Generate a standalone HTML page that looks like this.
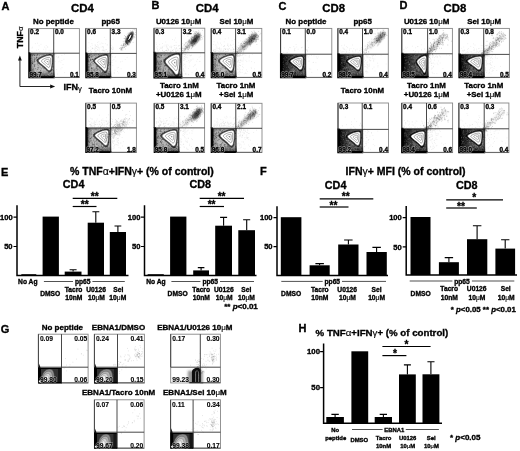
<!DOCTYPE html>
<html><head><meta charset="utf-8"><title>Figure</title>
<style>html,body{margin:0;padding:0;background:#fff}svg{display:block}text{font-family:'Liberation Sans', sans-serif;fill:#000;stroke:#000;stroke-width:.34px}.n{font-weight:normal;stroke-width:.15px}</style></head><body>
<svg width="520" height="451" viewBox="0 0 520 451">
<defs>
<linearGradient id="gq" x1="0" y1="0" x2="1" y2="0"><stop offset="0" stop-color="#000" stop-opacity="1"/><stop offset=".06" stop-color="#000" stop-opacity=".85"/><stop offset=".12" stop-color="#000" stop-opacity=".2"/><stop offset=".25" stop-color="#000" stop-opacity="0"/><stop offset="1" stop-color="#000" stop-opacity="0"/></linearGradient>
<linearGradient id="gd" x1="0" y1="0" x2="1" y2="0"><stop offset="0" stop-color="#000" stop-opacity=".9"/><stop offset=".25" stop-color="#000" stop-opacity=".6"/><stop offset=".5" stop-color="#000" stop-opacity=".15"/><stop offset="1" stop-color="#000" stop-opacity="0"/></linearGradient>
<linearGradient id="gb" x1="0" y1="0" x2="0" y2="1"><stop offset="0" stop-color="#000" stop-opacity=".35"/><stop offset=".12" stop-color="#000" stop-opacity="0"/><stop offset=".7" stop-color="#000" stop-opacity="0"/><stop offset=".93" stop-color="#000" stop-opacity=".5"/><stop offset="1" stop-color="#000" stop-opacity=".9"/></linearGradient>
<filter id="soft" x="0" y="0" width="100%" height="100%" filterUnits="userSpaceOnUse"><feGaussianBlur stdDeviation=".28"/></filter>
<filter id="b05" x="-20%" y="-20%" width="140%" height="140%"><feGaussianBlur stdDeviation=".5"/></filter>
<filter id="b15" x="-40%" y="-40%" width="180%" height="180%"><feGaussianBlur stdDeviation="1.3"/></filter>
<filter id="b07" x="-30%" y="-30%" width="160%" height="160%"><feGaussianBlur stdDeviation=".7"/></filter>
<filter id="b1" x="-30%" y="-30%" width="160%" height="160%"><feGaussianBlur stdDeviation="1"/></filter>
<filter id="b2" x="-50%" y="-50%" width="200%" height="200%"><feGaussianBlur stdDeviation="1.6"/></filter>
</defs>
<rect width="520" height="451" fill="#fff"/>
<g filter="url(#soft)">
<text x="1.4" y="9.8" font-size="11" text-anchor="start" font-weight="bold">A</text>
<text x="151.5" y="9.2" font-size="11" text-anchor="start" font-weight="bold">B</text>
<text x="278.6" y="9.5" font-size="11" text-anchor="start" font-weight="bold">C</text>
<text x="399.4" y="9.3" font-size="11" text-anchor="start" font-weight="bold">D</text>
<text x="0.9" y="175.6" font-size="11" text-anchor="start" font-weight="bold">E</text>
<text x="260" y="175.4" font-size="11" text-anchor="start" font-weight="bold">F</text>
<text x="0.8" y="332.6" font-size="11" text-anchor="start" font-weight="bold">G</text>
<text x="298.6" y="332.4" font-size="11" text-anchor="start" font-weight="bold">H</text>
<text x="82.4" y="11.5" font-size="11.4" text-anchor="middle" font-weight="bold">CD4</text>
<text x="207.2" y="11.5" font-size="11.4" text-anchor="middle" font-weight="bold">CD4</text>
<text x="333.7" y="12" font-size="11.4" text-anchor="middle" font-weight="bold">CD8</text>
<text x="454.9" y="11.5" font-size="11.4" text-anchor="middle" font-weight="bold">CD8</text>
<text x="53.4" y="23.7" font-size="7.9" text-anchor="middle" font-weight="bold">No peptide</text>
<text x="110.6" y="23.7" font-size="7.9" text-anchor="middle" font-weight="bold">pp65</text>
<text x="178.6" y="23.5" font-size="7.9" text-anchor="middle" font-weight="bold">U0126 10<tspan class="n">μ</tspan>M</text>
<text x="236.4" y="23.5" font-size="7.9" text-anchor="middle" font-weight="bold">Sel 10<tspan class="n">μ</tspan>M</text>
<text x="306" y="23.7" font-size="7.9" text-anchor="middle" font-weight="bold">No peptide</text>
<text x="362.6" y="23.7" font-size="7.9" text-anchor="middle" font-weight="bold">pp65</text>
<text x="426.6" y="23.5" font-size="7.9" text-anchor="middle" font-weight="bold">U0126 10<tspan class="n">μ</tspan>M</text>
<text x="484.2" y="23.5" font-size="7.9" text-anchor="middle" font-weight="bold">Sel 10<tspan class="n">μ</tspan>M</text>
<text x="110.4" y="92.7" font-size="7.9" text-anchor="middle" font-weight="bold">Tacro 10nM</text>
<text x="362.4" y="92.9" font-size="7.9" text-anchor="middle" font-weight="bold">Tacro 10nM</text>
<text x="179.4" y="87.7" font-size="7.9" text-anchor="middle" font-weight="bold">Tacro 1nM</text>
<text x="178.8" y="97.4" font-size="7.9" text-anchor="middle" font-weight="bold">+U0126 1<tspan class="n">μ</tspan>M</text>
<text x="236" y="87.7" font-size="7.9" text-anchor="middle" font-weight="bold">Tacro 1nM</text>
<text x="236.2" y="97.4" font-size="7.9" text-anchor="middle" font-weight="bold">+Sel 1<tspan class="n">μ</tspan>M</text>
<text x="426.4" y="87.7" font-size="7.9" text-anchor="middle" font-weight="bold">Tacro 1nM</text>
<text x="426.6" y="97.4" font-size="7.9" text-anchor="middle" font-weight="bold">+U0126 1<tspan class="n">μ</tspan>M</text>
<text x="483.8" y="87.7" font-size="7.9" text-anchor="middle" font-weight="bold">Tacro 1nM</text>
<text x="483.8" y="97.4" font-size="7.9" text-anchor="middle" font-weight="bold">+Sel 1<tspan class="n">μ</tspan>M</text>
<path d="M19.9 58V86.5H51" stroke="#111" stroke-width=".9" fill="none"/>
<path d="M19.9 55.4L18 60.4H21.8ZM55.2 86.5L50.2 84.6V88.4Z" fill="#111"/>
<text transform="translate(23.4 48.2) rotate(-90)" font-size="8.8" font-weight="bold">TNF<tspan class="n" font-size="8">α</tspan></text>
<text x="63.4" y="90" font-size="9" text-anchor="start" font-weight="bold">IFN<tspan class="n" font-size="7.6" dy="1">γ</tspan></text>
<g>
<clipPath id="ca1"><rect x="28.8" y="28.6" width="50.6" height="49"/></clipPath>
<clipPath id="qa1"><rect x="28.8" y="53.2" width="26.1" height="24.4"/></clipPath>
<g clip-path="url(#qa1)">
<rect x="28.8" y="53.2" width="26.1" height="24.4" fill="#000" opacity="0.28"/>
<rect x="28.8" y="53.2" width="26.1" height="24.4" fill="url(#gq)"/>
<rect x="28.8" y="53.2" width="26.1" height="24.4" fill="url(#gb)"/>
<path d="M32.5 60.4h0M48.7 56.9h0M40.8 74.6h0M47.4 54.9h0M53.2 69.3h0M43.1 55.8h0M42.3 62.3h0M32.4 63.6h0M36.9 58.3h0M42.2 65.9h0M46.4 66.2h0M49.2 61.3h0M39.5 70.7h0M32.3 57.8h0M37.4 58.5h0M51.6 62.1h0M35.7 62.7h0M41.2 58.8h0M52.1 74.8h0M31.4 72.7h0M44.6 56.6h0M52.6 62.5h0M36.1 59.4h0M43.4 64.3h0M51.6 60.4h0M33.8 65.4h0M42.8 74.9h0M48 62.8h0M46.1 68.8h0M41.5 67.5h0M35.5 71h0M42 55.6h0M39.3 70.9h0M41.7 75.4h0M39.2 67.7h0M50 60.6h0M48.4 69.3h0M38 70.1h0M43.9 68.9h0M37.1 57.5h0M41.2 76h0M38.9 75.6h0M45.9 63.7h0M39.3 67.5h0M41.3 55.1h0M47.3 76.3h0M40.3 72.5h0M51.6 68.5h0M34.9 71.2h0M47.8 58.4h0M40.5 61.1h0M40.6 59.7h0M45.3 67.6h0M42.8 56.3h0M40.3 74.3h0M30.8 64.6h0M32.9 64.2h0M47 56.5h0M42.8 69.5h0M46.7 72.5h0M52.7 68.3h0M46.4 59.6h0M32 71.8h0M37.9 57.5h0M44.4 72.7h0M36.2 67.2h0M52.9 60.7h0M52.4 65.7h0M50.2 68.3h0M41.6 60h0M50.1 73.2h0M33.8 63.6h0M37.9 74.2h0M41.4 72.9h0M47.8 56.4h0M41.9 68.7h0M33.9 61.2h0M38.7 71.1h0M38.2 66.4h0M37.7 64.5h0M34.6 74.3h0M40.3 55.5h0M41.1 66.7h0M48.5 61.5h0M49 55h0M42.8 71.1h0M41.3 66.8h0M48.6 74.2h0M51.1 67.6h0M46.3 61.7h0M49.1 76.3h0M52.3 56.8h0M31.7 55.4h0M50.9 70.6h0M37.1 62.5h0M41.7 62.3h0M49 73.8h0M47.2 61.5h0M34.2 74.1h0M45.9 68.6h0M32.4 61.6h0M39 55.5h0M49.4 59.7h0M40.6 75.9h0M44.5 63.3h0M47.5 57.8h0M49.6 60.9h0M48.2 74.4h0M31 57.9h0M40.4 71.6h0M41.4 57.2h0M32.1 75.7h0M43.2 66.1h0M44.7 55.2h0M49.8 75.1h0M52.4 62.2h0M33.7 70.6h0M36.1 65.9h0M45.9 56.3h0M33.8 56.6h0M35.9 57.5h0M44 57.8h0M34.7 55.4h0M48.7 55.3h0M50.4 75.4h0M31.6 56.2h0M43 65.6h0M49.1 56.9h0M53.1 59h0M37.1 71.3h0M34.7 75.2h0M50.9 64.7h0M51.6 54.3h0M35.3 76.6h0M40.9 55.3h0M47.3 62.9h0M50.2 66.3h0M34.7 74.2h0M46 72.6h0M49.3 67.9h0M43.4 63.1h0M34.6 72.9h0M31.6 73.7h0M37.2 73.7h0M49.3 70.3h0M31.8 56.4h0M31 60.9h0M39.1 65.1h0M32.3 65.5h0M34.2 72.9h0M31.3 59.5h0M42.8 69.1h0M46.8 62.6h0M40.6 71.6h0M33.9 58.6h0M38.4 64.9h0M44.3 56.5h0M52.3 58.9h0M53.5 75.1h0M36.3 61.3h0M31 74.2h0M49.8 65.9h0M52 55.1h0M41.3 72h0M48.5 55.4h0M50.6 72.7h0M44.8 54.4h0M50.8 69.3h0M31.3 57.9h0M37 61.9h0" stroke="#fff" stroke-width="0.9" stroke-linecap="round" fill="none" opacity="0.26"/>
<path d="M51.9 70.6h0M37.3 69.5h0M42 75.1h0M44.6 55.9h0M30.5 58.4h0M47.8 75.5h0M50.5 75.4h0M31 56h0M38.9 72.3h0M33 54.6h0M44.6 57.4h0M29.9 56.8h0M38 61.1h0M46.3 63.3h0M44.4 75.5h0M30.5 64.4h0M47.6 57.1h0M32.2 60.6h0M46.8 54.3h0M37.6 54.9h0M31.1 64.3h0M44.4 66.2h0M46.8 60h0M43.3 63.1h0M52.4 56.6h0M32.5 69.6h0M32.2 63.4h0M30.9 58h0M38.7 65.8h0M35.3 59.1h0M34.4 61h0M36.7 57.1h0M32.8 72.5h0M29.8 60.7h0M37 76.6h0M32.8 63.7h0M36.5 57.8h0M51 70.7h0M31.3 71.4h0M41.4 74.8h0M41.6 57.3h0M32.9 72.7h0M37 74.3h0M52.5 61.3h0M34.1 64.8h0M43.7 68.7h0M47.9 59.9h0M34.5 74.6h0M53.3 70.6h0M41.1 74.2h0M37.7 64.7h0M43.8 66.3h0M35.9 58.7h0M43.7 61.5h0M32.8 71.3h0M51 76.6h0M38.8 57.8h0M32.3 55.4h0M36.2 55.8h0M49.8 64.4h0M46.8 72.7h0M37.3 59.5h0M34.3 65.4h0M34.8 66.3h0M53 73.8h0M30.5 58h0M49.6 54.5h0M48.5 66.1h0M32 62.5h0M34.2 61h0M39.5 72.3h0M46.6 70.2h0M51.8 56.2h0M53.4 67h0M32.9 72.9h0M31.5 75.5h0M37.4 54.2h0M39.2 73.1h0M42 55.2h0M30.5 70.2h0M41.7 68.2h0M50.8 76.5h0M50.5 69h0M51.6 55.8h0M50.8 69.9h0M52.2 60.2h0M30 73.7h0M50.6 54.9h0M32.8 61.8h0M33.7 70h0M36.7 57.8h0M52 69.3h0M40.5 70.5h0M34.3 71.4h0M34.8 74.7h0M50.2 63.9h0M47.3 57.5h0M30.8 60.3h0M32.4 63.3h0M34.7 55.5h0M31.9 70.8h0M39.3 55.7h0M32 55.6h0M39.7 76h0M51.3 73.1h0M48.2 60.1h0M30.4 62.2h0M31.7 73.5h0M35.6 68.7h0M41.7 60.4h0M35 64.7h0M32.4 74.2h0M34.1 54.2h0M31.7 77.4h0M48.6 67.4h0M43.2 58.5h0M35.6 72.9h0M43.3 56h0M38.2 63.8h0M38.4 67.6h0M34.6 60h0M37.4 74.9h0M53.1 70.5h0M46 58h0M47.5 57.8h0M30.7 55.6h0M37.8 67.6h0M34.6 58.6h0M30.3 66.9h0M35.2 73.4h0M30.2 74.8h0M32.1 56.9h0M46.5 62h0M42.9 64h0M43.3 63.2h0M30.2 64h0M31.1 65h0M29.9 71.9h0M30.4 61.3h0M30.4 62.2h0M52.2 63.3h0M49.8 57.7h0M31.7 69h0M32.5 63.6h0M52.2 75.6h0M39.5 73.4h0M34.6 59.6h0M36.9 59.9h0M32.8 72.5h0M39.9 67.3h0M44.1 54.4h0M38.1 68.9h0M47.2 63.4h0M30.5 72.6h0M40.5 71.7h0M53.3 75.8h0M30.9 70.6h0M37.6 75.6h0M41.2 60.9h0M34 62.1h0M52.4 55.6h0M37.3 74.5h0M37.2 57.8h0M50.1 67.1h0M29.8 66.1h0M48.9 73.2h0M30.7 63.3h0M34.9 57.5h0M37.4 63.2h0M37.1 55.3h0M29.9 61.3h0M33.6 68.9h0M34.4 55.5h0M52 77.4h0M50.6 66.7h0M39.9 61.2h0M51.2 73.7h0M48.7 57.4h0M34.8 61.7h0M30.6 76.1h0M40.6 59.8h0M33.7 71.3h0M29.8 56.1h0M53 66.7h0M52.5 69.6h0M38.6 59.1h0M40.9 61.9h0M42.4 67.1h0M51 68h0M36.9 57.8h0M39.9 63.8h0M32 77.6h0M32.3 61.7h0M38.2 72.6h0M32.1 58.9h0M29.9 65h0M34.6 66.3h0M44.9 68.1h0M32.9 71h0M48.7 72.8h0" stroke="#000" stroke-width="0.9" stroke-linecap="round" fill="none" opacity="0.37"/>
<path d="M36.4 60.4 C36.8 58.1 45.6 54 50.1 54 C52.3 54 53.2 55 53.2 57.4 C53.2 61.5 53.2 65.6 52 70 C51.3 72.6 49.1 73.4 47.5 71.3 C44 67 36.4 63 36.4 60.4 Z" fill="#000" filter="url(#b07)" opacity="0.6"/>
<path d="M38.3 60.5 C38.5 58.7 45.9 55.3 49.7 55.3 C51.5 55.3 52.2 56 52.2 58.1 C52.2 61.5 52.2 64.9 51.2 68.6 C50.7 70.8 48.9 71.4 47.5 69.7 C44.5 66.1 38.3 62.7 38.3 60.5 Z" fill="#fff" stroke="#222" stroke-width=".5"/>
<path d="M41.4 60.9 C41.6 59.6 46.5 57.4 48.9 57.4 C50.1 57.4 50.6 57.9 50.6 59.2 C50.6 61.5 50.6 63.7 49.9 66.2 C49.6 67.6 48.4 68 47.5 66.9 C45.5 64.5 41.4 62.3 41.4 60.9 Z" fill="none" stroke="#555" stroke-width=".5"/>
<path d="M44.2 61.1 C44.3 60.5 46.9 59.2 48.3 59.2 C48.9 59.2 49.2 59.5 49.2 60.2 C49.2 61.5 49.2 62.7 48.8 64 C48.6 64.8 48 65 47.5 64.4 C46.4 63.1 44.2 61.9 44.2 61.1 Z" fill="none" stroke="#666" stroke-width=".5"/>
<path d="M46.5 61.4 C46.6 61.2 47.3 60.9 47.7 60.9 C47.9 60.9 47.9 60.9 47.9 61.1 C47.9 61.5 47.9 61.8 47.8 62.2 C47.8 62.4 47.6 62.5 47.5 62.3 C47.2 61.9 46.5 61.6 46.5 61.4 Z" fill="#888"/>
</g>
<g clip-path="url(#ca1)">
<path d="M49.1 50.2h0M51.9 51.4h0M54 43h0M39.3 51.7h0M52.4 53.1h0M44.4 47.1h0M37.6 43.2h0M35.3 43.6h0M50.8 50.7h0M47.4 46.9h0M32.6 47.2h0M46.2 45.6h0M32 51.7h0M41 44.3h0M45.7 52h0M47.8 47.2h0M34.9 52h0M32 48.1h0M45.9 48.1h0M52.2 49.9h0M51.6 50.7h0M40.2 52.5h0M45.9 49.8h0M49.6 52.3h0M53.6 52.8h0M43.7 49.3h0M53.7 48.9h0M39.1 45.8h0M36.5 50.2h0M38.5 49.6h0" stroke="#000" stroke-width="0.7" stroke-linecap="round" fill="none" opacity="0.11"/>
<path d="M59.9 61h0M57.4 74.1h0M63.9 59.2h0M64.7 72.7h0M56.4 69.5h0M55.2 61.3h0M63 64.5h0M55.7 54.5h0M58.9 61.8h0M62 67.7h0M58.7 56.5h0M64.4 54.4h0M56.2 54.3h0M61.9 55.5h0M56.3 56.6h0M60.9 68.9h0M61.9 60.5h0M60.9 62.2h0M57.9 57.8h0M58.7 57.5h0" stroke="#000" stroke-width="0.7" stroke-linecap="round" fill="none" opacity="0.11"/>
</g>
<rect x="28.8" y="28.6" width="50.6" height="49" fill="none" stroke="#888" stroke-width=".9"/>
<path d="M53.7 28.6V77.6M28.8 53.2H79.4" stroke="#1a1a1a" stroke-width=".8" fill="none"/>
<path d="M29.3 52.2V77.2H54.7" stroke="#000" stroke-width="1.9" fill="none"/>
<path d="M28.8 28.6V53.2" stroke="#333" stroke-width="1" fill="none"/>
<path d="M53.7 77.4H79.4" stroke="#666" stroke-width="1" fill="none"/>
<text x="30.1" y="34.3" font-size="6.4" text-anchor="start" font-weight="bold">0.2</text>
<text x="55" y="34.3" font-size="6.4" text-anchor="start" font-weight="bold">0.0</text>
<text x="29.4" y="76.9" font-size="6.4" text-anchor="start" font-weight="bold" style="stroke:#fff;stroke-width:1.3px;fill:#fff" opacity=".55">99.7</text>
<text x="29.4" y="76.9" font-size="6.4" text-anchor="start" font-weight="bold">99.7</text>
<text x="78.9" y="76.9" font-size="6.4" text-anchor="end" font-weight="bold">0.1</text>
</g>
<g>
<clipPath id="ca2"><rect x="85.8" y="28.4" width="50.6" height="49.2"/></clipPath>
<clipPath id="qa2"><rect x="85.8" y="53.4" width="25.7" height="24.2"/></clipPath>
<g clip-path="url(#qa2)">
<rect x="85.8" y="53.4" width="25.7" height="24.2" fill="#000" opacity="0.31"/>
<rect x="85.8" y="53.4" width="25.7" height="24.2" fill="url(#gq)"/>
<rect x="85.8" y="53.4" width="25.7" height="24.2" fill="url(#gb)"/>
<path d="M100.3 67.2h0M104.6 59.8h0M91.9 67.8h0M97.6 76.2h0M102.3 57.6h0M109.4 61.4h0M93.9 73.2h0M96.6 57.9h0M100.6 57.3h0M91 58.2h0M101.6 71.5h0M109.7 57.2h0M94 56.4h0M98.6 68.3h0M90.4 71.4h0M99.5 71.2h0M109.7 64h0M100 74.7h0M92.6 57.7h0M94.8 64.2h0M101.9 62.6h0M107.1 66.5h0M98 58.7h0M98.8 57.7h0M106 76.2h0M90.2 61.1h0M109.2 65.5h0M98.3 74.7h0M95.3 61.1h0M105.3 62.5h0M93.6 66.9h0M91.1 55.9h0M93.6 54.9h0M102.9 68.4h0M90.1 62.6h0M98 56.2h0M93.1 60.8h0M100.1 69.8h0M90.9 71.3h0M105.2 65.6h0M108.6 59.3h0M95 73h0M95.8 59h0M101.3 71.2h0M104.4 57.8h0M89.1 75.2h0M103 71.6h0M106.1 65.5h0M105.6 64h0M97.7 67.1h0M106.3 69.1h0M100.1 66.8h0M92 69.8h0M94.2 56.3h0M101.1 63.7h0M100.2 71.1h0M105.8 64.1h0M103.9 75.9h0M92.6 66.3h0M96.7 61.3h0M105.3 74.2h0M98.1 63.8h0M92.9 66.5h0M108.9 68.6h0M97.9 73.4h0M94.7 59h0M99.3 73.8h0M94.6 67.1h0M93.9 62.5h0M102.7 61.8h0M105.7 76.2h0M97 75.4h0M91.4 66.5h0M98.5 62.1h0M96.8 76h0M97.6 54.8h0M93.2 55.5h0M105.1 65.2h0M92.4 67.4h0M88.7 54.5h0M103.6 58.6h0M104.5 56.3h0M93.2 59.9h0M91.7 58.5h0M100.9 57.2h0M108.5 57.3h0M93.5 62.6h0M100 57.3h0M93.7 71.6h0M104.5 63.3h0M98.3 57h0M96.3 68.9h0M102.6 71.9h0M99.8 62.4h0M92.3 54.5h0M97.2 68.8h0M109.3 71.1h0M105.8 74.1h0M99.3 70.2h0M102.7 67.6h0M91 62h0M97.1 59.8h0M107.9 55.8h0M92 72.6h0M109.9 66.8h0M106.9 60.8h0M103.2 57.2h0M96.2 60.8h0M89.9 71.2h0M94.4 59.2h0M104.5 55.6h0M97.3 62.8h0M105.9 61.9h0M92.7 69.9h0M106.3 66.7h0M107.2 64.9h0M104 76.1h0M92.4 73.1h0M92.8 57.2h0M89.2 59.9h0M89 63.7h0M104.4 56h0M98.9 71.2h0M104.9 71.5h0M94.2 60.9h0M95.6 74.5h0M107.9 66.7h0M110.2 59.4h0M90.1 68.2h0M105.3 69.3h0M100.3 70.3h0M87.9 76h0M101.7 74.7h0M94.1 63.6h0M95.7 64h0M109.6 54.9h0M104.5 63.7h0M89 58.3h0M103.1 57.1h0M88.1 72.5h0M107.7 54.9h0M101.2 57.3h0M102 69.1h0M88.2 67h0M89.7 63.9h0M99.6 72.3h0M96.4 59.7h0M106.2 59h0M94.2 65.8h0M96.8 56.8h0M90.5 69.7h0M99.1 75.2h0M109.3 72.4h0M93.8 74h0M105.6 56h0M91.5 63.8h0M107.7 74.4h0M99.3 73.1h0M90.6 67.6h0M105.4 68.9h0M107.8 60.3h0M91.1 60.3h0M90.4 55.9h0M93.5 74.4h0M99.4 60.8h0M109.2 76.4h0M107.2 54.6h0M95.1 72.1h0M88.6 66.1h0M101.2 55.3h0" stroke="#fff" stroke-width="0.9" stroke-linecap="round" fill="none" opacity="0.25"/>
<path d="M99 68.8h0M100.2 68.2h0M100.1 58.8h0M100 57.5h0M99.4 55.7h0M102.2 56.6h0M91.8 68.7h0M108.7 68.5h0M94.1 55.3h0M89.7 73.8h0M110 64.6h0M89.9 66.9h0M93.1 56.1h0M100 74.3h0M103.2 56.3h0M90.5 59.3h0M86.9 65.2h0M96.6 65.9h0M97 66.8h0M101 76.1h0M89.5 55.2h0M103.9 70.1h0M102.4 64.4h0M105.3 73.2h0M101.8 69.9h0M99.3 73.3h0M95.9 74.4h0M105.2 72.5h0M89 57.5h0M99 66.9h0M103 72.3h0M102.4 72.4h0M87.7 75.9h0M90.5 64h0M107.8 54.6h0M102.4 71.3h0M88 60.9h0M94.1 69.6h0M103.6 55.5h0M105.2 62.6h0M95.1 69.1h0M87.4 57.3h0M88.9 61.8h0M86.9 57.8h0M88.1 75.1h0M87.1 72.4h0M100.1 69.2h0M100.1 66.5h0M93.2 77.1h0M106 60.4h0M87.9 70.8h0M88.5 56.4h0M97.5 68.8h0M95.3 58.9h0M87.6 54.6h0M106.9 75.5h0M97.8 60.9h0M97.4 77.4h0M91.7 70.2h0M97.4 70h0M87.1 70h0M90.2 77.4h0M98.1 59.6h0M97.1 77.3h0M95.2 61.9h0M87 56.6h0M90.6 75.8h0M109.7 56.7h0M108.2 65.4h0M103.9 73.7h0M87.1 60.8h0M87.2 71.1h0M88.8 69.3h0M104.2 70.4h0M88.6 57.9h0M89 70.7h0M89.5 73.9h0M101.1 57.7h0M95.2 76.7h0M105.3 76.5h0M87.2 61.8h0M87 76.6h0M104.8 76.2h0M87.5 57.1h0M100.5 71.7h0M97.3 76.7h0M88.7 73.5h0M89.5 57.5h0M101.3 63.9h0M86.9 67.5h0M108.7 63h0M87 63.4h0M88.1 56.6h0M98.3 54.6h0M87.5 61.5h0M110.2 64.2h0M93 67.8h0M87.1 76.6h0M88.1 56.5h0M95.6 62.5h0M105.6 74.6h0M89.5 73.6h0M92.2 57h0M96.3 70.1h0M98.6 56.5h0M100.8 76.3h0M90.7 60.4h0M91.6 68.5h0M105.7 65.3h0M106.9 66.3h0M92.6 59.4h0M110.2 62.7h0M88.2 61h0M104 68.7h0M107 64.2h0M96.2 68.1h0M99.8 66.9h0M87.1 69.9h0M104.7 77h0M99.6 66.8h0M96.6 67.1h0M96.7 68.6h0M88.1 67.1h0M104.8 63.9h0M95.3 60.1h0M97.4 66.8h0M88.2 60.1h0M98 69.7h0M89.2 75h0M102 73h0M86.9 72.6h0M87.6 59.3h0M88.8 55.2h0M92.2 59.1h0M105.6 67.6h0M86.8 57.3h0M96 56.7h0M86.9 77.6h0M91.8 62.6h0M90.2 55.9h0M88.1 66.3h0M94 70.6h0M91 65.1h0M89.6 57.4h0M97.5 66.3h0M89.3 56h0M109.3 71.3h0M89.3 76.2h0M109.9 55.4h0M88.1 67.6h0M108.4 73.7h0M87.1 69.3h0M86.8 57.9h0M87.4 56h0M100.3 65h0M89.1 55.5h0M89.8 73.8h0M99.3 66.4h0M86.9 61.7h0M95.6 72.3h0M92.2 59.4h0M88.1 66.3h0M107.1 66.1h0M91.4 56.8h0M90.1 73h0M99.9 70.6h0M105.1 59h0M89 64.4h0M87.7 61.6h0M108.8 76.1h0M92.8 69.9h0M95.4 76.3h0M93.5 72.2h0M104.2 72.8h0M92.9 61.6h0M101.9 74.1h0M95.1 62.2h0M87.2 73.6h0M94.8 70.9h0M105.1 66.2h0M95.3 58.4h0M92.1 68.3h0M86.9 68.9h0M100.1 70.3h0M92.1 55.9h0M90.7 60.2h0M91.6 67.4h0M92.6 74.2h0M90.9 59.8h0M90.1 75.2h0M93.6 77h0M87 56.5h0M89 71.2h0M93.1 63.6h0M106.1 57.6h0M92.8 59.6h0M96 62.8h0M106.4 54.8h0M103.4 70.5h0M100.5 64.9h0" stroke="#000" stroke-width="0.9" stroke-linecap="round" fill="none" opacity="0.38"/>
<path d="M92.9 60.6 C93.2 58.3 101.6 54.1 105.9 54.1 C108 54.1 108.7 55 108.7 57.5 C108.7 61.7 108.7 65.9 107.6 70.5 C107 73.2 104.9 74 103.4 71.9 C100 67.5 92.9 63.3 92.9 60.6 Z" fill="#000" filter="url(#b07)" opacity="0.62"/>
<path d="M94.6 60.8 C94.9 58.8 101.9 55.3 105.5 55.3 C107.2 55.3 107.8 56.1 107.8 58.2 C107.8 61.7 107.8 65.2 106.9 69.1 C106.4 71.3 104.7 71.9 103.4 70.2 C100.6 66.5 94.6 63 94.6 60.8 Z" fill="#fff" stroke="#222" stroke-width=".5"/>
<path d="M97.6 61.1 C97.8 59.8 102.4 57.5 104.7 57.5 C105.9 57.5 106.3 58 106.3 59.4 C106.3 61.7 106.3 64 105.7 66.6 C105.4 68 104.2 68.5 103.4 67.3 C101.5 64.9 97.6 62.6 97.6 61.1 Z" fill="none" stroke="#555" stroke-width=".5"/>
<path d="M100.2 61.4 C100.3 60.7 102.8 59.4 104.1 59.4 C104.7 59.4 105 59.7 105 60.5 C105 61.7 105 63 104.6 64.4 C104.4 65.2 103.8 65.4 103.4 64.8 C102.4 63.4 100.2 62.2 100.2 61.4 Z" fill="none" stroke="#666" stroke-width=".5"/>
<path d="M102.5 61.6 C102.5 61.4 103.2 61.1 103.6 61.1 C103.7 61.1 103.8 61.2 103.8 61.4 C103.8 61.7 103.8 62.1 103.7 62.5 C103.7 62.7 103.5 62.7 103.4 62.6 C103.1 62.2 102.5 61.9 102.5 61.6 Z" fill="#888"/>
</g>
<g clip-path="url(#ca2)">
<path d="M96.7 48.3h0M110.1 47.2h0M112.7 47h0M99.6 50h0M95.8 51h0M103.3 50.3h0M98.2 48h0M110.7 45.4h0M95.2 53.4h0M91.1 51.6h0M88.2 47.9h0M92.2 47.6h0M90.2 50.7h0M111.2 45.4h0M105.3 52h0M102.7 53.3h0M112.1 49h0M103.7 48.1h0M106 49.5h0M91.9 49.1h0M95.2 51.7h0M103.7 47h0M109.3 52.8h0M95.1 50.9h0M99.5 53.2h0M95.1 44.8h0M95.2 47.1h0M102.6 46.6h0M111.4 48h0M112.9 49.5h0M102.4 50h0M88.4 51.7h0M94.9 48.1h0M104.7 52.3h0M111.6 48.7h0M91.6 52.5h0M109.1 52.8h0M110.4 49.6h0M90.1 52.2h0M111.1 51.8h0M103.1 46.8h0M109.6 52.4h0M105.1 50h0M105.3 43.7h0M110.3 51.6h0M107.4 51.9h0M98.3 50.2h0M97.6 42.4h0M112.7 49.3h0M94.6 49.8h0M97.5 49.9h0M91.5 51.7h0M96.5 46.7h0M102.8 52.7h0M92.8 48.5h0M98.8 41.8h0M103.5 50.6h0M97.7 49.8h0M107.2 45.1h0M101.1 47.1h0M96.2 50.5h0M106.4 49.7h0M102.1 50.5h0M99.4 51.9h0M91.9 43.5h0M113.2 47.4h0M92.3 48.5h0M97.7 44.8h0M102.9 43.5h0M111.8 49h0M95.6 48.1h0M90.7 46.7h0M106 39.7h0M112.3 52.2h0M99.4 48.1h0M113.5 48.8h0M96.1 53.1h0M110.5 47.1h0M87.8 52.1h0M105.3 53.3h0M110.6 52h0M95 46h0M109.6 50.8h0M103.2 52.1h0M96 53.2h0M88.9 42.7h0M104.8 50.3h0M97.5 47.1h0M101.8 43h0M92.9 48.7h0M88.3 51.2h0M90.3 52.5h0M104.3 37.4h0M91.1 39.7h0M95.5 45.3h0M103 47.7h0M94.8 52.6h0M100 44.1h0M98.4 47.3h0M107.8 51.7h0M98.2 45.9h0M95.1 48.9h0M113.2 39.1h0M92.2 45.2h0M104.3 51.1h0M103.8 49.2h0M96.8 46.5h0M106.9 52.8h0M107.2 44.7h0M100.1 52.5h0M96.1 51.8h0M90.7 50.1h0M110.2 50.6h0M113.1 52.9h0" stroke="#000" stroke-width="0.7" stroke-linecap="round" fill="none" opacity="0.11"/>
<path d="M114.9 70.1h0M114.2 73.6h0M112 62.5h0M115 57.3h0M120.5 61.9h0M117.5 71.5h0M118.8 73h0M125.2 59.5h0M122.2 61.3h0M121.1 68.8h0M113.9 59.5h0M112.6 56.8h0M127.1 57.4h0M115.9 61.1h0M115.5 56.8h0M117.2 67.9h0M112.8 65.4h0M114.2 72.6h0M118.4 67.4h0M112.8 60.6h0" stroke="#000" stroke-width="0.7" stroke-linecap="round" fill="none" opacity="0.11"/>
<path d="M123.8 45.8h0M125 46.6h0M127 38.1h0M126 41.3h0M121.6 48.1h0M127 38.9h0M132.8 37.5h0M128.8 39.5h0M128.5 38.9h0M129 39.7h0M127.6 42.7h0M128.5 39.1h0M121.1 48.5h0M128.8 39.8h0M126.6 41.8h0M125.1 45h0M122.1 45.5h0M126 38.5h0M125 44.1h0M123.2 41.3h0M126.1 46.1h0M128.6 38.6h0M124.1 44.9h0M123 46.6h0M124.2 45.3h0M128.5 39.7h0M121.6 49.4h0M126.9 41.9h0M130.1 42.6h0M127 42.9h0M126.1 43.8h0M127.3 43.3h0M121.4 48.3h0M125.4 44.6h0M125.6 40.7h0M124.5 47.4h0M125.6 42.3h0M122.2 45.9h0M121.7 45h0M124.1 47h0M128.2 44h0M128.9 40.7h0M127.3 38.7h0M126.2 42.6h0M120.9 49.6h0M127 41.2h0M128 38.2h0M120.1 48.3h0M125.9 43.4h0M121.6 49.7h0M126.9 40.6h0M123.3 45h0M131.7 39.9h0M126 41.1h0M126.9 40.9h0M126.3 42.5h0M123.3 43.7h0M122.1 48.7h0M127.9 38.8h0M123.7 43.8h0M124.6 43.6h0M127.5 44.1h0M123 47.7h0M126.2 44.7h0M125.3 44.8h0M127.8 36.7h0M130 38.6h0M123.8 45.2h0M126.9 38.3h0M120.9 50h0M126.1 41.4h0M129.6 39.3h0M123.3 45h0M125.4 45.8h0M128.7 39.7h0M126.7 41.1h0M128.5 38.4h0M123.9 45.2h0M121 45.7h0M119.6 48.4h0M124.1 41.9h0M122.8 49.9h0M127.5 41.4h0M122.7 47.8h0M125.9 41.8h0M124 43h0M122.3 47.4h0M125.7 42.6h0M130.6 38.3h0M125.7 41.6h0M126.5 42.9h0M126.1 42.9h0M129.9 37.3h0M129 38.7h0M129.8 37.8h0M125 43.7h0M123.5 45.1h0M121.8 50.2h0M124.3 47.1h0M130.6 36.5h0M126.9 40.3h0M126.9 43.2h0M123 47.5h0M129.7 40.4h0M121.2 47.3h0M127.7 40.8h0M129.6 40.9h0M129 39.5h0M129.9 40h0M126.8 40.2h0M126.1 41.3h0M126 42.1h0M129.2 39.8h0M123 48.1h0M126 46.6h0M127.7 38.9h0M130.6 37.3h0M128.8 40.3h0M120.8 47.6h0M129.4 40.3h0" stroke="#000" stroke-width="0.7" stroke-linecap="round" fill="none" opacity="0.25"/>
<path d="M129.4 41.7h0M127.3 36.5h0M125 41.7h0M127.9 38.7h0M128.7 36.7h0M133.9 33.4h0M125.5 39.1h0M130.4 36.8h0M123.9 44.5h0M128 42.7h0M128.2 41h0M127.6 39.3h0M133.8 38.3h0M130.5 35.7h0M128.2 44.6h0M128.3 35h0M127.1 41.8h0M133 31.6h0M130.2 37h0M129.2 37.2h0M127.8 37.9h0M124.5 35.5h0M128.5 37.5h0M126.7 39.7h0M130.4 35.1h0M131.3 37.8h0M134.4 37.2h0M130.2 38.7h0M132.3 36.5h0M129 41.2h0M137.3 26h0M129 41h0M128.2 39.4h0M130.7 34.3h0M132.3 33.9h0M130.8 42.3h0M127.6 44.5h0M129.4 44.3h0M125.5 40.4h0M128.4 41h0M129.8 38.9h0M132.2 34.8h0M129.3 33h0M125.4 38.6h0M127.1 34.3h0M130.5 34.6h0M135.8 35h0M129.5 38.8h0M126.1 39.6h0M131.4 35.7h0M131.8 32.4h0M128.7 40h0M132.4 30.8h0M130.6 30.9h0M128.1 38.5h0M127.7 44.2h0M128.8 40.4h0M130.8 40.3h0M128.8 35.3h0M128 44.8h0M134.1 29.5h0M134.2 29.9h0M130.1 41.7h0M125.8 44.5h0M129.6 38.9h0M131.3 37.1h0M133.1 33.8h0M132.1 36.2h0M131.2 39.9h0M126.6 45.5h0M129.8 35.9h0M135 37.2h0M128.9 39.1h0M130.6 37.4h0M128.7 36.7h0M125.6 37.1h0M126.1 41.5h0M130.3 36.9h0M127.7 43.5h0M132.2 33.2h0M129.1 41.9h0M132 37.2h0M129.7 41.5h0M130.2 36.8h0M129.3 38.9h0M130.2 36h0M126.6 40.1h0M128.7 45.1h0M127 38h0M128.7 39.3h0M127.1 43.6h0M124.8 38.7h0M127.6 44.6h0M129.2 37.4h0M129.2 39.6h0M129 37.8h0M132 27.6h0M130.1 37.7h0M130.4 36.9h0M132.3 36.7h0M130 39h0M125.7 38.8h0M132.9 35.9h0M132.7 35.1h0M125.3 49h0M130 39.1h0M127.8 38.7h0M129.3 40.5h0M131.3 33.4h0M133.1 42.4h0M130.8 34.9h0M126.7 39.1h0M128.2 39.3h0M133.2 36.8h0M127.2 40.2h0M125.3 36.6h0M129.8 43.2h0M128.4 41.5h0M130.1 35.1h0M131.8 36.7h0M125.9 41.4h0M125.4 41.3h0M135.8 29.9h0M127.5 39.9h0M128.7 41.6h0M130.5 36.3h0M129.4 41.6h0M129 39.5h0M127.9 33.2h0M132.5 35.2h0M128.4 38.4h0M133.4 34.1h0M129.4 38.7h0M131.3 40.2h0M129 37.9h0M125.7 37.5h0M130 36h0M130.9 37.6h0M127.5 40.6h0M129.1 37.1h0M130.8 41.3h0M128.2 40h0M130.9 39.5h0M131.7 34.6h0M127.7 35.9h0M130.4 32.8h0M131.9 32.3h0M129.9 38.5h0M127.1 39.6h0M125.8 39.7h0M128.4 36.3h0M130.3 34.6h0M131.1 31.8h0M126.1 42.2h0M134.2 36.4h0M132 34.6h0M132.8 28.8h0M129.9 37.4h0M132 39.6h0M127.7 44h0M127.9 40.8h0M125.3 40.9h0M124.9 40.2h0M127.3 41h0M126.5 43.4h0M126.8 37h0M128.1 35.6h0M130.9 35.4h0M125.8 36.5h0M128.8 32.9h0M131.4 34.3h0M127.6 43.9h0M129.5 39.3h0M128.8 43.3h0M130.2 42.9h0M131.3 38.2h0M128.9 38.3h0M135.7 34.7h0M136.1 32.3h0M131.8 37.4h0M127.9 38.1h0M129.9 38.9h0M126.2 36.3h0M130.1 35.8h0M124.2 38.5h0M130 35.6h0M130.7 39.8h0M131.6 34.3h0M134.7 34.6h0M132.8 31.9h0M129.4 38.7h0M126.5 42.6h0M127.2 44.4h0M129 39h0M128.8 44.1h0M129 45.2h0M129.5 39.6h0M125.9 40.6h0M131.8 36.1h0M135.4 32.3h0M130.2 39.4h0M130.6 37.2h0M128.1 44.4h0M132 38.5h0M124.1 38.3h0M129.9 43.2h0M127.3 45.3h0M133.4 32.8h0M125.7 43.3h0M127.7 42.5h0M130.6 38.5h0M127.8 35.7h0M131.3 37.6h0M129.9 37.7h0M130.3 42.4h0M132.1 35.9h0M129.7 37.2h0M127 43.2h0M133.6 32.9h0M129.2 39.3h0" stroke="#000" stroke-width="0.75" stroke-linecap="round" fill="none" opacity="0.22"/>
<ellipse cx="129.6" cy="37.8" rx="7" ry="2.9" transform="rotate(-62 129.6 37.8)" fill="#000" opacity=".6" filter="url(#b07)"/>
<ellipse cx="129.9" cy="37.2" rx="3.8" ry="1.15" transform="rotate(-62 129.9 37.2)" fill="#fff" stroke="#000" stroke-width=".8"/>
</g>
<rect x="85.8" y="28.4" width="50.6" height="49.2" fill="none" stroke="#888" stroke-width=".9"/>
<path d="M110.3 28.4V77.6M85.8 53.4H136.4" stroke="#1a1a1a" stroke-width=".8" fill="none"/>
<path d="M86.3 52.4V77.2H111.3" stroke="#000" stroke-width="1.9" fill="none"/>
<path d="M85.8 28.4V53.4" stroke="#333" stroke-width="1" fill="none"/>
<path d="M110.3 77.4H136.4" stroke="#666" stroke-width="1" fill="none"/>
<text x="87.1" y="34.1" font-size="6.4" text-anchor="start" font-weight="bold">0.6</text>
<text x="111.6" y="34.1" font-size="6.4" text-anchor="start" font-weight="bold">3.3</text>
<text x="86.4" y="76.9" font-size="6.4" text-anchor="start" font-weight="bold" style="stroke:#fff;stroke-width:1.3px;fill:#fff" opacity=".55">95.8</text>
<text x="86.4" y="76.9" font-size="6.4" text-anchor="start" font-weight="bold">95.8</text>
<text x="135.9" y="76.9" font-size="6.4" text-anchor="end" font-weight="bold">0.3</text>
</g>
<g>
<clipPath id="ca3"><rect x="85.8" y="103.1" width="50.6" height="49.4"/></clipPath>
<clipPath id="qa3"><rect x="85.8" y="127.9" width="25.8" height="24.6"/></clipPath>
<g clip-path="url(#qa3)">
<rect x="85.8" y="127.9" width="25.8" height="24.6" fill="#000" opacity="0.31"/>
<rect x="85.8" y="127.9" width="25.8" height="24.6" fill="url(#gq)"/>
<rect x="85.8" y="127.9" width="25.8" height="24.6" fill="url(#gb)"/>
<path d="M87.9 136.7h0M90.7 140.8h0M92.3 130.7h0M105.4 148.4h0M96.2 143.6h0M92.3 136h0M96.2 142.6h0M93.6 151.1h0M93.5 142.5h0M100.6 138.1h0M103 144.3h0M93.4 146h0M100.2 144.4h0M88.5 133.7h0M109.8 129.4h0M90.1 136.1h0M100.4 138.7h0M110.3 147.7h0M95.1 130.9h0M94.3 148h0M104.5 130.2h0M98.3 136h0M93.8 138h0M100.7 150h0M106.5 150.3h0M102.9 129.8h0M93.2 133.3h0M102.9 139h0M108.8 135.1h0M92.3 150.4h0M102.5 142.7h0M99.1 136.3h0M102.8 142.5h0M90.9 144.1h0M93.1 148.3h0M95.7 149h0M106.8 138.4h0M96.5 146h0M95.4 150.9h0M104.6 141h0M90.9 145.4h0M95 139.9h0M100.2 137.5h0M95.6 133.5h0M101.3 131h0M101.4 136.2h0M91 136.9h0M90.8 141.8h0M105.5 144.1h0M97.2 145h0M91.2 146.3h0M89.5 141.8h0M97.3 140.5h0M106.8 142.7h0M92.4 144.8h0M110.3 148h0M88.3 134.6h0M101.2 148.3h0M103.6 133.4h0M99.8 129.3h0M93.7 146.9h0M95 134.1h0M100.3 147.9h0M108 137h0M97.3 136.9h0M95.6 148.6h0M96.8 146.1h0M110.4 130.2h0M93.8 150.2h0M91.7 133.6h0M108 144h0M90.6 150.2h0M106.8 147.9h0M101.9 139.9h0M109.4 150.3h0M95 144.4h0M107.1 134.5h0M89.8 150.7h0M105.5 141.7h0M95.2 136.2h0M98.2 138.7h0M105.8 133.3h0M102.1 141.9h0M98.2 141.7h0M94.4 132.5h0M104.9 138.3h0M98.3 134.9h0M93.3 149.1h0M96.7 133.3h0M105.8 142.6h0M89.1 143.4h0M95.1 142.5h0M104.2 137.3h0M101.6 134.4h0M97.7 129.1h0M91.3 133.5h0M88.9 147.3h0M96.9 135.2h0M103.4 141h0M93.9 135.6h0M108.2 130.4h0M101.8 138.4h0M98.1 151.3h0M104.9 138h0M94.6 136.4h0M108 141.8h0M96.1 137h0M87.9 134.2h0M109.9 137.5h0M99 149.2h0M108.2 132.1h0M90.3 131.9h0M92.3 145.9h0M98.7 133.1h0M108 131.9h0M89.9 134.4h0M100 148.8h0M104.9 150.2h0M96.6 150h0M97.9 136h0M108.9 149.4h0M99.9 130.3h0M103.4 139.8h0M103 141.4h0M108.1 139.1h0M95.5 151h0M100.2 145.9h0M92.6 139.7h0M95.3 145.5h0M106.4 146.1h0M109.6 131.4h0M95.2 136.2h0M105 136.3h0M100 150.2h0M103.5 148.2h0M96.1 135.7h0M95.8 151.2h0M92.5 130.5h0M99.1 136.4h0M89.1 133.4h0M107.2 140.7h0M93.3 149.3h0M102.1 146.7h0M99.2 129.7h0M95.7 134.5h0M109.1 146.5h0M107 135.2h0M104.4 147.4h0M90.5 143h0M98.2 144.7h0M102.5 145h0M90 141.9h0M103.5 133.1h0M106.3 147.2h0M109.3 141.6h0M99.1 145.2h0M88.4 129.5h0M92.5 133h0M106 141.7h0M91.2 147h0M101.9 137.1h0M102.6 145.9h0M97.8 128.9h0M105.5 129.9h0M90.6 144.5h0M101.8 151.2h0M96.4 136h0M107.2 136.5h0M96.8 136.6h0M92.1 142h0" stroke="#fff" stroke-width="0.9" stroke-linecap="round" fill="none" opacity="0.25"/>
<path d="M92.1 142.4h0M91.5 137.7h0M102.2 144.4h0M86.8 139h0M105.7 139.4h0M101.4 138.2h0M108.8 142.4h0M104.7 128.9h0M103.1 143.1h0M90.1 131.7h0M102.7 134.3h0M97.1 148.1h0M91.2 134.3h0M103.6 143.5h0M94.3 134.9h0M109.8 152.4h0M100.8 152.1h0M106 136.7h0M106.8 150.4h0M96.8 150.4h0M106.5 133.7h0M97.2 137.8h0M94.9 133.3h0M110.2 134.3h0M100 141.3h0M99.9 140.8h0M110 139.6h0M98 133.6h0M86.8 141.5h0M99.4 151.2h0M98 137.4h0M101 145.1h0M109.5 134.3h0M101.3 146.7h0M110.2 142.5h0M102.9 150.6h0M109.6 130.7h0M93 144.4h0M89.3 138.8h0M95.9 137.6h0M106.3 136.8h0M105.3 150.2h0M99.2 134.9h0M92.3 143.8h0M89.8 129.5h0M86.9 151.6h0M92.6 147.8h0M94.7 145.2h0M109.7 141.1h0M96.3 137.4h0M96.6 139.2h0M93.7 144.5h0M86.8 140.9h0M90 150h0M98.9 136.6h0M100.4 149.3h0M108.6 136h0M94.1 132.3h0M99.8 131.9h0M103.2 135.2h0M102 150.5h0M87.7 147.8h0M106.4 146.3h0M101.8 136.1h0M99.2 134h0M87.9 137.4h0M108.3 144.7h0M99.5 132.7h0M88.5 141.4h0M96.8 137.6h0M87.9 146.8h0M87 144.1h0M100.5 132.4h0M101.3 136.2h0M95 148h0M87.9 149.8h0M90.7 141h0M87.4 148.4h0M89 133.9h0M87.1 138.5h0M99 144.1h0M102.6 129.6h0M95 141.4h0M99 149h0M87.9 133.9h0M107 129.2h0M97.1 144.2h0M87.6 144.5h0M95.5 134.6h0M93.6 136.6h0M105.6 137h0M101.7 130.9h0M87.4 146.5h0M98.6 134h0M87 147.1h0M94.5 144.3h0M104.5 131.3h0M88.4 146.6h0M98.6 132.3h0M92.4 144.4h0M87.5 130.7h0M106.3 142.6h0M100.7 139.4h0M89.7 141.3h0M88.6 146.6h0M91.4 146.3h0M100.6 130h0M107.3 132.8h0M95 152.1h0M86.8 139.3h0M86.8 148.3h0M89.3 141.9h0M102.8 147.1h0M88.2 130.6h0M96.6 140.7h0M86.9 146.7h0M90.7 138.7h0M98.9 145.8h0M99.6 148.5h0M86.8 148.1h0M88.3 133.7h0M89.1 150.3h0M89.5 142.6h0M91.4 133.2h0M102.9 147.6h0M87.4 134.9h0M89.1 136.8h0M94.2 138.7h0M102.7 140.8h0M102.4 133h0M87.5 149h0M95.5 148.2h0M98.6 136.1h0M93 151.8h0M105.1 130.3h0M87.5 131.8h0M96.1 147h0M100.6 134.6h0M109.7 133.8h0M86.8 129.4h0M100.9 136.7h0M91 130.7h0M101.5 144h0M95.3 129h0M102.7 139.2h0M88.1 149.8h0M107.3 142.2h0M92 136.7h0M103.4 131.5h0M90.1 151.4h0M87.8 129.3h0M91.1 140.7h0M99.4 137.6h0M107.4 147h0M94.5 142.8h0M90.9 151h0M107.9 151.4h0M101.4 146.1h0M93.4 140.1h0M98.7 141.5h0M89.4 150.6h0M94.5 146.3h0M92.3 146.6h0M89.3 151.1h0M87.3 137.7h0M89 148.5h0M103.3 146.7h0M102 138h0M93.1 146.7h0M106.1 131.4h0M88 129.3h0M101.2 149.5h0M102.1 152h0M87.1 139.1h0M105.5 138.1h0M102.5 134.3h0M93.7 151h0M94.4 135h0M96.8 144.1h0M94.1 148.1h0M87 139.6h0M92.9 151.5h0M105.5 137.5h0M95.5 147.2h0M89.3 134h0M107 140.3h0M92.8 145.4h0M88.4 134.9h0M97.1 148.6h0M88.2 151.1h0M97.9 135.7h0M99.5 140.6h0M88.5 129.3h0M90.5 138.4h0M96.9 143h0M88.9 132.7h0M104 152h0M101.1 133h0M88.3 140.8h0M96.9 129.1h0" stroke="#000" stroke-width="0.9" stroke-linecap="round" fill="none" opacity="0.38"/>
<path d="M92.8 135.1 C93.1 132.9 102.1 128.7 106.6 128.7 C108.8 128.7 109.6 129.7 109.6 132.1 C109.6 136.2 109.6 140.4 108.5 144.9 C107.8 147.5 105.6 148.2 103.9 146.2 C100.4 141.9 92.8 137.7 92.8 135.1 Z" fill="#000" filter="url(#b07)" opacity="0.62"/>
<path d="M94.7 135.3 C94.9 133.4 102.4 130 106.2 130 C108 130 108.7 130.8 108.7 132.8 C108.7 136.2 108.7 139.7 107.7 143.4 C107.1 145.6 105.3 146.2 103.9 144.5 C101 140.9 94.7 137.5 94.7 135.3 Z" fill="#fff" stroke="#222" stroke-width=".5"/>
<path d="M97.8 135.6 C98 134.4 102.9 132.1 105.4 132.1 C106.6 132.1 107.1 132.6 107.1 134 C107.1 136.2 107.1 138.5 106.4 141 C106 142.4 104.8 142.8 103.9 141.7 C102 139.3 97.8 137.1 97.8 135.6 Z" fill="none" stroke="#555" stroke-width=".5"/>
<path d="M100.6 135.9 C100.7 135.2 103.4 134 104.7 134 C105.4 134 105.6 134.3 105.6 135 C105.6 136.2 105.6 137.5 105.3 138.8 C105.1 139.6 104.4 139.8 103.9 139.2 C102.9 137.9 100.6 136.7 100.6 135.9 Z" fill="none" stroke="#666" stroke-width=".5"/>
<path d="M103 136.1 C103 136 103.8 135.6 104.1 135.6 C104.3 135.6 104.4 135.7 104.4 135.9 C104.4 136.2 104.4 136.6 104.3 137 C104.2 137.2 104.1 137.2 103.9 137.1 C103.6 136.7 103 136.4 103 136.1 Z" fill="#888"/>
</g>
<g clip-path="url(#ca3)">
<path d="M95.5 124.7h0M108.6 114.8h0M98.3 126.7h0M109.9 119.9h0M109 126h0M99 121.9h0M91.8 126.2h0M108.7 122.2h0M111.6 127.8h0M94.1 125.8h0M89.7 121.5h0M109.6 122.6h0M103.5 127.2h0M94.5 124.1h0M92.3 127.1h0M100.6 126.9h0M111.7 124.8h0M92.1 119.5h0M106.5 124.3h0M94.3 121.2h0M103.1 120.7h0M99.3 115.2h0M102.4 124.4h0M91.3 122.8h0M110.1 121.2h0M113.2 127.7h0M100.6 127.5h0M98.2 126.3h0M108.2 123.6h0M92.1 123.3h0M89.6 124.5h0M106.3 120.9h0M101.9 120.6h0M104.1 122.3h0M88.5 121h0M110.1 123.2h0M105 120.8h0M90.7 126.5h0M104.9 124.2h0M113.1 124.9h0M94.4 126h0M112.2 126.8h0M112.6 119.4h0M109.5 124.8h0M100.4 126.5h0M99.3 121.5h0M97.1 127.5h0M108.1 121.1h0M91.7 125.1h0M101.6 122.6h0M101.9 123.2h0M111.9 127h0M111.3 118.6h0M100.3 127.1h0M103.2 127.7h0M106.1 121.1h0M101.8 126.2h0M95.1 124.6h0M91.9 125.6h0M102.3 127.6h0M99.1 124.2h0M94.8 124h0M96.7 120.8h0M88.9 126h0M102.1 125.3h0M89.8 127.7h0M90.5 124.3h0M107.7 123.6h0M90.6 125.6h0M105.8 127.4h0M100.4 127.8h0M94.1 122.5h0M102.5 124h0M101.3 120h0M111.3 123.8h0M112.7 126.5h0M99.8 127.5h0M97.2 119h0M102.9 119h0M90.7 124.7h0M101.4 125.6h0M90.4 118.2h0M94.9 122h0M107.4 124.5h0M107.7 127.5h0M100.1 124.7h0M112.7 127.5h0M91.7 126.7h0M95.9 124.6h0M103.1 127.3h0M99.3 124.2h0M104.5 126h0M90.1 124.7h0M106.4 121.6h0M92 118.5h0M94.8 126.6h0M92.4 127h0M106.4 117.7h0M88.8 111.4h0M113 126.3h0M97.4 124.4h0M93.8 123.7h0M96.2 127.8h0M100.6 127.8h0M93.7 126h0M107.5 127.4h0M107.3 123h0M104 125.1h0M111.2 123.7h0M106.5 126.5h0M91.9 125.2h0M94.6 127.8h0M100.1 126h0M95.8 122.6h0" stroke="#000" stroke-width="0.7" stroke-linecap="round" fill="none" opacity="0.11"/>
<path d="M117.1 138.3h0M117.2 130h0M113.9 148.6h0M122.1 137.5h0M113.2 129.3h0M114 133.5h0M115.8 130h0M122.6 146h0M112.5 133.9h0M112 136.2h0M115.1 144.8h0M116.1 137.7h0M117.6 129.1h0M112.2 129.3h0M114.3 130.4h0M117.1 140.3h0M111.6 138.9h0M116.3 133.3h0M117.3 132.5h0M113.9 129.4h0M117.6 129.3h0M116.1 139.3h0M113.5 143.5h0M119.8 136.2h0M114.4 140.7h0M114.8 135.1h0M114.4 129.2h0M117.2 128.9h0M111.9 143.7h0M114.4 145.5h0M113 149h0M124.5 132.4h0M117.4 141.8h0M117 142h0M118.2 140.1h0M115 144.2h0M120.3 148.1h0M118.9 130.8h0M123.3 141.7h0M118 134.4h0M117.1 144.4h0M113.5 146.9h0M118.9 147.7h0M118 142.5h0M114.7 147.1h0M130 129.7h0M121.2 129.5h0M116.4 134.4h0M114.2 141.5h0M118.8 143.8h0M116.4 144.7h0M115.5 129.9h0M118.3 140.6h0M113.3 137.4h0M120.8 130.3h0M118.1 135.6h0M121 143h0M119.3 130.3h0M127.6 146.3h0M123 130.3h0M117.8 129.4h0M115.4 133.4h0M118.4 143h0M120.7 143h0M118 145.5h0M112.4 130.5h0M118.5 131h0M113.1 130.8h0" stroke="#000" stroke-width="0.7" stroke-linecap="round" fill="none" opacity="0.11"/>
<ellipse cx="118.4" cy="127.4" rx="8" ry="4.2" transform="rotate(-38 118.4 127.4)" fill="none" stroke="#777" stroke-width=".5" opacity="0.4"/>
<ellipse cx="118.4" cy="127.4" rx="5.5" ry="2.6" transform="rotate(-38 118.4 127.4)" fill="none" stroke="#777" stroke-width=".5" opacity="0.4"/>
<ellipse cx="118.4" cy="127.4" rx="3" ry="1.4" transform="rotate(-38 118.4 127.4)" fill="none" stroke="#777" stroke-width=".5" opacity="0.35"/>
<path d="M115.2 126.6h0M109.2 125.8h0M119.2 128.6h0M116.8 133.7h0M114.2 136.2h0M117.8 126.7h0M118 131.2h0M112.8 130.1h0M113.7 135.1h0M112.5 130h0M125.1 119.1h0M107.2 141h0M116.6 124.7h0M122 119.7h0M110.7 137.8h0M111.4 134.4h0M111.2 124.3h0M106.3 142.7h0M123.9 119.3h0M115.4 129h0M110.2 134.3h0M113 141.2h0M117.7 129.1h0M114.7 135.2h0M111.3 133.4h0M119.6 129.9h0M111.3 128.1h0M114.2 131.8h0M117.6 126.7h0M112.2 129h0M117 131h0M112.7 137.3h0M132.3 120.3h0M114 130.6h0M120.5 130.1h0M111.4 129.3h0M109.8 136.5h0M115.7 132.9h0M114.4 131.3h0M114.4 130.6h0M116.2 130.8h0M121.6 123.9h0M127.7 120.8h0M128.3 124.3h0M116.7 121.9h0M127.2 127.3h0M126.4 124.6h0M112.6 133.9h0M113.4 128.2h0M115.7 129h0M127.9 119.1h0M115.4 133.8h0M114.8 134h0M124.4 129h0M115.1 131.4h0M115.2 122.5h0M119.7 123.6h0M117.2 128h0M101.8 142.5h0M108.7 129.6h0M120.3 126.3h0M107.6 137h0M123.3 122.4h0M115.6 129.8h0M117.5 138.7h0M117.7 129h0M105.4 146.6h0M111.8 134.5h0M109.8 132h0M117.5 131.6h0M125.1 121.8h0M114.7 131h0M116.5 120.6h0M104.5 140.4h0M113.8 129.5h0M114.6 136.1h0M114.9 131.5h0M119.6 126h0M124.4 119.6h0M116 130.4h0M118.4 126.9h0M106.8 133.9h0M119.7 135.3h0M116.3 129.4h0M105.7 141.7h0M118.1 134.8h0M112.2 134.8h0M122.1 128.3h0M118.8 130.2h0M116.6 133.8h0M126.3 124.9h0M115.2 132.9h0M114.3 132.1h0M116.3 128h0M116.8 127.8h0M111.1 131.2h0M119.5 128.4h0M118.7 133.7h0M113.1 128.5h0M106.9 134.5h0M123.4 120.6h0M124.1 123.9h0M121.7 130.2h0M122.2 124.1h0M127.1 123.2h0M118.5 118.7h0M126.2 121.9h0M115.7 132.4h0M111.5 131h0M116.8 122.8h0M114.9 133h0M119.7 127h0M127.6 129h0M119.3 125.3h0M123.1 124.2h0M129.5 118.5h0M127.6 121.9h0M117.4 121.5h0M112.9 138.1h0M129.6 122.6h0M110.5 133.3h0M106.1 136.1h0M105.1 140.6h0M124 125.7h0M108.2 134.3h0M115.5 129.9h0M116.2 131.5h0M124.8 121.9h0M108.8 134.2h0M117.3 127.5h0M118.8 126.6h0M125.4 117.8h0M115.6 126.6h0M118.6 129.8h0M115.3 134h0M123.5 124.3h0M122.7 110.4h0M114.7 125h0M120.3 128.7h0M108.2 143.1h0M117.5 134.1h0M111.8 132.5h0M114.6 129.8h0M123.1 123.1h0M129.9 127h0M118.3 129.4h0M116.3 126.2h0M115.1 134.8h0M121.6 129.5h0M116.1 121.8h0M123 122.4h0M126.3 126.6h0M120.9 130.3h0M114.8 126h0M121.7 125.9h0M113 136.1h0M106.6 138.7h0M124 119.9h0M128.6 120h0M125.1 126.2h0M115 133h0M96.9 140.6h0M112.8 142.4h0M120.9 127.5h0M114.8 125h0M125.5 121.8h0M112.3 121.7h0M120.1 124.4h0M118.5 128.3h0M118.6 138.3h0M108.7 136.6h0M116.5 131.5h0M118.7 131.4h0M114.7 132.2h0M109.2 132.9h0M114.1 137.3h0M111.3 136h0M119.1 134.4h0M122.9 129.4h0M119 124.2h0M119.2 126h0M115.9 128.7h0M118.2 127.1h0M105.3 140.2h0M117.5 128.5h0M122.3 122.3h0M113.8 138h0M121.2 132.1h0M107.9 136.6h0M117.3 125.1h0M115.9 127.9h0M119.8 124.4h0M117.8 125.3h0M130.3 115.6h0M97.8 145h0M108.2 137.4h0M112.9 134.5h0M117.5 125.4h0M113.1 133.8h0M112.9 140.9h0M107.5 137.8h0M108.8 134.2h0M111.7 144.9h0M126.1 124.1h0M112.1 130.8h0M133.5 120.9h0M123.4 121.9h0M115.2 129.5h0M121.9 130.1h0M123.1 122.6h0M109.7 129h0M107.2 139.9h0M125.8 126.5h0M111.2 128.4h0M122.2 124.3h0M121.1 131.1h0M106.9 138.3h0M120.9 130.2h0M120.4 126.7h0M124.7 121.3h0M116.8 127.6h0M119.7 126.4h0M119.3 128.7h0M115.6 119.7h0M126.8 114.5h0M122.8 125.4h0M126.2 125.5h0M119.1 125.4h0M124 124.5h0M111.2 129.6h0M113.2 126.9h0M123 125.9h0M115.6 130.5h0M114.6 129.5h0M117.9 123.7h0M107.4 137.2h0M118 128.8h0M119.9 126.5h0M115 130.7h0M110.2 133.3h0M127.5 124h0M119.5 129.4h0M110.8 141.7h0M113.4 138.2h0M107.2 136.8h0M106.5 132.6h0M105.4 140.9h0M111.9 131h0M119.5 134h0M121.4 120.3h0M116.3 128.4h0M123.1 131.3h0M120.4 127.1h0M110 137.8h0M111.9 136.2h0M118.7 126.4h0M121.1 130h0M123.5 121.2h0M108.7 134.5h0M105.2 147.1h0M129.1 119.8h0M115.3 132.4h0M123 120.7h0M117.2 134.9h0M108.7 132.1h0M125.5 120.2h0M119.9 125h0M126 119h0M120.7 121h0M111.1 132.8h0M116.8 127.7h0M123.1 124.6h0M112.9 128.6h0M118.2 124.9h0M124.1 122.9h0M109.7 135h0M114.9 127.3h0M118.2 128.5h0M122.9 124.1h0M116.6 134.2h0M112.8 135.2h0M120.5 128.9h0M113.5 136.3h0M119.7 124.9h0M119.3 133.3h0M116 131h0M122.3 123.5h0M124.3 125.7h0M109.3 130.9h0M120.3 134.3h0M116.2 131.1h0M115.4 124.6h0M117.7 124.4h0M124.3 122h0M116.3 127.7h0M115.3 132.6h0M109.7 138.6h0M116.2 134.2h0M117.2 131.5h0M111.5 129.8h0M115.4 135.2h0M120.2 132.1h0M125.6 115.1h0M115.6 128.2h0M129.3 118.8h0M123.3 121.6h0M122.6 129.5h0M120.9 128.4h0M118 129h0M113.6 127h0M117 121.1h0M117.8 125.1h0M118.4 125h0M126.7 118.5h0M129.5 111.4h0M120.8 120.4h0M123.6 122.8h0M113.4 133.5h0M105.7 135.8h0M117 128.5h0M119.1 127.6h0M126 122.4h0M132.1 123h0M119.2 124.5h0M125.5 123.9h0M124.3 118.5h0M119 132.7h0M122.6 128.2h0M120 131.2h0M127 122.4h0" stroke="#000" stroke-width="0.75" stroke-linecap="round" fill="none" opacity="0.17"/>
</g>
<rect x="85.8" y="103.1" width="50.6" height="49.4" fill="none" stroke="#888" stroke-width=".9"/>
<path d="M110.4 103.1V152.5M85.8 127.9H136.4" stroke="#1a1a1a" stroke-width=".8" fill="none"/>
<path d="M86.3 126.9V152.1H111.4" stroke="#000" stroke-width="1.9" fill="none"/>
<path d="M85.8 103.1V127.9" stroke="#333" stroke-width="1" fill="none"/>
<path d="M110.4 152.3H136.4" stroke="#666" stroke-width="1" fill="none"/>
<text x="87.1" y="108.8" font-size="6.4" text-anchor="start" font-weight="bold">0.5</text>
<text x="111.7" y="108.8" font-size="6.4" text-anchor="start" font-weight="bold">0.5</text>
<text x="86.4" y="151.8" font-size="6.4" text-anchor="start" font-weight="bold" style="stroke:#fff;stroke-width:1.3px;fill:#fff" opacity=".55">97.2</text>
<text x="86.4" y="151.8" font-size="6.4" text-anchor="start" font-weight="bold">97.2</text>
<text x="135.9" y="151.8" font-size="6.4" text-anchor="end" font-weight="bold">1.8</text>
</g>
<g>
<clipPath id="cb1"><rect x="154" y="28.2" width="50.8" height="49.6"/></clipPath>
<clipPath id="qb1"><rect x="154" y="52.8" width="28.6" height="25"/></clipPath>
<g clip-path="url(#qb1)">
<rect x="154" y="52.8" width="28.6" height="25" fill="#000" opacity="0.34"/>
<rect x="154" y="52.8" width="28.6" height="25" fill="url(#gq)"/>
<rect x="154" y="52.8" width="28.6" height="25" fill="url(#gb)"/>
<path d="M160.2 72h0M167.8 67.7h0M159.4 71h0M180.9 63.8h0M181.1 57.5h0M171.9 56.3h0M176.6 75.3h0M170.5 70.8h0M180.3 57.1h0M175.6 60.4h0M169.2 57.8h0M167.9 61.2h0M173.8 68h0M159.8 63.4h0M166.7 73h0M158.1 55.2h0M166.3 54.6h0M179.2 71.9h0M168.8 73.1h0M174.6 68.9h0M158.3 59.1h0M157.1 67.6h0M161.4 55.8h0M176.3 65.8h0M161.5 64.1h0M159.7 55.5h0M174.7 71.1h0M170.5 75.1h0M160.1 56.8h0M168.9 73.8h0M161.9 55.3h0M165.7 70.4h0M169.3 73.1h0M180.7 65.6h0M165.7 72.4h0M159.8 75.3h0M173 66.5h0M177.5 67.6h0M176.9 75h0M162.5 60.3h0M178.9 70.4h0M159.4 70.2h0M159.4 69.1h0M175.3 69.1h0M174.1 59.5h0M169.2 74.4h0M173.8 68.1h0M163.2 61.4h0M179.9 58.3h0M166.2 70.5h0M175.6 54.2h0M178.5 66h0M169 58.5h0M156.1 74.8h0M175.6 70.3h0M180.2 64.1h0M161.7 67.8h0M181 64.9h0M157.4 55.4h0M174.5 63.5h0M179.2 68h0M180.3 65.5h0M156.9 75.6h0M179.6 62.3h0M174.8 66.1h0M177.7 62.4h0M170.9 74.1h0M161.7 74.8h0M172.6 64.7h0M174.5 58.1h0M163 64h0M169.4 72.3h0M176.5 62.3h0M175.7 74.8h0M165.3 72.3h0M173.8 56.8h0M178.4 66.1h0M177.7 73.8h0M158 75.3h0M164 56.4h0M162.6 56.2h0M167.8 65.1h0M160.9 65.7h0M160.2 59.7h0M175.2 74.5h0M167.1 58.9h0M162.3 69.9h0M159.8 71.2h0M164.7 54.5h0M176.5 54.9h0M171.7 67.9h0M176.8 56.3h0M176.2 57.8h0M181.2 73.5h0M156.9 64.4h0M173.9 62.7h0M161.1 75.2h0M161.9 64h0M158 58.6h0M175.2 63.8h0M157.1 65h0M170.3 72.6h0M160.7 72.8h0M175.4 58.5h0M164.2 63.9h0M157.7 75.4h0M179.8 58.6h0M162 58.4h0M166.6 63.3h0M160.6 74.9h0M161.3 61.1h0M167.6 66.3h0M157.2 58.9h0M156.2 57.2h0M171 61.3h0M165.3 64.3h0M180.2 71h0M180.4 63.5h0M156.2 72h0M171.5 75h0M162.7 56h0M157.9 70h0M174.6 59.8h0M166.2 62.4h0M163 55.9h0M168 67.6h0M160.1 73.5h0M172.8 61.2h0M164.5 69.9h0M180.1 72.5h0M171.5 63.6h0M176.5 60.4h0M180.2 56.8h0M158.3 75.1h0M176 61.1h0M166.6 69.2h0M168.3 64.9h0M170.7 73.2h0M171.7 61.3h0M177.5 73.3h0M160.8 74.8h0M171.5 73.2h0M173.8 61.3h0M165.1 60.7h0M159.2 63.6h0M179 71.8h0M157.3 68.8h0M171.8 59.6h0M171 64.5h0M172.1 59.3h0M179.8 72.5h0M180.6 73.7h0M161.6 61.7h0M174 75.7h0M176.2 65.5h0M168.6 62.9h0M173.8 54.7h0M156.6 61.5h0M167.1 73.5h0M166.7 70.3h0M175.4 75.2h0M163.2 54.5h0M179.4 72h0M173.9 66.1h0M174.7 75.5h0M179.7 71.2h0M169.1 65.7h0M168.8 68.8h0M156.3 75.9h0M158.2 55.8h0" stroke="#fff" stroke-width="0.9" stroke-linecap="round" fill="none" opacity="0.25"/>
<path d="M157.1 74.4h0M161.4 61.6h0M158.9 57.2h0M165.4 60.3h0M166.7 71.1h0M169.2 69.7h0M155 58.4h0M176 57.5h0M156.9 64.2h0M155.5 64h0M173.9 54.8h0M157.4 56h0M158.3 73.7h0M159.2 64.9h0M157.4 53.8h0M169.4 72.4h0M156.7 67.7h0M176.2 70.4h0M165.1 71.8h0M172.4 57.1h0M177.7 65.1h0M177.8 59.4h0M167 65.2h0M170.2 57.9h0M158 75.2h0M159.6 73.8h0M163.7 68h0M159.8 67.2h0M163.3 76.7h0M162.3 70h0M163 63.9h0M161.2 61.4h0M157.1 69.1h0M170.2 70.2h0M157.4 73.5h0M156.6 76.9h0M157.5 70.2h0M164.8 75h0M155.1 64.4h0M168.6 72h0M158.9 56h0M158.7 73.4h0M168.6 56.5h0M172.7 57.4h0M156.1 67.7h0M168.3 65.6h0M155 69h0M181.1 57.1h0M157.2 72.4h0M161.4 63.6h0M162.2 72.4h0M159 76.7h0M175.2 57.2h0M181.1 58.8h0M156.6 74.6h0M155.9 60.8h0M157.7 61.9h0M160.3 63.1h0M155 55.6h0M160.3 60.9h0M165.9 58.1h0M156.8 73.5h0M158.3 68.6h0M161.8 55.7h0M162.2 74.7h0M165.5 69h0M156 61h0M165.1 65.7h0M169.7 76h0M181.4 54.7h0M163.7 59.6h0M179.6 55.6h0M162.1 76.2h0M177.1 61.2h0M170.8 74.2h0M160.2 62.7h0M155.3 73h0M158.8 63.7h0M155.6 64.1h0M160.8 65h0M171.8 67.1h0M165 65.3h0M165 60h0M173.3 55.8h0M174 55.3h0M172.2 69.5h0M171.3 75.2h0M160.6 75h0M158.8 68.1h0M164.2 77.5h0M156.7 67.4h0M155.4 68.7h0M156.7 76.1h0M169.1 69h0M178.2 58.5h0M168.5 69.1h0M170.6 61.3h0M155.4 72.5h0M160 66.8h0M167.6 76.3h0M163.2 71.2h0M159.1 69.1h0M178.6 57.3h0M157.6 77.5h0M169.2 58.2h0M162.9 72.9h0M180 74.4h0M155 59.2h0M168.9 55.7h0M175.2 55.6h0M172.6 58.5h0M155.1 57.9h0M159.3 57.4h0M163.3 76.1h0M161.5 55.4h0M157.3 61.2h0M155.2 57.8h0M166.4 72.9h0M179.5 55.6h0M164.2 66.2h0M158.5 67.6h0M156.5 61.5h0M179.1 61.1h0M176.9 73.4h0M155.5 69.1h0M174.4 75.6h0M169.9 53.8h0M159 54.9h0M164.7 55.1h0M159.9 74.7h0M160.2 69.9h0M165 61.4h0M173.9 65.6h0M159.2 61.7h0M155.9 59.1h0M177.3 69.6h0M159 63.5h0M157.2 71.3h0M175 64.1h0M162.6 73.9h0M174.9 76.8h0M180.9 74.5h0M156.5 64h0M170.6 76.5h0M160.8 66.3h0M161 68.8h0M160.3 55.2h0M164.1 75.5h0M171.3 70.6h0M156.4 72.7h0M161.2 55.8h0M157.1 57.1h0M156.2 55.5h0M155.4 71.3h0M178.1 74.4h0M160 69.1h0M163.5 70.5h0M157.1 73.8h0M162.8 76.1h0M155 63.5h0M165.2 65.5h0M158.3 56.5h0M161.3 64.6h0M155.9 62.3h0M170.7 56.8h0M155.2 57h0M155.2 58.7h0M176.2 65h0M168.3 70.1h0M161.6 60.4h0M169.2 73.4h0M163.6 69.3h0M158.9 69.5h0M156 72.5h0M161.1 61.7h0M172.7 77.2h0M155.9 55.4h0M155.3 53.9h0M175.5 69.3h0M167 75.1h0M156.3 62.4h0M158.6 68.7h0M176 74.7h0M160 64.5h0M174.6 66.8h0M166.4 75.7h0M156 75h0M158.1 62.5h0M161 57.1h0M156.8 64.6h0M177.4 63.4h0M175.2 73.6h0M173.3 59.6h0M179 66.6h0M160.3 72.2h0M155.5 77.7h0M176.6 66.2h0M174.4 63.6h0M158.9 64.5h0M157.8 66.8h0" stroke="#000" stroke-width="0.9" stroke-linecap="round" fill="none" opacity="0.39"/>
<path d="M163.3 61 C163.7 58.1 172.9 52.7 177.6 52.7 C179.9 52.7 180.7 53.9 180.7 57.1 C180.7 62.5 180.7 67.9 179.5 73.8 C178.8 77.3 176.6 78.2 174.8 75.5 C171.2 69.9 163.3 64.5 163.3 61 Z" fill="#000" filter="url(#b07)" opacity="0.64"/>
<path d="M165.2 61.3 C165.5 58.8 173.2 54.3 177.1 54.3 C179 54.3 179.8 55.3 179.8 58 C179.8 62.5 179.8 67 178.7 71.9 C178.2 74.8 176.3 75.6 174.8 73.4 C171.8 68.6 165.2 64.1 165.2 61.3 Z" fill="#fff" stroke="#222" stroke-width=".5"/>
<path d="M168.5 61.7 C168.7 60.1 173.8 57.1 176.4 57.1 C177.6 57.1 178.1 57.8 178.1 59.5 C178.1 62.5 178.1 65.5 177.4 68.7 C177 70.6 175.8 71.2 174.8 69.7 C172.8 66.6 168.5 63.6 168.5 61.7 Z" fill="none" stroke="#555" stroke-width=".5"/>
<path d="M171.4 62.1 C171.5 61.2 174.2 59.5 175.7 59.5 C176.3 59.5 176.6 59.9 176.6 60.9 C176.6 62.5 176.6 64.1 176.2 65.9 C176 66.9 175.3 67.2 174.8 66.4 C173.7 64.7 171.4 63.1 171.4 62.1 Z" fill="none" stroke="#666" stroke-width=".5"/>
<path d="M173.9 62.4 C173.9 62.1 174.7 61.7 175.1 61.7 C175.2 61.7 175.3 61.8 175.3 62 C175.3 62.5 175.3 63 175.2 63.4 C175.2 63.7 175 63.8 174.8 63.6 C174.5 63.1 173.9 62.7 173.9 62.4 Z" fill="#888"/>
</g>
<g clip-path="url(#cb1)">
<path d="M179.8 48.5h0M162.3 46.4h0M184.1 51.7h0M180.6 48.3h0M161.4 52.8h0M157.4 50.2h0M156.8 47.1h0M181.9 51.2h0M156.1 52.7h0M162.6 43.5h0M175.5 49.8h0M183.6 50h0M158.9 51.7h0M170.2 52.7h0M175.8 52.1h0M176.6 47.5h0M166.7 50.7h0M171 46.1h0M181.1 47.8h0M184.8 50.7h0M170.2 51.2h0M177.4 50.4h0M175.4 51.4h0M171.8 52.4h0M169.9 46.6h0M179.6 45.6h0M175.2 45.4h0M178.8 45.6h0M173.9 45.8h0M157.6 48.8h0M167.9 50.4h0M167.6 48h0M157 51.7h0M175.9 50.2h0M178.8 45.9h0M171.6 47.3h0M176.6 52.7h0M165.6 50.5h0M176.6 51.7h0M171 50h0M157.3 49.2h0M176.6 51.2h0M171.9 46.6h0M170.2 51.8h0M165 45h0M182.7 48.6h0M164.2 52.6h0M171.3 51.5h0M158.7 35.7h0M160.1 48h0M162.1 51.9h0M181.2 49.3h0M164 51.4h0M181.8 49.5h0M170.1 52.7h0M170.1 47.6h0M162.5 50.5h0M166.4 50.8h0M163.6 51.4h0M176.1 42.3h0M166.1 45.9h0M183.3 48.4h0M157.2 51.3h0M156.2 42.9h0M170.9 51.7h0M178.1 52.6h0M159.6 49.3h0M172.7 50.5h0M181.1 50.8h0M176.5 48.5h0M182.8 43.5h0M168.5 49.3h0M168.2 45.3h0M159.7 44.4h0M162.4 48h0M181.2 44.4h0M174.5 45.5h0M178.2 52.4h0M161.6 48.2h0M164.6 51.3h0M157.8 46.3h0M170.3 52.2h0M160.8 48.3h0M167 44.6h0M173.1 50h0M182.3 50.9h0M181.5 48.6h0M174.5 40.1h0M156.8 48h0M178.2 46.2h0M170.5 51.2h0M166.5 50.2h0M182.3 47h0M166.3 47.8h0M179.4 48.6h0M179.1 52.1h0M167.2 49h0M172.6 50.9h0M176 48.7h0M165.5 52.2h0M166.9 46.7h0M176.7 45.3h0M175.7 52.2h0M177.2 52.3h0M167.1 52.3h0M162.8 51.1h0M167.9 48.6h0M184.1 52.3h0M172.2 50.2h0M175.8 51h0M164.3 51.7h0M178.9 49.1h0M182.2 47.2h0M181.1 48.7h0M166.4 46h0M162.3 50h0M173.3 51.6h0M172.6 39.5h0M161 47.2h0M156.4 44.6h0M182 49h0M179.6 51.2h0M168.4 50.7h0M158.4 51h0M171.3 47.9h0M168.6 49.7h0M175 48.3h0M164 46.1h0M166 50.4h0M174.6 47.7h0M177.1 49.1h0M162.4 47.4h0M167.4 51.7h0M178.2 50.7h0M173.8 49.6h0M160.3 51.9h0M165.8 42h0M175.7 38h0" stroke="#000" stroke-width="0.7" stroke-linecap="round" fill="none" opacity="0.11"/>
<path d="M200.7 53.8h0M191.2 55.4h0M185.7 54.9h0M188 54.2h0M186.4 53.9h0M182.6 53.8h0M185 54.3h0M185.8 53.9h0M197.6 59.4h0M200.1 61.3h0M199.1 57.2h0M190.2 61.2h0M185.1 54.4h0M185.9 74.1h0M182.9 56.7h0M185.8 67.9h0M185.8 57.2h0M188.1 74.2h0M190.3 55.9h0M186.8 53.9h0M187.7 57.8h0M184.9 54.1h0M188.3 74.8h0M186 74.4h0M184.5 56.5h0M184.7 54.1h0M183 69.2h0M192 72.7h0M185.9 73.2h0M183.6 70.8h0M199.3 61.4h0M190.6 55.4h0M190.3 60h0M185.8 55.2h0M184.9 66.8h0M195.4 64.8h0M183.5 60.3h0M188.4 68.5h0M183.3 65.4h0M189.4 55.2h0M184.2 59h0M185.8 66h0M184.2 60.6h0M196.6 69.1h0M185.9 73.8h0M195.8 74.1h0M196.8 61.3h0M185.2 59.3h0M189.2 62.7h0M194.4 65.2h0M188.8 74.3h0M184.9 64.6h0M183.5 68.6h0M185.1 73.9h0M184.8 64.2h0M183.2 69.8h0M191.4 60.1h0M188.4 60.4h0M184.6 58.7h0M191.6 55.1h0M200.2 56.3h0M182.7 73.7h0M185.2 57.1h0M184.8 56.3h0M193.3 66.6h0M183.8 64h0M193 59.1h0M183.7 58h0M187.8 55.3h0M183.3 54.3h0M184.2 54.1h0M186.5 57.1h0M186.9 61.5h0M189.2 61h0M189.8 66h0M184.3 71.1h0" stroke="#000" stroke-width="0.7" stroke-linecap="round" fill="none" opacity="0.11"/>
<path d="M193.4 41.9h0M187.3 44h0M199.5 34.7h0M187.4 49.3h0M195.4 40.5h0M187.9 48.9h0M192.8 39.8h0M199.1 33.6h0M187.3 51.3h0M198.7 36.2h0M185.8 49h0M197.9 38.8h0M188.8 42.6h0M191.9 41.3h0M190.9 44.1h0M198.3 34.6h0M194.4 43.7h0M194.3 40.6h0M194 42.2h0M189.8 41.5h0M187.2 46.8h0M189 44.8h0M198 37h0M192.6 42.5h0M191.4 42.3h0M195.9 39.4h0M202.5 38.1h0M187.3 46.8h0M196.2 34.7h0M199.4 38h0M189.4 48.4h0M186.1 48.5h0M200.7 35.8h0M185.3 43.3h0M183.9 51.5h0M185.1 48.7h0M191.8 48h0M182.9 52h0M192.5 46.4h0M192.9 40.1h0M195.9 36.5h0M196.6 34.8h0M195.5 33.6h0M197.5 33.6h0M192.3 44.6h0M193.8 34.3h0M194.3 39.5h0M183.8 53h0M186.8 48h0M187.4 47.9h0M187.4 47.5h0M187.6 47.8h0M186.3 42.5h0M188.5 49.3h0M187.9 47h0M186.4 46.2h0M193.9 38.7h0M188.2 45.4h0M185.7 50.1h0M196.1 32.9h0M188.5 41.8h0M196.8 31.6h0M196.2 40.2h0M185.6 46.2h0M185.2 49.4h0M195.5 33.8h0M188.3 45.5h0M182.6 50.7h0M193.5 37.7h0M183.2 53.6h0M183.8 50.8h0M194.4 35.8h0M191.5 48.7h0M194.5 35.8h0M191.6 38.4h0M181.5 49.2h0M201.5 37.4h0M189.4 45.1h0M196 38.6h0M196.1 40.9h0M190.3 43.9h0M199.1 36.7h0M185.3 52.7h0M188.9 45.7h0M200 36.1h0M186.8 47.8h0M191.1 43.2h0M200 38.3h0M188.5 47.1h0M188.9 45.8h0M184.6 44.7h0M194.2 36.3h0M191.3 40.3h0M190.8 43h0M198.7 36h0M195 39.1h0M184.8 49.1h0M199.8 34.7h0M195.4 39.3h0M198.7 37.7h0M190.3 37.9h0M201.2 35.7h0M192.6 46.7h0M193 44.1h0M192 40.4h0M187.7 43.9h0M192.3 41.3h0M201 37h0M196.5 37.9h0M184 45.1h0M190.6 31.7h0M184.2 50.6h0M188.9 51h0M188 41.4h0M193.2 38.3h0M185.5 48.7h0M193.9 40.6h0M194.7 41.5h0M195.7 31.7h0M189.3 44.9h0M197.6 33.2h0M189.4 46.8h0M198.1 36.4h0M196.5 40.5h0M192.2 37.3h0M188.9 41.7h0M183.6 48.9h0M190.5 41.8h0M190.3 41.3h0M191.6 38h0M182.6 50.4h0M189.3 39.5h0M199.7 36.9h0M196.6 34.8h0M189.2 40.8h0M192.6 41.4h0M194.9 32.5h0M200.1 34.2h0M187 46.1h0M195.6 43.1h0M194 41.1h0M191.6 39.5h0M189 47.2h0M196.4 37.3h0M194.5 41h0M187.9 36.2h0M184.2 48.9h0M195.6 36h0M191.7 45.6h0M192.4 37.5h0M191.3 43.3h0M181.6 52.5h0M195 33.3h0M191.8 40h0M185.7 49.7h0M190.9 42.1h0M186.2 47.3h0M198 34.8h0M191.6 42.2h0M186.8 48h0M196.9 35.9h0M192.1 36.5h0M187.1 46.3h0M194 39.6h0M188.4 49.6h0M194.5 35.3h0M193.1 45h0M195.8 35.5h0M185.9 51.9h0M185.6 42.8h0M190.9 41.8h0M193.5 31.2h0M182.5 48.3h0M198.5 32.7h0M182.7 52.6h0M185.4 46.7h0M192.6 41.5h0M191.4 39.5h0M194.3 43.9h0M184.5 48.2h0M198.3 41.3h0M199 40.1h0M193.1 37.1h0M199.1 35.7h0M189.3 43h0M192.1 45.6h0M188.3 46.3h0M199.9 39.4h0M184.4 49.3h0M197.8 34h0M197.2 32.9h0M192.6 41.2h0M191.5 43.2h0M191 42.7h0M197.4 36.7h0M200.3 35.3h0M186.3 47.5h0M195.4 35.5h0M195.3 34.3h0M189.5 42.5h0M190 42.6h0M182.8 53.6h0M189.1 47.1h0M191.5 39.8h0M193.7 41.5h0M193.8 36.4h0M198.1 37.8h0M187.2 42h0M189.5 46.9h0M186.4 47h0M191.3 43h0M185.6 48.1h0M192.5 37.4h0M184.3 50.1h0M194.6 38.7h0M184.9 50.9h0M197.8 37.5h0M199.4 37.9h0M194.6 40.5h0M196.9 31.9h0M190.6 45.3h0M189.1 41h0M185.8 46.3h0M193.2 40.4h0M189.6 41.6h0M198.4 33.1h0M195 41.6h0M180.8 52.4h0" stroke="#000" stroke-width="0.75" stroke-linecap="round" fill="none" opacity="0.2"/>
<path d="M186.6 47.5L197.5 35.7" stroke="#000" stroke-width="4" stroke-linecap="round" opacity="0.18" filter="url(#b2)"/>
<ellipse cx="195.3" cy="39.6" rx="6.5" ry="2.7" transform="rotate(-52 195.3 39.6)" fill="#000" opacity="0.59" filter="url(#b15)"/>
<path d="M192.5 42.3h0M188.3 41.1h0M202.5 30.3h0M194.4 41.4h0M197.1 40.9h0M196.5 40.4h0M197.2 35.3h0M193.3 41.2h0M191.5 41.5h0M193.7 40.5h0M192.3 41.5h0M193.1 45.6h0M190.9 46.3h0M196.2 40.2h0M193.6 40.6h0M198.6 34.8h0M194.6 41.9h0M193.1 39.9h0M199.1 36.2h0M192.1 46.2h0M196.4 36.4h0M193.1 42.4h0M191 42.4h0M198.6 40.3h0M196.2 39.7h0M193.9 44.6h0M195.5 38.6h0M197.9 33.5h0M197.2 36.8h0M197.5 40.8h0M196.2 43.3h0M196.1 40.8h0M196.4 38.1h0M195.3 40.8h0M198 39.4h0M196.3 35.3h0M192.7 45.6h0M194.5 38.2h0M196.9 38.3h0M195.6 41.4h0M194 42.1h0M199.3 34.8h0M196.9 41.4h0M194.5 39.5h0M193.4 41.1h0M193.2 39.6h0M194.8 40.9h0M196.1 40.9h0M191.3 44.5h0M188.4 42.8h0M194.3 42.2h0M195.3 41.5h0M192.5 40.6h0M196.8 37.1h0M195.2 39.8h0M196 36.4h0M196.2 39.2h0M189.6 47.2h0M194.8 36.8h0M195 31.8h0M194.3 38.1h0M197.1 41.5h0M194 44.8h0M195.4 38.5h0M191 41.9h0M192.8 47.1h0M196.8 39.7h0M199.2 38.4h0M197.2 42.7h0M195.4 40.8h0M193.6 42h0M198.2 33.6h0M196.4 38.6h0M192.9 39.7h0M196 41.9h0M195.3 39h0M200.4 37.9h0M193.3 41.1h0M193.6 43.1h0M194.9 37.8h0M196.2 41.1h0M190.3 43.6h0M196.8 41.6h0M195.2 41.4h0M191.5 39h0M193.6 37.7h0M196.2 39.2h0M199.4 34.1h0M199.7 39.9h0M196.1 35.9h0M193.8 41h0M195.2 39.7h0M193.8 42.2h0M196 44h0M197.2 36.9h0M198.5 30.8h0M199.3 39.2h0M196.9 38.9h0M194.4 36.3h0M196.3 36.3h0M194.6 39.6h0M195.3 40.1h0M198 38.6h0M199 34.2h0M194.7 38.9h0M189.6 44h0M197 37h0M195.9 39.1h0M193.9 42.8h0M189.9 40h0M185.8 49.1h0M193.9 42.8h0M197.1 42.4h0M197.9 39.1h0M191.8 37.3h0M189.9 40.7h0M195 41.7h0M195.4 39.6h0M196.8 37.9h0M198.9 41h0M195.9 35.7h0M192.1 47.4h0M195.9 39.2h0M195.1 38.1h0M189.8 40.4h0M194 37.7h0M196.1 43.1h0M192.3 43.8h0M193.1 44.9h0M197.5 38.6h0M196.5 37.6h0M199.3 37.1h0M197.6 37.6h0M196.2 37.9h0M192.1 42.8h0M193.7 39.5h0M195 40.9h0M200.1 32.8h0M194.7 43.8h0M191.5 43.5h0M191.4 41.9h0M195.1 34.2h0M194.8 42.6h0M200.8 40.1h0M193.9 41.3h0M194.7 33.7h0M192.7 45.8h0M193.2 40.3h0M197.8 38.5h0M195.2 40.8h0M194 43.4h0M199.1 35.1h0M191.3 43.9h0M194.7 43.7h0M197.8 35.6h0M201.4 35.4h0M194.4 39h0M192.3 43.9h0M190.9 43h0M194.4 43.5h0M194.1 39.2h0M197.5 34.3h0M199 37.7h0M198.2 36.9h0M193.9 41.2h0M195.7 36.1h0M197.3 37h0M198 37.3h0M196.2 40.4h0M193.2 40.1h0M198.9 36.5h0M196.5 32.3h0M194.8 40.4h0M194.9 37.4h0M199.1 36.8h0M198.6 34.1h0M203.2 36.4h0M195.6 39.6h0M199 35.8h0M188.9 40.9h0M187.7 45.2h0M195.7 42.1h0M195.2 37.6h0M193.1 45.8h0M193.9 39.2h0M196.6 39.7h0M194.1 38.7h0M196.6 39.2h0M199.1 36.7h0M195.9 41.5h0M193 40.2h0M194.8 36.3h0M198.8 36.7h0M194.5 41.3h0M199.8 35.9h0M195.4 35.8h0M195.4 41.7h0M195 39.5h0M191.7 40.9h0M196.4 36.8h0M196.9 40.3h0M200.6 33.3h0M188.9 48.2h0M192.3 43.7h0M193.4 40.8h0M198.4 39.3h0M194.4 40.8h0M191.3 40.3h0M194.3 36.6h0M193.4 40.3h0M195.3 38.4h0M198.7 37.5h0M194 33.4h0M192.4 45.5h0M195.1 43.3h0M195.7 37.6h0M196.7 41.6h0M192.3 41.3h0M196.6 37.4h0M194.8 38.7h0M198.8 39.9h0M199.3 38h0M196 42.1h0M196.2 34.9h0M195.9 39.1h0M194.3 37.4h0M198.2 36.4h0M192.1 45.5h0M193.2 46.5h0M192.2 43.1h0M197.9 37h0M195.4 39h0M192.3 40.1h0M195.1 44.9h0M191.6 45.5h0M198.2 40.3h0M196.5 40.6h0M194.4 36.9h0M196.7 35.9h0M197.1 39.5h0M200 36.2h0M195.3 41.7h0M199.1 34.7h0M197.7 39.2h0M192.5 40.2h0M195.4 38.7h0M199.1 31.2h0M193.6 44.8h0M194.4 42h0M195.3 41.8h0M195.4 38.7h0M191.7 36.4h0M198.9 32.6h0M195 40.4h0M197.1 37.5h0M195.4 42.3h0M194.2 44.5h0M194.1 39.4h0M195.8 41.3h0M194.4 35.4h0M199.6 36.1h0M191 38.6h0M198.8 36.7h0M189.3 40.2h0M200.4 34.5h0M194 46.2h0M193.7 41.1h0M197 39.6h0M196 42.1h0M188.4 40.1h0M194.2 35.1h0M192.8 42.9h0M196.1 35.3h0M191 43.9h0M202 39.5h0M200.2 39.2h0M197.6 38.7h0M196.9 35.5h0M195.6 41h0M195.7 40.3h0M197.9 35.8h0M195.2 45h0M191.7 38.3h0M197.1 42.3h0M194.1 39.9h0" stroke="#000" stroke-width="0.75" stroke-linecap="round" fill="none" opacity="0.2"/>
</g>
<rect x="154" y="28.2" width="50.8" height="49.6" fill="none" stroke="#888" stroke-width=".9"/>
<path d="M181.4 28.2V77.8M154 52.8H204.8" stroke="#1a1a1a" stroke-width=".8" fill="none"/>
<path d="M154.5 51.8V77.4H182.4" stroke="#000" stroke-width="2" fill="none"/>
<path d="M154 28.2V52.8" stroke="#333" stroke-width="1" fill="none"/>
<path d="M181.4 77.6H204.8" stroke="#666" stroke-width="1" fill="none"/>
<text x="155.3" y="33.9" font-size="6.4" text-anchor="start" font-weight="bold">0.3</text>
<text x="182.7" y="33.9" font-size="6.4" text-anchor="start" font-weight="bold">3.2</text>
<text x="154.6" y="77.1" font-size="6.4" text-anchor="start" font-weight="bold" style="stroke:#fff;stroke-width:1.3px;fill:#fff" opacity=".55">95.1</text>
<text x="154.6" y="77.1" font-size="6.4" text-anchor="start" font-weight="bold">95.1</text>
<text x="204.3" y="77.1" font-size="6.4" text-anchor="end" font-weight="bold">0.4</text>
</g>
<g>
<clipPath id="cb2"><rect x="211.2" y="28.4" width="50.6" height="49.2"/></clipPath>
<clipPath id="qb2"><rect x="211.2" y="53.1" width="25.6" height="24.5"/></clipPath>
<g clip-path="url(#qb2)">
<rect x="211.2" y="53.1" width="25.6" height="24.5" fill="#000" opacity="0.31"/>
<rect x="211.2" y="53.1" width="25.6" height="24.5" fill="url(#gq)"/>
<rect x="211.2" y="53.1" width="25.6" height="24.5" fill="url(#gb)"/>
<path d="M223.8 69.8h0M231.5 66.6h0M217.3 69.1h0M218.4 64.3h0M232.9 66.6h0M230.7 75.4h0M224.6 67.4h0M224.9 63.2h0M216.6 66.6h0M224.3 69.5h0M234.3 55.2h0M226.5 58.4h0M224.5 59.8h0M218.9 73.6h0M222.3 64h0M230.9 61.9h0M226.7 62.5h0M219.9 62.4h0M223.8 60.4h0M229.9 58.1h0M214.6 76.2h0M214.4 56h0M231.9 71.4h0M225.7 67.8h0M217.5 56.8h0M230.5 56.5h0M223 74.4h0M213.5 63.2h0M232 58.3h0M224.7 57.3h0M227.8 56.9h0M216.8 70.3h0M220.6 56.2h0M224.2 70.4h0M226.6 60.3h0M233.6 58.8h0M221.6 66.3h0M222.4 71.2h0M227.9 69.2h0M226.4 55.5h0M215.7 60.6h0M231.2 57.6h0M232.5 60.3h0M216.5 64.3h0M219 56.4h0M231.2 73.4h0M231.8 75.2h0M220.9 61.3h0M228.5 76.2h0M220.6 61.4h0M230.9 59.7h0M226.1 74.8h0M226.2 61h0M222 70.9h0M234.3 69.6h0M223.7 70.2h0M215.4 71.5h0M214.9 66.1h0M218.5 68h0M219.8 56.4h0M227.3 56h0M231 63.5h0M231.3 75.4h0M230 60.4h0M213.9 58.8h0M213.6 75h0M219.4 54.1h0M226.5 67.3h0M216.3 54.5h0M217.3 59.8h0M225.6 73.4h0M226.2 58.6h0M219.7 73.6h0M221.7 70.6h0M229.9 63.7h0M231.1 55.5h0M221.5 55.5h0M228.2 63.5h0M225.1 61.9h0M229.4 65.3h0M226.1 62.4h0M230.9 58.6h0M215.9 54.4h0M220.3 62.5h0M233 73.7h0M214 60.2h0M224 74.8h0M224.6 73.9h0M228.1 70.2h0M230.1 63.7h0M235.4 67.5h0M220.6 63.6h0M231.1 60.5h0M219.3 61.3h0M217 59.7h0M224 58.7h0M213.6 56.7h0M228.9 59.7h0M233.7 73.4h0M221 70h0M214.7 75.4h0M225.7 55.3h0M230.4 69.6h0M230 61.5h0M225.9 64.3h0M231.5 76.4h0M222.3 64h0M229.2 74.7h0M218.2 54.5h0M222.6 71.3h0M234.6 62.3h0M219.9 68.8h0M217 62.5h0M224.4 72.2h0M221 60.2h0M226.5 73.2h0M223.5 66.5h0M224.1 70.7h0M228.7 59.3h0M230 69.5h0M233.8 66.3h0M219.2 59.1h0M220.8 66h0M220.3 71.7h0M227.1 67.7h0M216.3 63.3h0M228.8 72.8h0M214.7 60.1h0M220.4 59.9h0M221.2 59.1h0M230.3 73.6h0M233 55.8h0M216.6 63.5h0M229.9 65.5h0M233.6 62h0M232.5 57.8h0M218.7 60.1h0M225.4 64h0M226.7 63.4h0M216.8 73.4h0M219.7 61.1h0M220.8 64.9h0M228.1 75.3h0M222.3 62.9h0M230.6 70.4h0M216 72.8h0M226.7 55.5h0M224.3 60.6h0M232.6 75.5h0M223.7 67.1h0M227.9 57.9h0M231.9 57.6h0M229.8 57.8h0M214.1 75h0M218.2 57.4h0M224.6 72.5h0M227 68.4h0M225.1 76.1h0M227.5 69.7h0M225.3 62.3h0M230.2 57.9h0M229 75.8h0M222.4 58.4h0M213.9 69.5h0M230.9 72.7h0M227.3 76.4h0M220.1 61.5h0M221.4 58.4h0M216.6 59h0M216.4 61.3h0" stroke="#fff" stroke-width="0.9" stroke-linecap="round" fill="none" opacity="0.25"/>
<path d="M212.3 77.5h0M223.5 56.8h0M225 62.4h0M216.8 69.2h0M225.5 60.7h0M212.6 73.7h0M216.9 73.3h0M216.4 70.8h0M212.5 54.8h0M229.5 75.5h0M224.9 64.4h0M214.7 70.6h0M215.2 63.9h0M231.4 66.6h0M225.9 62.4h0M212.6 65.9h0M216.9 59.7h0M213.2 61.9h0M214.7 65.6h0M225.7 59.1h0M216 75.2h0M232.9 57h0M212.5 61.5h0M232.6 61.7h0M212.3 58.3h0M222.8 76.4h0M227.7 60.7h0M227.5 58.3h0M212.9 58.2h0M232.7 73h0M215.3 62h0M221.3 63.7h0M231.3 70.2h0M219.9 75.8h0M216.5 55.9h0M217.5 58.7h0M231.5 58.3h0M215.7 71.7h0M221.1 69h0M213.9 73.2h0M216 54.1h0M212.4 57.9h0M233.6 65.2h0M213.7 69.2h0M213.4 70.8h0M212.3 68.3h0M213.3 62.9h0M229.4 54.7h0M220.6 60.5h0M212.4 56.7h0M222.3 75.9h0M227.8 76.6h0M213.8 67.9h0M224.5 75.8h0M214.8 67.8h0M217.4 65h0M233 72.1h0M233 61.6h0M234.7 76.5h0M215.4 66.1h0M227.3 73.6h0M226.6 71.3h0M231.8 70.4h0M225.1 67.9h0M231.6 59.9h0M233.1 62.7h0M214 64.3h0M213.6 64.5h0M216.6 60.9h0M229.2 67.2h0M225.3 66.6h0M222.9 59.9h0M216.2 58.6h0M215.4 76h0M222.7 67.7h0M225.2 54.6h0M233.5 65.3h0M212.5 64.7h0M223 65.5h0M222.8 59.5h0M225.1 76.3h0M219 57.9h0M224.1 75h0M225.9 58.1h0M212.7 54.9h0M226.6 56.5h0M212.3 76.8h0M230.5 62.8h0M215.4 66.3h0M217.2 66h0M215 73.1h0M214.7 59.3h0M212.6 64h0M221.6 75.4h0M220.2 70.5h0M215.3 59.8h0M235.3 70.6h0M212.4 73.8h0M219.2 63.2h0M216.4 64.9h0M215.1 70.5h0M222.1 61.5h0M219.1 61.5h0M213.6 70.6h0M218.6 73.6h0M229.6 67.1h0M224 62.1h0M212.5 70.8h0M235.1 60.9h0M213.3 55.4h0M218.1 68.6h0M217.8 54.2h0M228.8 69.3h0M227.3 63.5h0M221.2 66.9h0M234.3 60.9h0M215.5 69.3h0M221 74h0M217 63.1h0M213.8 66.7h0M225.1 77.3h0M235.4 66.8h0M212.3 58.6h0M230.3 67.2h0M221.3 60.6h0M232.2 55h0M213.3 59.9h0M219.6 54.5h0M234.9 56.6h0M221.9 63h0M212.2 62.9h0M231.9 71.7h0M216.2 54.8h0M233.1 59.5h0M218.3 56.7h0M222.9 58.8h0M215.1 71.6h0M223.7 65.1h0M223.3 67.5h0M214.6 72.5h0M213.3 57.3h0M215.6 59.3h0M222.7 66h0M219.9 60.9h0M233.2 60h0M231 76.3h0M215.3 59.8h0M213 75.5h0M216.7 71.1h0M228.2 61.7h0M219 54.5h0M221.7 58.5h0M231.3 67.8h0M217.7 75.8h0M212.7 66.8h0M215.6 72.1h0M219.1 65.3h0M214.1 71h0M216.8 55.5h0M231.6 68.5h0M235 61.6h0M226.7 73.8h0M225.4 54.4h0M216.4 57.4h0M226 74.8h0M229.4 58.3h0M212.9 69.3h0M217.4 76.5h0M220.2 68.7h0M230.8 64.9h0M215.2 64.1h0M212.6 74.3h0M231.2 54.6h0M224.4 75.7h0M212.3 69.5h0M218.3 74.6h0M217.8 70.6h0M213.5 64.8h0M230.4 71.2h0M213.6 73h0M212.4 54.2h0M218.7 62.3h0M215.8 73.5h0M234.9 71.8h0M233.4 69.1h0M217.1 75.2h0M212.7 56.8h0M214.4 77.5h0M226 72.3h0M234.8 75.4h0M213.1 76.7h0M214.1 56.1h0M234.2 65.2h0M215.8 59.1h0M232 69.2h0M225.7 68.6h0M214.3 58.8h0M212.9 77.6h0M231.5 56.3h0M225 68.8h0" stroke="#000" stroke-width="0.9" stroke-linecap="round" fill="none" opacity="0.38"/>
<path d="M217.9 60.5 C218.2 58.2 227.2 54 231.8 54 C234 54 234.9 55 234.9 57.5 C234.9 61.7 234.9 65.9 233.7 70.5 C233 73.1 230.8 73.9 229.1 71.8 C225.5 67.4 217.9 63.2 217.9 60.5 Z" fill="#000" filter="url(#b07)" opacity="0.62"/>
<path d="M219.7 60.7 C220 58.8 227.5 55.3 231.3 55.3 C233.2 55.3 233.9 56.1 233.9 58.2 C233.9 61.7 233.9 65.2 232.9 69 C232.3 71.2 230.5 71.9 229.1 70.1 C226.1 66.5 219.7 62.9 219.7 60.7 Z" fill="#fff" stroke="#222" stroke-width=".5"/>
<path d="M222.9 61 C223.1 59.8 228.1 57.5 230.6 57.5 C231.8 57.5 232.3 58 232.3 59.4 C232.3 61.7 232.3 64 231.6 66.5 C231.2 68 230 68.4 229.1 67.2 C227.1 64.8 222.9 62.5 222.9 61 Z" fill="none" stroke="#555" stroke-width=".5"/>
<path d="M225.7 61.3 C225.8 60.6 228.5 59.4 229.9 59.4 C230.6 59.4 230.8 59.7 230.8 60.4 C230.8 61.7 230.8 62.9 230.5 64.3 C230.3 65.1 229.6 65.3 229.1 64.7 C228 63.4 225.7 62.1 225.7 61.3 Z" fill="none" stroke="#666" stroke-width=".5"/>
<path d="M228.1 61.6 C228.2 61.4 228.9 61 229.3 61 C229.5 61 229.6 61.1 229.6 61.3 C229.6 61.7 229.6 62 229.5 62.4 C229.4 62.6 229.2 62.7 229.1 62.5 C228.8 62.2 228.1 61.8 228.1 61.6 Z" fill="#888"/>
</g>
<g clip-path="url(#cb2)">
<path d="M221 51.3h0M232.8 52.7h0M220.9 50.4h0M222.3 52.3h0M227.3 49.2h0M224.6 45.8h0M224.2 41.8h0M226.1 51.4h0M218.4 48.5h0M236.9 51.5h0M221.1 50.7h0M223.7 50.9h0M220.3 52.3h0M233.7 49.9h0M232.5 52.8h0M218.3 51.1h0M223.5 46.4h0M231.3 52.2h0M214.3 52.1h0M218.3 52.8h0M216 52.1h0M225.4 49.3h0M228.5 50.2h0M236 52h0M236.9 46.6h0M237.6 47.6h0M215.3 51.4h0M227.4 45.5h0M224.5 52.8h0M233.2 49.4h0M238.3 52h0M235 46.8h0M230.7 50.9h0M230.5 44.4h0M224.4 45.8h0M217.1 52.6h0M238.2 50h0M216 45.1h0M223.7 49.1h0M238.8 52.3h0M216.8 46.3h0M228 45.2h0M237.6 52.9h0M221.4 44.9h0M219.6 51.9h0M213.5 50.4h0M214 41.7h0M237 47.3h0M224.8 48.9h0M219.8 49.3h0M216 50.6h0M232.2 51.2h0M233.4 51.3h0M237.8 51.7h0M219.5 47.9h0M223.2 51.6h0M213.5 50.4h0M215.4 52.6h0M219 51.2h0M213.3 49.3h0M238.7 42.8h0M225.5 51.5h0M234.2 49.5h0M225.2 38.8h0M213.8 52.9h0M225.6 49.4h0M228 44h0M231.1 45.5h0M230.9 49.7h0M230.2 45.7h0M217.7 42.2h0M221.5 52.9h0M224 52.7h0M227.7 44.1h0M238.3 45.4h0M217 47.6h0M232.1 40.7h0M224 46.3h0M233.4 51.6h0M219.3 48.1h0M228.6 46.5h0M225.1 52.2h0M237.6 49.9h0M217.6 52.9h0M236.1 47h0M215.7 49.6h0M236.8 48.1h0M224.9 48.5h0M229.5 48.6h0M219.7 48.9h0M237.8 49.8h0M237.9 51.6h0M220.1 51.9h0M235 50.1h0M222.7 51.2h0M236.8 48.6h0M217 48.9h0M233.2 44.4h0M218.1 43.9h0M223.1 51.2h0M234.4 39.5h0M215.2 45h0M221 51.4h0M237 51h0M231.3 50.1h0M223.8 50.4h0M214.7 49.6h0M219.3 52.8h0M213.5 51.2h0M228.5 38h0M233.2 49.7h0M220.5 43.1h0M215.4 51.2h0M228.1 51.3h0M236.7 49.8h0M221.6 49h0M236.1 48.8h0M216 48h0M235 51.5h0M226.9 51.9h0M228.7 49.4h0M227.3 49.1h0M225.4 49.2h0M214.5 51.3h0M217.2 50.7h0M217.1 48.7h0M213.9 52.6h0M228.9 48.3h0M237.6 49.2h0M220.2 39h0M213.3 44.5h0M232.4 47.7h0M220.2 49h0M230.3 52.5h0M237.5 52.6h0M227.2 51.7h0M226 48.8h0M235.9 45.1h0" stroke="#000" stroke-width="0.7" stroke-linecap="round" fill="none" opacity="0.11"/>
<path d="M239.7 65.1h0M243.4 58h0M240.2 62.4h0M239.1 69.8h0M237.3 56.1h0M239.5 62.7h0M237.5 61.2h0M239.4 68h0M238.4 60.4h0M239.1 65h0M246.6 69.9h0M240.5 65.7h0M240.4 60.2h0M240.5 72.2h0M242.9 64.2h0M240.3 69.8h0M240.2 54.9h0M251.7 61.6h0M246.8 61.6h0M237.7 69.6h0M245.9 60.3h0M246.8 73.6h0M252.3 54.4h0M238.8 72.3h0M242.1 72.4h0M237.9 68.5h0M241.7 55.5h0M242.3 69.7h0M238.6 61.9h0M237.5 62.1h0M240.1 65.4h0M239.4 71.6h0M239 56.1h0M245.2 73h0M237 56.1h0M238.3 67.1h0M240.2 60.1h0M237.6 73.1h0M240.3 55.1h0M249.7 57.1h0M244.2 54.8h0M245.8 55.2h0M251.2 67.4h0M242.2 55.4h0M252.3 73.9h0M254.6 68.9h0M243.4 54.5h0M242.9 61.7h0M238 65.1h0M239.9 73h0M251.5 68.6h0M241.2 61h0M240.5 55.7h0M238.3 60.1h0M244.2 73.8h0M238.2 55.7h0M242.5 54.9h0M254.6 62.7h0M242.5 66.6h0M238 69.3h0M247.3 71.4h0M249.1 56.9h0M249.6 55.3h0M239.9 55.9h0M242.7 54.5h0M245.5 73.2h0M239.6 54.7h0M238.9 74.3h0M243.8 60h0M240.1 60.2h0M238 66.7h0M242.1 60.3h0M249.1 60.9h0M237.5 55.2h0M243.2 67.7h0M239.1 55.5h0" stroke="#000" stroke-width="0.7" stroke-linecap="round" fill="none" opacity="0.11"/>
<path d="M244.2 40.2h0M239 51.6h0M250.5 42.7h0M254 30.8h0M238.7 47.7h0M252.3 36.3h0M258.7 36.4h0M236.3 53.4h0M240.2 51.9h0M241.2 46.9h0M253.9 36.5h0M255 39.5h0M251.7 38.2h0M252.6 33.9h0M247 46.8h0M240.3 49.1h0M247.6 40h0M258.2 36.3h0M240.7 44.1h0M250.6 38.7h0M243 46.7h0M241.7 46h0M237 51.5h0M257.9 37.8h0M240.3 52.1h0M250.8 38.2h0M250.7 39.6h0M239.6 49.9h0M241.6 49.9h0M244.5 43.5h0M251.7 31.6h0M253.2 36.3h0M243.2 42.3h0M255.7 33.9h0M251.9 34.1h0M254.7 38.6h0M241.7 49.8h0M238.8 49h0M241.5 43.4h0M239.4 51.1h0M254.9 33.7h0M245.3 42.8h0M258.4 39.1h0M246.9 41.6h0M249.7 44.3h0M236 51.5h0M247.1 47.5h0M252.4 41.3h0M251.7 40.6h0M244.5 49.7h0M236.1 52.2h0M245.5 46.5h0M252.7 36.7h0M251.9 38.2h0M256.6 41.6h0M248.7 35h0M249.7 43.5h0M239 55.2h0M240.4 46.9h0M248.3 37.3h0M246.1 45.3h0M242.3 48h0M255.3 41.8h0M251.8 35.8h0M244.6 43.5h0M242.3 48h0M250.2 42.6h0M233.7 48.9h0M248.2 43.8h0M255.3 32.4h0M251 36.5h0M244.5 46.8h0M241.9 44.7h0M252.5 39h0M254.2 35h0M246.6 43.3h0M241.5 45.3h0M254.8 32.6h0M255.5 36.5h0M252 36.2h0M251.4 35.1h0M245.2 42.8h0M249.9 36.7h0M243.9 47.8h0M247.6 45h0M252 38.9h0M251.9 40.5h0M252.2 37.5h0M251.1 41.5h0M236.2 50h0M247.2 44.9h0M254.6 38.5h0M247.8 44.6h0M248.1 42.5h0M248.3 44.6h0M242.1 46.1h0M256.8 34.9h0M255.7 39.8h0M256.5 35.1h0M245.5 43.7h0M252.9 41.2h0M249.5 40.8h0M251.1 42.9h0M249.8 43.3h0M251.9 37h0M251.5 40.4h0M254.2 37.6h0M238.7 53.3h0M252 38.7h0M239.7 48.9h0M254 39.9h0M256 41.9h0M246 41.3h0M236.8 53.3h0M260.4 40.9h0M237.5 52.4h0M249.7 40.3h0M240.9 48.7h0M252.7 39.1h0M245.7 49h0M256 33h0M239.8 49.9h0M257.5 37.4h0M249.7 38.3h0M239.9 51.1h0M238.9 50.9h0M236.6 52h0M253.7 35.4h0M254.2 38.8h0M254.4 36.3h0M248.9 41.3h0M256.4 35.8h0M250 39.7h0M243.8 43.6h0M238.8 53.1h0M238.4 53.7h0M254.8 38.8h0M245.9 49h0M237.2 54.9h0M243.6 43.3h0M254.9 39.8h0M255.3 36.5h0M252.8 32.2h0M251.9 37h0M251.5 42.9h0M254.4 31.7h0M257 35.4h0M245.7 46.3h0M243.5 47.5h0M255.3 36.7h0M237.3 54.1h0M254.3 36.1h0M239.5 47h0M248.3 40h0M239.7 52.2h0M238.6 48.5h0M241.5 43.3h0M246.6 44.3h0M238.1 49.4h0M252.4 35h0M256.5 36.9h0M242.7 47.7h0M254 35.6h0M256.7 33.9h0M244.5 49.3h0M251 40h0M243.4 48.2h0M251.4 37.9h0M235 51.6h0M254.3 37.7h0M240.4 49.4h0M242.8 48.6h0M258 35.4h0M254.4 34.4h0M255.1 34.9h0M236.8 55.4h0M248.5 41.3h0M256.3 40.5h0M249.3 41h0M251.7 40.9h0M253.8 33.7h0M242.8 46.8h0M253.1 39.5h0M237.2 54.1h0M254.2 38.8h0M255.4 34.6h0M244.2 44h0M250.9 36.4h0M247.3 42.3h0M237.3 53.6h0M243.1 49.7h0M241.4 51.7h0M247.7 40.8h0M252.4 37.3h0M240.4 50.3h0M242.7 49.1h0M254.1 34h0M258.7 36.5h0M250.6 39.2h0M242.6 46.5h0M246.9 39.8h0M250 44.3h0M239.6 47.9h0M254.2 38.3h0M245.1 43.9h0M241.2 48.7h0M240.5 50.1h0M254 38.9h0M256.4 39.9h0M250.2 34.3h0M254.8 38.4h0M255 37.8h0M237.3 52.2h0M250.7 44.3h0M256.9 44.5h0M236.4 53.8h0M245.8 46.1h0M242.9 41.5h0M258.1 39.7h0M242.4 45.9h0M240.7 51.9h0M249.8 44h0M256.4 39.4h0M238.2 51.1h0M243.8 47.7h0M252.3 38.1h0M244.4 46h0M243.2 46.3h0M258.3 35.5h0M244 47.7h0M245.7 41.8h0M238.1 52.6h0M245.1 45.3h0M244.7 43.3h0M251.7 37.1h0M255.9 35.9h0M236.6 52.2h0M256 33h0M241 52.9h0M255.2 36.2h0M251.9 33.3h0M252.4 38.5h0M253.4 38.6h0M248.1 41.9h0M245.2 44.9h0M237.5 53.7h0M247.9 38.3h0M251.9 34.7h0M247.2 43.4h0M235 53.1h0M249.1 37.2h0M243.5 49.5h0M258.1 37.8h0M244 46.7h0M248.8 37.3h0M253.9 38.9h0M254 34.3h0M254.7 39.3h0M254.2 35h0M238.6 53.5h0M251.6 36.2h0M245.8 38.9h0M246.8 42.7h0M245 47.3h0M240.2 54h0M237.3 56.3h0M254.1 41.5h0M238.4 48.2h0M250.1 35.8h0M237.9 51.7h0M251.2 44.2h0M253 39.4h0M244.4 45.2h0M258 39.2h0M256.3 34h0M243.2 46.8h0M237.3 52h0M241.3 51.1h0M240.8 47.1h0M244.6 46.6h0M256.8 34.9h0M258 36.8h0M245.5 45.3h0M251.9 39h0M253.1 40.2h0M236.2 53.5h0M251.3 40.2h0M246.4 41.5h0M243.5 51.1h0M239.3 50.1h0M248.2 39.9h0M256 33.6h0M241.5 51.2h0M245.8 42.5h0M239 56.4h0M243.8 45.9h0M254 35.6h0M249.4 38.5h0M244.8 46.3h0M243.6 52.8h0M254.9 35.8h0M255.9 35.5h0M245.8 41.9h0M253 37.9h0M251.5 40.9h0M246.7 39h0M249.1 44.5h0M237.3 50.2h0M237.9 53h0M240.3 43.9h0M244.4 43.3h0M247.5 43.5h0M235.4 53.2h0M251.9 42.7h0M237.4 51.8h0M242.2 46.4h0M250.7 40h0M252.9 36.9h0M255.8 35.9h0M244.5 48.2h0M256.3 37.5h0M238.4 50.7h0M242.1 47.3h0M245.9 44.1h0M243.1 50.1h0M242.9 47.5h0M239.7 52.5h0M235.3 53.2h0M250.8 36.7h0M243.6 46h0M241.1 45.5h0M242.7 44.6h0M257.9 36.9h0M250.2 37.9h0M250.4 42.9h0M253.4 38.2h0M243.5 43.3h0M242.5 45.7h0M245.2 47.7h0M251.7 34.9h0M252.4 32.8h0M256.8 34.3h0M250.1 36.5h0M249 41.1h0M245.7 44.8h0M246.7 45.7h0M244.6 41.7h0M235.6 53h0M246.5 48.8h0M252.3 42.3h0M244.1 45.1h0M257.8 37.5h0M247.4 42.8h0M241 45.2h0M252.3 38.3h0M251.2 43.1h0M251.7 35.1h0M240.1 45.3h0M253.5 41.8h0M244 46.2h0M251.4 35.2h0" stroke="#000" stroke-width="0.75" stroke-linecap="round" fill="none" opacity="0.2"/>
<path d="M241.9 48.4L254.8 36.1" stroke="#000" stroke-width="4" stroke-linecap="round" opacity="0.28" filter="url(#b2)"/>
<ellipse cx="251.6" cy="39.4" rx="6.5" ry="2.7" transform="rotate(-45 251.6 39.4)" fill="#000" opacity="0.34" filter="url(#b15)"/>
<path d="M252.8 38.4h0M250.5 41.9h0M251.3 40.8h0M254 41.1h0M250 38.1h0M249.5 42h0M247.1 46.6h0M251.3 40.3h0M247.9 45.8h0M253.7 36.6h0M255.1 42.4h0M252.5 37.1h0M251.1 41.6h0M252.2 40.5h0M244.4 46.2h0M254.9 38.8h0M252.2 38.5h0M253.6 38.1h0M255 37.1h0M251.3 43h0M250 41h0M248.3 43.3h0M246.8 39.2h0M257 35.3h0M249.2 42.4h0M249.8 41.1h0M251.4 41.7h0M259.9 34.6h0M252.6 38.6h0M249.4 41.3h0M252.7 35.6h0M255.3 34.7h0M249.3 39.4h0M254.8 35.5h0M246.1 42.9h0M246.7 43.1h0M248.3 37.9h0M255.3 34.3h0M249.2 38.9h0M256.2 34.7h0M249.3 42.7h0M251.4 40.6h0M251.3 40.9h0M252.9 37.9h0M254 39.6h0M250.2 36.1h0M250.4 41.8h0M247.4 43.1h0M253.3 34.4h0M248.9 38h0M249.9 37.5h0M254.5 39h0M250.1 39.3h0M255.3 34.8h0M257.5 39h0M246.9 44.5h0M258 35.3h0M251.3 39.2h0M253.5 39.7h0M245.3 42.7h0M250.8 43.2h0M250.5 45.5h0M255.3 37.6h0M246.5 42.5h0M249.7 38.6h0M251.9 41.5h0M251.9 40.1h0M249.9 38.6h0M251.3 37h0M253.6 35.8h0M250.3 37.6h0M253.1 41.5h0M245.3 46h0M253.9 36.8h0M252 40.2h0M255 35.8h0M249.2 39.5h0M250 44.4h0M256.6 41.2h0M249.2 37.7h0M255.5 39h0M253.7 38.3h0M249.6 41h0M247 44.4h0M250.6 41h0M252.3 39.9h0M255.5 41.2h0M251.4 39.8h0M254.9 37.6h0M249.5 37.6h0M252.6 42.5h0M251.9 39.6h0M253 34.7h0M252.3 38.6h0M250.7 43.7h0M251.9 42h0M248.8 40h0M244.6 41.5h0M254 36.8h0M251.7 38.4h0M256.3 37.9h0M253.8 40.6h0M250.7 46.2h0M251.6 42.1h0M249 44.9h0M255.9 38.4h0M257 39.2h0M252.2 34.5h0M249.6 40.9h0M249.1 39.7h0M254.8 32.8h0M248.3 42.2h0M246.5 45.2h0M250.8 37.4h0M253.8 35.4h0M251.5 38.8h0M257.1 35.9h0M257.4 34.6h0M249.2 42h0M248.8 42h0M247.2 42h0M253.8 35.7h0M252.6 36.9h0M255.2 40.5h0M252.2 38.6h0M260.4 33.3h0M249.6 35.2h0M255.5 36.6h0M256.7 39.7h0M253.4 38.9h0M249.7 42h0M255 35.6h0M249.8 40.7h0M249.1 41.5h0M261.4 33.4h0M251.3 41.8h0M253.3 41.6h0M249.4 35.3h0M245.8 40.1h0M251.4 37.2h0M252 34.9h0M250 44.5h0M251.4 40.8h0M250.7 40.4h0M250.9 40.1h0M253.9 39.3h0M249.7 41.2h0M250.5 39.6h0M250.1 39.1h0M251.3 39.9h0M258.4 31.5h0M250.7 44.6h0M244.6 49.4h0M253.2 39.8h0M249.6 42h0M250.1 36.9h0M249.6 43.3h0M256.3 37.1h0M251 41.3h0M251.7 41.7h0M254.1 39h0M252.7 42.3h0M250.6 41.3h0M249.2 45.5h0M249.3 43.3h0" stroke="#000" stroke-width="0.75" stroke-linecap="round" fill="none" opacity="0.2"/>
</g>
<rect x="211.2" y="28.4" width="50.6" height="49.2" fill="none" stroke="#888" stroke-width=".9"/>
<path d="M235.6 28.4V77.6M211.2 53.1H261.8" stroke="#1a1a1a" stroke-width=".8" fill="none"/>
<path d="M211.7 52.1V77.2H236.6" stroke="#000" stroke-width="1.9" fill="none"/>
<path d="M211.2 28.4V53.1" stroke="#333" stroke-width="1" fill="none"/>
<path d="M235.6 77.4H261.8" stroke="#666" stroke-width="1" fill="none"/>
<text x="212.5" y="34.1" font-size="6.4" text-anchor="start" font-weight="bold">0.4</text>
<text x="236.9" y="34.1" font-size="6.4" text-anchor="start" font-weight="bold">3.1</text>
<text x="211.8" y="76.9" font-size="6.4" text-anchor="start" font-weight="bold" style="stroke:#fff;stroke-width:1.3px;fill:#fff" opacity=".55">96.0</text>
<text x="211.8" y="76.9" font-size="6.4" text-anchor="start" font-weight="bold">96.0</text>
<text x="261.3" y="76.9" font-size="6.4" text-anchor="end" font-weight="bold">0.5</text>
</g>
<g>
<clipPath id="cb3"><rect x="154.2" y="103.3" width="50.4" height="49.2"/></clipPath>
<clipPath id="qb3"><rect x="154.2" y="127.9" width="25.6" height="24.6"/></clipPath>
<g clip-path="url(#qb3)">
<rect x="154.2" y="127.9" width="25.6" height="24.6" fill="#000" opacity="0.31"/>
<rect x="154.2" y="127.9" width="25.6" height="24.6" fill="url(#gq)"/>
<rect x="154.2" y="127.9" width="25.6" height="24.6" fill="url(#gb)"/>
<path d="M158.4 137.7h0M157.8 139.6h0M177.8 142.5h0M172.8 136.8h0M163.8 135.5h0M170.4 139.8h0M171.3 129.2h0M157 139.4h0M175.8 139.3h0M157.9 130h0M176.5 131.3h0M158.5 129.8h0M161.4 131.1h0M164.7 135h0M172.7 143h0M169.2 146.4h0M176.1 143.6h0M162.8 140.4h0M158.6 139.2h0M173.8 148.1h0M177.8 149.2h0M174.9 129.3h0M161.1 141h0M167 138.2h0M157.2 150.9h0M177.2 144.7h0M163.5 141.5h0M163.4 132.6h0M170.4 150.9h0M159.7 132.8h0M173.1 142h0M158.3 131h0M158.4 132.2h0M162.1 133.9h0M157.6 150.4h0M169.6 143.5h0M169.6 144.3h0M159.6 129.6h0M159.6 146.4h0M169.5 141.9h0M172.9 146.5h0M166.2 143.5h0M171.2 141.7h0M164.9 130h0M174.4 139h0M167.7 138.7h0M166.2 146.6h0M172.6 137h0M161.4 147.1h0M174.5 145.9h0M166.1 131.4h0M164.3 131.4h0M164.7 144h0M170 138.8h0M170.9 145.6h0M161.4 133.8h0M168 145.3h0M169.2 133.6h0M168 133.2h0M159.5 148.1h0M160.3 148.1h0M172.2 141.9h0M159.8 151.2h0M161 150.9h0M167.3 144.8h0M173.8 145.4h0M162.9 145.4h0M169.4 144.1h0M159.5 130.2h0M157.8 148.1h0M176.7 145.3h0M171.7 135h0M173.3 149.1h0M168.9 143.6h0M162.9 129.7h0M164.7 132.9h0M165.9 143.9h0M156.3 137h0M169.3 132.1h0M161.8 130.1h0M168.5 142h0M177.9 147.6h0M173 150.8h0M174.8 131.9h0M166 135.9h0M165 136.2h0M177.4 141.3h0M178.5 131.2h0M160.9 150.7h0M168 130h0M176.4 140.3h0M173.1 151.1h0M171.4 142.5h0M171.2 140.5h0M165.1 139.3h0M171.5 145.1h0M157 142.5h0M157.7 146.2h0M156.5 145.3h0M158.1 145.5h0M173.1 142.1h0M174.9 150.7h0M160.9 134.2h0M173.2 139.7h0M159.7 132.8h0M161.7 144.6h0M174.4 151.5h0M175.9 145.6h0M161.8 134.8h0M157 149.3h0M176.1 129.8h0M177.6 145.9h0M166.7 141.2h0M156.8 130.6h0M165.1 130.5h0M157.8 132.5h0M160.2 148.3h0M175.8 130.5h0M160.7 138.2h0M175.7 140.2h0M156.2 136h0M178.1 129.1h0M162.5 130.5h0M158.3 146.2h0M158.2 129.5h0M164.2 150.2h0M169.6 147h0M161 132.7h0M159.6 133h0M162.8 141h0M159.8 132h0M172.7 142.5h0M156.6 131.9h0M177.1 150.8h0M175.4 147h0M170.7 131.3h0M178.4 133.8h0M171.5 141.5h0M172.1 134.3h0M160 138.9h0M176.7 149.4h0M161.9 147.2h0M165.1 133.8h0M175.1 135.9h0M174.1 148.4h0M168.6 140.7h0M159.7 141.3h0M175.8 141.9h0M157.7 146.1h0M175.6 130h0M172.6 134.1h0M174.2 132.3h0M160.2 143.6h0M176.5 143.2h0M165.5 129.5h0M176.8 133.4h0M171 130.6h0M178 150.9h0M177 131.8h0M156.4 134.8h0M167.4 148h0M169.8 150.5h0M178.4 133.7h0M176.4 145.8h0M169.7 136.3h0M176.9 130.9h0M177.5 132.1h0M174.4 136.6h0M159.6 129.4h0M156.4 149h0" stroke="#fff" stroke-width="0.9" stroke-linecap="round" fill="none" opacity="0.25"/>
<path d="M172.7 131.1h0M172.2 137.4h0M155.9 145.1h0M174.8 133.8h0M164.2 133.8h0M155.4 149.6h0M165.3 134h0M160.2 142.2h0M162.9 148.6h0M155.4 139.3h0M173 146.7h0M174.8 147.4h0M172.1 146.5h0M156.2 150.9h0M155.5 143h0M167.9 145.4h0M172.1 137.2h0M161.5 142.8h0M173.1 150.4h0M164.7 149.6h0M165.9 137.2h0M161.1 145.1h0M161.1 134.4h0M177.5 142.5h0M155.5 141.4h0M156.9 151.9h0M164.4 131.3h0M156 148.1h0M156.8 140.3h0M170.8 135.4h0M161.6 142.8h0M171.9 150.3h0M170.8 148.2h0M164.3 131.9h0M163 150.8h0M159.9 137.9h0M170.2 133.9h0M156.7 144.5h0M169.9 143.8h0M158.4 150.6h0M155.4 135.7h0M160.4 131.3h0M161 129.8h0M166.5 138.2h0M157.1 140.9h0M163.3 144.8h0M161.3 143.9h0M161.7 131.5h0M159.9 131.8h0M172.6 139.6h0M158 138.1h0M156.1 132.4h0M162.9 132.4h0M155.7 145.3h0M176.4 144.9h0M158.6 148.4h0M155.2 134.7h0M167.7 136.3h0M155.6 131.2h0M165.3 150.5h0M173.5 145.1h0M171.9 144.8h0M155.8 139.4h0M155.4 129h0M158.8 150.6h0M160.5 141.9h0M168.6 152.3h0M170.9 135h0M156.1 148h0M160 138.1h0M165.4 141.1h0M169 139.6h0M167.9 135.2h0M158.6 136.2h0M163.6 151.6h0M160.9 149.3h0M155.5 151.6h0M156.6 134.1h0M164.8 132h0M175.3 147.4h0M159.7 133.6h0M158.2 137.9h0M155.8 147.8h0M175 143.7h0M156 148.7h0M157 136.7h0M176.3 137.2h0M157.4 149.4h0M160.8 141.2h0M157.8 137.7h0M155.7 139.4h0M157.4 145.7h0M170 144.9h0M160.4 133.4h0M157.2 151.8h0M168.4 149.1h0M156.7 139.1h0M158 131h0M160.9 149.8h0M161.4 139.4h0M176.8 143.9h0M176.3 133h0M168.2 132.8h0M158.6 136.3h0M169.4 146.6h0M164.1 148.1h0M176.8 139h0M155.4 145.6h0M168.7 145.4h0M168 144.9h0M155.5 132.6h0M155.3 148.3h0M155.5 136.3h0M176.6 148.5h0M163.3 146.3h0M160 150h0M168.1 133.7h0M172 136.3h0M155.7 151h0M164.8 132.1h0M166.4 144h0M161.9 133.1h0M156.3 129.6h0M173.9 137.2h0M155.2 138.3h0M173.5 150.3h0M162.8 139.5h0M167.4 136.4h0M160.7 141.7h0M160.3 130.8h0M156.4 132.2h0M157.3 150.7h0M159.8 147.2h0M159.5 151.5h0M157.1 129h0M176.3 150.6h0M156.4 148.5h0M155.7 142.7h0M159 151.7h0M161.2 151.5h0M162.3 150.1h0M168.5 128.9h0M162.2 141.7h0M165.7 151.3h0M167 136h0M173.4 146.7h0M157.3 143.4h0M157.1 143.3h0M156.6 142.4h0M174.3 132.5h0M164.4 129.3h0M155.4 134.2h0M171.4 148.3h0M156.5 130.6h0M157.7 129.8h0M157.1 137.3h0M162.7 144.8h0M169.9 135h0M168.7 145.9h0M167.4 147.6h0M170.2 137.9h0M159.2 147.9h0M155.6 137.1h0M166.1 139.4h0M156.1 151.1h0M177.2 146.5h0M174.1 147.7h0M161.7 152.3h0M165.8 138.4h0M170.1 130.5h0M166.1 144.2h0M173.9 138h0M177.4 149.9h0M165.9 151.8h0M161.6 140.7h0M161.3 152.1h0M155.4 139.3h0M173.3 148.3h0M167.2 148.8h0M155.3 147.7h0M155.5 141.6h0M160.1 152.3h0M175 144.1h0M177.3 133.5h0M178.1 132.5h0M160.3 138.6h0M162.2 139.6h0M171.4 146.5h0M160.2 148.5h0M169.7 137.8h0M156.9 143.9h0M165.6 135h0M175.9 132.7h0M178.2 142.3h0M173.1 143.9h0M156.9 143.5h0M156.9 129.3h0M158 151.1h0M162.8 146.7h0M174.2 150.6h0" stroke="#000" stroke-width="0.9" stroke-linecap="round" fill="none" opacity="0.38"/>
<path d="M160 135.5 C160.4 133.2 169.9 128.9 174.7 128.9 C177 128.9 177.9 129.9 177.9 132.4 C177.9 136.7 177.9 140.9 176.7 145.6 C175.9 148.3 173.6 149.1 171.8 146.9 C168.1 142.5 160 138.2 160 135.5 Z" fill="#000" filter="url(#b07)" opacity="0.62"/>
<path d="M162 135.7 C162.3 133.8 170.2 130.2 174.2 130.2 C176.1 130.2 176.9 131 176.9 133.1 C176.9 136.7 176.9 140.2 175.9 144.1 C175.3 146.3 173.3 147 171.8 145.2 C168.7 141.5 162 138 162 135.7 Z" fill="#fff" stroke="#222" stroke-width=".5"/>
<path d="M165.3 136 C165.5 134.8 170.8 132.4 173.4 132.4 C174.7 132.4 175.2 133 175.2 134.3 C175.2 136.7 175.2 139 174.5 141.6 C174.1 143.1 172.8 143.5 171.8 142.3 C169.8 139.9 165.3 137.5 165.3 136 Z" fill="none" stroke="#555" stroke-width=".5"/>
<path d="M168.3 136.3 C168.4 135.6 171.2 134.4 172.7 134.4 C173.4 134.4 173.7 134.7 173.7 135.4 C173.7 136.7 173.7 138 173.3 139.4 C173.1 140.2 172.4 140.4 171.8 139.8 C170.7 138.4 168.3 137.1 168.3 136.3 Z" fill="none" stroke="#666" stroke-width=".5"/>
<path d="M170.8 136.6 C170.9 136.4 171.7 136 172.1 136 C172.3 136 172.3 136.1 172.3 136.3 C172.3 136.7 172.3 137 172.2 137.4 C172.2 137.6 172 137.7 171.8 137.5 C171.5 137.2 170.8 136.8 170.8 136.6 Z" fill="#888"/>
</g>
<g clip-path="url(#cb3)">
<path d="M181.8 126.7h0M160.1 118.5h0M172 123.2h0M160.1 125.6h0M172.4 121.8h0M180 122.1h0M171.2 124.8h0M158.9 125.6h0M174 127.1h0M180.2 120h0M178.2 119.2h0M180.4 124.2h0M158.7 126.4h0M179.3 123.9h0M166 118.5h0M161.5 122.4h0M166.3 120.9h0M158.3 121.8h0M163.7 123.8h0M170.8 127.6h0M156.4 122.2h0M160.3 121.6h0M160.5 125.5h0M174.2 124.1h0M177 127.6h0M170 121h0M179.1 127.4h0M159.2 127.3h0M179.6 124.1h0M177 125.1h0M159.9 125.2h0M165.5 125.7h0M164.4 126.7h0M164 126h0M177.9 124.2h0M161.6 121.5h0M164.5 126.2h0M160.9 122h0M172.1 125.4h0M170.5 125.3h0M177.8 126.7h0M176.7 117h0M179.8 123.9h0M167.4 124.4h0M163.5 127.6h0M173.4 122.1h0M160.8 120.3h0M161.2 122.8h0M177.2 126.8h0M175.1 125.7h0M159.8 120.3h0M159.5 127.6h0M180.2 116.7h0M180.2 122.1h0M179.5 126.7h0M175.9 118.6h0M165.7 123.1h0M174 119.2h0M159 113.3h0M169.9 123.7h0M164.3 123.6h0M173.2 122h0M158.4 126.2h0M159.4 126.6h0M159.7 125h0M157 122h0M173.5 123.6h0M181.8 122.7h0M178.6 124.7h0M167.3 120.4h0M178.4 118.9h0M168.4 124.6h0M168.2 123.6h0M158.6 122.3h0M169.7 117.6h0M173.7 125.8h0M163.5 124.2h0M156.5 123.6h0M156.2 118.3h0M180.9 127.5h0M162.9 121.6h0M179 120.4h0M166.1 126.9h0M164.5 126.7h0M178.1 123.9h0M160.1 124.2h0M169.6 126.5h0M166.1 122h0M181.1 125.2h0M171.9 125.1h0M174.7 127.1h0M158.4 127.4h0M165.8 123.6h0M166.3 120.7h0M156.7 121.8h0M176.3 123.7h0M180.3 123.1h0M176.5 127.6h0M174.4 122.8h0M164.7 127.2h0M164.1 121.2h0M158 127.7h0M159.7 125h0M160.7 124.5h0M170.8 125.5h0M163.4 123.4h0M168.5 124.2h0M156.5 127.1h0M176.8 127.2h0M156.3 127.2h0M174.3 118h0M159.8 123.8h0M162 127.6h0M159.4 127.4h0M163.8 127.8h0M178.4 121h0M173.8 124.8h0M163.7 120.1h0M178.9 126.8h0M159.4 117.7h0M164 122.9h0M165.8 127.6h0M158.6 125.5h0M159.6 126.6h0M160.9 124.7h0M177.4 118.8h0" stroke="#000" stroke-width="0.7" stroke-linecap="round" fill="none" opacity="0.11"/>
<path d="M183.9 146.9h0M185.2 133h0M184.8 131.2h0M184.3 134.4h0M185 137.7h0M185 130.3h0M187.9 149.2h0M183.7 144.3h0M180.8 140.1h0M183.8 133.6h0M184.8 132.6h0M185.3 129h0M192.5 148.7h0M184 130.3h0M186 132h0M183.5 135.6h0M184.4 147.2h0M192.5 139.6h0M184.2 129.4h0M192 133.2h0M183.6 144.2h0M181.7 141.5h0M182.6 131.3h0M180.1 138.6h0M186.1 138.9h0M189.3 133h0M191.3 146.7h0M180.2 141.8h0M181.9 145h0M180 147.6h0M187.3 142.1h0M187.1 134.3h0M186.6 148.1h0M186.4 141.4h0M181.2 142.5h0M181.6 139.2h0M180.2 131.3h0M184.4 136.7h0M180.9 129.8h0M179.9 147.5h0M179.7 132.5h0M183.6 129h0M180.6 130.6h0M186 131.2h0M188.2 130h0M187.7 130.8h0M191.8 130.6h0M188.4 138.2h0M183.5 131.2h0M187.3 141h0M179.7 129.6h0M187 148.9h0M182.7 135.1h0M192.8 131h0M191.5 138.8h0M189.5 145.6h0M180.5 130.4h0M183.6 131.2h0M180.5 130.9h0M189.5 144.2h0M188.1 138.2h0M180.7 144.5h0M187.1 142.4h0M193.2 129h0M201.9 144h0M188 149.4h0M181.6 130.4h0M185.5 141h0" stroke="#000" stroke-width="0.7" stroke-linecap="round" fill="none" opacity="0.11"/>
<path d="M193.8 116.8h0M185.7 124.2h0M183.3 122.7h0M200.1 110.4h0M191.5 115.1h0M193.6 117.6h0M194.2 117.3h0M183.8 121.1h0M185.7 128.7h0M185.8 120.8h0M191.4 115.7h0M192.2 113.7h0M189.1 115h0M183.6 125.2h0M192.8 116.2h0M185.4 122.2h0M191.6 121.1h0M180.5 124.5h0M192.5 117.3h0M197.3 112.7h0M194.1 114.8h0M194.4 117.2h0M201.4 109.8h0M197.4 110.7h0M192.4 116.3h0M189.8 119.7h0M187.5 119.7h0M187 123h0M190.5 119.9h0M188.6 123.9h0M198.1 110h0M197.2 115h0M186.4 123.8h0M198.9 109.2h0M186.3 124.5h0M197.1 105.4h0M189.4 117.5h0M181.8 127.1h0M192.2 116.7h0M193 112.1h0M185.5 123.2h0M200.3 116.5h0M188.5 120.8h0M190.4 117.3h0M201.2 109.2h0M195 112.1h0M190 117.7h0M199.6 109.9h0M189.4 121.3h0M198.3 112.6h0M191.3 121.5h0M197.6 110.1h0M191.8 110.8h0M190.9 117.2h0M203.1 113.4h0M192.3 115.1h0M183.9 125.9h0M187.8 120.3h0M184.7 125h0M194.3 115.1h0M193.6 111.7h0M199.6 110.8h0M195.7 113h0M195.1 115.3h0M199.2 110.5h0M202.1 114.5h0M182.4 121.6h0M202 109.7h0M192.7 116.8h0M196.5 115.4h0M192.4 115.1h0M195.3 117.9h0M184.5 124.3h0M192.4 112.6h0M190.3 115h0M198.7 112.2h0M182.5 126.1h0M196.3 110.2h0M191.4 119.1h0M197.1 112.2h0M200.5 114h0M195.3 114.6h0M196.6 110h0M194.5 111.9h0M192.2 117h0M190.2 120.3h0M190.8 118.4h0M197 106.5h0M185.2 120.4h0M196.8 110.7h0M185.7 119.4h0M194.9 113.5h0M181.9 124.8h0M197.6 114.7h0M196.5 111.6h0M196 109.8h0M193.4 112.9h0M197.7 110h0M192.9 115.3h0M186.1 125.6h0M182.1 126.2h0M196.6 112.2h0M194.9 117.3h0M187.4 122.1h0M203.2 112.7h0M193.1 115h0M200.6 113.3h0M194.6 113.1h0M196.2 113.6h0M195.2 113.3h0M196.9 109.8h0M193.3 122.2h0M184.8 124.3h0M197.1 115h0M196.8 116.2h0M203.2 112h0M184.7 116.7h0M191.3 120.6h0M191.4 125.5h0M191.3 118.5h0M191.7 120.9h0M186.4 118.4h0M196.5 108.4h0M197.2 113.6h0M194.3 115.1h0M180.1 125.7h0M188.1 120.5h0M195.7 118.2h0M187.9 122.6h0M196.2 108.7h0M195 109.8h0M195.4 113.7h0M193.2 111.9h0M187.8 122.4h0M196.4 111.1h0M194.7 116.3h0M192.9 115.5h0M193.3 115.7h0M183.3 125h0M190.4 118.9h0M198 107.1h0M196.3 106.6h0M182.6 122.1h0M196.1 108.7h0M199.8 113.8h0M194.2 119.5h0M200.7 114h0M198.7 117.3h0M191.7 115.6h0M193.8 120.2h0M198.3 111.5h0M193.8 115.6h0M186.1 126.6h0M192.6 117.3h0M199.4 108.8h0M188.6 119.7h0M187.1 119h0M197.1 111.7h0M199.4 108.4h0M202.8 110.5h0M182.7 127.2h0M183.6 122.9h0M200.1 111.1h0M194.6 113.1h0M182.6 126.1h0M196.3 110h0M194.7 115.1h0M185.7 122.8h0M186.5 120.8h0M191.6 119.7h0M188.1 119.5h0M182.3 123.7h0M187.3 122.8h0M202.9 111.7h0M189.3 119.4h0M182.8 120.9h0M199.4 109h0M180.2 126.2h0M203.6 112h0M186.5 123h0M192.2 118.8h0M199.4 110.2h0M200 115.5h0M190.2 113.2h0M191.5 115.8h0M189.3 114.6h0M190.7 117h0M199.2 109.4h0M184.8 125.7h0M187.4 124.3h0" stroke="#000" stroke-width="0.75" stroke-linecap="round" fill="none" opacity="0.2"/>
<path d="M186.3 122.5L198.8 110.6" stroke="#000" stroke-width="4" stroke-linecap="round" opacity="0.15" filter="url(#b2)"/>
<ellipse cx="196.9" cy="114.2" rx="6.5" ry="2.7" transform="rotate(-52 196.9 114.2)" fill="#000" opacity="0.59" filter="url(#b15)"/>
<path d="M204.1 109.4h0M199.3 112.2h0M197.2 111.7h0M193.4 114.6h0M193.7 117.7h0M192.6 117.3h0M191.6 118.7h0M202 111.2h0M198.7 114.1h0M199.8 109.2h0M197.7 114.7h0M198.2 111.7h0M194.8 112.3h0M194.1 113.7h0M195.4 114h0M201.3 109.9h0M194.9 118.5h0M200.3 112.3h0M197.6 111.4h0M202.7 108.3h0M194.5 113.1h0M202 112.7h0M196.3 117.8h0M198.7 111.5h0M198.2 110.9h0M198.7 112.9h0M198.9 115.1h0M198.2 114.7h0M202.2 111.7h0M195.5 114.2h0M196.4 113h0M201.6 105.6h0M199.1 110.4h0M198.9 109.2h0M199.4 109.5h0M197.2 115.3h0M196.1 117.5h0M198 112.8h0M201.1 108.5h0M196.2 113.1h0M195.4 116.7h0M201.2 109.7h0M190.6 114.9h0M196.2 113.1h0M195.8 116.9h0M189.6 119.1h0M197.6 117.1h0M191.2 119.2h0M199.5 113.7h0M198.6 116.3h0M195.8 111.8h0M194.2 119.1h0M196.5 120.9h0M197.6 112.1h0M198.3 116.8h0M196.2 114.7h0M201.6 110h0M198 115.2h0M199.8 109.5h0M193.7 119.1h0M192 115.9h0M197.4 111.6h0M198.3 114h0M197.2 118.6h0M198.8 112.5h0M199.1 116.8h0M194.4 117h0M197.5 115.2h0M194.2 114.4h0M197.3 110.8h0M193.1 122.7h0M196.9 118h0M199.1 111.1h0M190.1 115.7h0M194.9 120.3h0M198.5 108.7h0M198.1 119.2h0M195.2 118h0M200.7 108.9h0M201.5 112.3h0M198.4 113.2h0M193.4 113.6h0M198.1 115.1h0M194 114.1h0M190.3 119.5h0M193.6 116h0M199 113.1h0M198.8 114.2h0M196.6 115.3h0M195.3 118.5h0M200.4 109.8h0M196.4 115.9h0M200.5 111.4h0M198.7 109.8h0M197 110h0M198.8 107.7h0M197.7 107.4h0M197.2 115.9h0M197.7 108h0M198.2 111.6h0M194.8 117.4h0M200 111.8h0M197.2 117.2h0M198.9 117.5h0M200.4 112.7h0M192.4 114.5h0M196.4 117.8h0M196.4 113.6h0M196 112.7h0M198.8 113.6h0M201.2 110.1h0M197.1 115.2h0M196.5 113.7h0M195.9 111.5h0M195.2 114.9h0M200.6 110.3h0M199.5 107.1h0M198.8 114.7h0M195.3 119h0M198 114.4h0M195.4 117.4h0M192.7 120.7h0M197.2 114.1h0M194.3 109.7h0M198.7 114.9h0M199 114.2h0M197.9 113.8h0M197.3 115.6h0M192.9 116.8h0M202.5 110.4h0M197.2 113.4h0M195.1 117.7h0M195.4 116.3h0M196.8 114h0M192.9 112.3h0M192 120.7h0M197.6 115.2h0M198.6 112.3h0M192.4 121.5h0M198.9 113.2h0M195.3 111.7h0M189 120.5h0M197 118.3h0M196.5 116.2h0M197.1 108.2h0M200 109.8h0M199.5 118h0M198.2 116.9h0M197.6 114.7h0M197.3 114.1h0M195.7 114.8h0M195.5 113.1h0M192.9 118.5h0M194.4 120.8h0M196.9 113.6h0M198.8 109.6h0M192.4 116.8h0M196.8 121.6h0M201.2 109.3h0M197.6 120.7h0M201.3 110.5h0M198.7 112.7h0M198.9 109.5h0M197.3 116h0M192.6 113.2h0M192.2 121.9h0M202.6 108.4h0M199.3 111h0M200.7 111.9h0M196.3 111.9h0M199.1 110.1h0M198.5 114.3h0M199.4 113.5h0M199.7 113h0M196.7 114.5h0M196.6 113h0M195.5 112.5h0M194.9 113.7h0M195.4 112.5h0M193.9 115h0M196.7 116.9h0M189.1 117.2h0M201.5 106.6h0M198.4 111.4h0M201.4 112.2h0M200 114.8h0M197.8 115.9h0M195.1 119.6h0M199.1 111.4h0M195.8 113.8h0M202.2 111.2h0M188.9 119.2h0M197.2 116.5h0M199.8 111.2h0M200.1 112.4h0M193 116.6h0M190.1 115.4h0M196.2 117.4h0M194.5 114h0M197.8 116.2h0M196.3 116.3h0M200.4 107.7h0M192.4 115.4h0M194.1 112.1h0M197.6 109.1h0M197 109.5h0M197.1 111.5h0M198.6 110h0M197.5 117.2h0M199.7 113.7h0M195.5 114h0M195.1 117h0M200.7 112.1h0M193.7 118.6h0M197.2 115.6h0M195.2 115.1h0M197.6 117.9h0M196.5 113.1h0M198.9 114.9h0M196.8 117h0M199.9 112.8h0M196.4 119.6h0M193.9 117h0M197.5 111.3h0M196.1 114.4h0M194.7 117h0M200.7 116.3h0M198.4 109.5h0M193.9 118.5h0M196.9 118.6h0M202.2 110.2h0M201.3 107.3h0M203.1 109h0M197.2 110.6h0M205.1 106.7h0M199.2 112h0M197.1 112.2h0M197.8 112.4h0M195.3 120.1h0M194.7 115.7h0M197 114.1h0M197.6 113.8h0M187.8 125.1h0M197.5 108.8h0M199 112h0M197.9 117.3h0M195.7 115.1h0M200.9 112.1h0M195.9 119h0M196.8 118h0M196.3 114.1h0M201.6 108.3h0M195.1 113.7h0M197.9 108.9h0M193.5 118.9h0M198.6 116.1h0M193.9 115.6h0M192.1 118.8h0M195.8 115.3h0M198.1 110h0M196.7 113.5h0M194.2 114.6h0M194.8 112h0M196.5 115.7h0M195.6 116.6h0M194.3 116.2h0M195.9 116h0M199.8 113.9h0M192.6 117h0M201.9 111.7h0M196.8 113.5h0M195.9 115.6h0M203.4 109h0M202.3 107.4h0M194 109.3h0M196.7 113.1h0M196.5 109.9h0M188.6 116.1h0M199.7 113.5h0M197.2 116h0M200.7 115.3h0M193.6 114.4h0M198.5 114.4h0M193.1 120.1h0M198.5 113h0" stroke="#000" stroke-width="0.75" stroke-linecap="round" fill="none" opacity="0.2"/>
</g>
<rect x="154.2" y="103.3" width="50.4" height="49.2" fill="none" stroke="#888" stroke-width=".9"/>
<path d="M178.6 103.3V152.5M154.2 127.9H204.6" stroke="#1a1a1a" stroke-width=".8" fill="none"/>
<path d="M154.7 126.9V152.1H179.6" stroke="#000" stroke-width="1.9" fill="none"/>
<path d="M154.2 103.3V127.9" stroke="#333" stroke-width="1" fill="none"/>
<path d="M178.6 152.3H204.6" stroke="#666" stroke-width="1" fill="none"/>
<text x="155.5" y="109" font-size="6.4" text-anchor="start" font-weight="bold">0.5</text>
<text x="179.9" y="109" font-size="6.4" text-anchor="start" font-weight="bold">3.1</text>
<text x="154.8" y="151.8" font-size="6.4" text-anchor="start" font-weight="bold" style="stroke:#fff;stroke-width:1.3px;fill:#fff" opacity=".55">95.8</text>
<text x="154.8" y="151.8" font-size="6.4" text-anchor="start" font-weight="bold">95.8</text>
<text x="204.1" y="151.8" font-size="6.4" text-anchor="end" font-weight="bold">0.5</text>
</g>
<g>
<clipPath id="cb4"><rect x="211.2" y="103.3" width="50.8" height="49.2"/></clipPath>
<clipPath id="qb4"><rect x="211.2" y="128.3" width="25.8" height="24.2"/></clipPath>
<g clip-path="url(#qb4)">
<rect x="211.2" y="128.3" width="25.8" height="24.2" fill="#000" opacity="0.31"/>
<rect x="211.2" y="128.3" width="25.8" height="24.2" fill="url(#gq)"/>
<rect x="211.2" y="128.3" width="25.8" height="24.2" fill="url(#gb)"/>
<path d="M215.3 139.6h0M225.5 141.7h0M227.9 136.5h0M228.4 131.4h0M225.2 133.9h0M229.9 141.8h0M225.4 132h0M220.7 129.4h0M234.7 138.9h0M230.9 146.8h0M232.7 141.6h0M226.6 137.7h0M223.2 146.3h0M227.4 142h0M225.3 143.5h0M220.4 139.9h0M215.5 146.2h0M223.8 149h0M216.5 151.3h0M227.6 136.8h0M225.5 142.9h0M218.5 137.1h0M215.6 146.1h0M228.4 150.2h0M231.5 134.6h0M219 132.7h0M216.2 145.9h0M230.8 148.3h0M221.5 151h0M219.6 131h0M215.3 132.7h0M221.7 150.6h0M231.2 144.7h0M214.4 141.4h0M230.3 133.2h0M220.3 149.9h0M227.9 148.1h0M230.3 141.5h0M222.1 148.8h0M217.8 142h0M229.7 141.2h0M219.7 146.8h0M235.3 141.2h0M220.8 142.9h0M221.9 129.4h0M219.5 132.6h0M234.1 142.1h0M223.5 135.2h0M235.4 144.2h0M224.9 143h0M225.5 140.5h0M225.8 130.3h0M218.2 135.3h0M226.2 134.1h0M216.8 136.6h0M232.7 148.8h0M217.3 134.8h0M220.6 136.1h0M223.9 147.5h0M220.1 148.5h0M226.1 129.5h0M219.4 147.1h0M218.1 134.3h0M216.7 148.6h0M225.8 140.2h0M233.5 136.3h0M232.8 129.7h0M231.6 130.1h0M215.8 133.6h0M214.6 145.2h0M230.5 137.9h0M223.3 140.2h0M228.3 151.2h0M233.5 139.4h0M228.3 134.8h0M217.5 148.1h0M213.3 140h0M234 132h0M218.8 142.3h0M220.3 143.5h0M231.3 135.9h0M224.4 131.9h0M223 150.1h0M233.2 143.3h0M229.8 138.6h0M215 131.8h0M213.3 145.8h0M231.2 145.2h0M227.5 137.8h0M214.3 150h0M226.7 135.3h0M214.7 140.8h0M216.6 136.5h0M220.2 130.7h0M220.8 149.8h0M220.4 138.3h0M231.6 139.5h0M229.4 135.6h0M222 130.6h0M228 141.2h0M219.4 140.1h0M232.9 136.5h0M216.5 135.3h0M220.7 146.9h0M217 150.8h0M230.9 148.3h0M216.5 147.3h0M232.8 133.6h0M221.5 148.6h0M230.6 138.2h0M234.2 144.8h0M221 138.7h0M213.3 137.4h0M232.6 150.3h0M233.3 134.1h0M228.6 133.8h0M223.2 131.4h0M219.7 146.8h0M223.5 131.5h0M219.4 140.3h0M219.4 144.2h0M229.9 132.9h0M234.9 134.1h0M217.7 145.8h0M226 134.5h0M220.5 129.6h0M229.7 133.1h0M217.6 143.9h0M234 137.5h0M231.7 135.9h0M221.1 134h0M234.8 134.9h0M231.5 140.6h0M225.3 140.1h0M223.7 151.4h0M221.2 143.2h0M223 145.5h0M223.6 140.8h0M230.7 138.2h0M226 135.8h0M220.2 135.6h0M214.3 145.8h0M216.8 130h0M226.6 143.3h0M226.6 139.2h0M217.7 140.9h0M228.7 129.8h0M231.9 143.6h0M219.8 142h0M218.9 150.7h0M233.4 149.3h0M221.7 147.4h0M227.8 131h0M222.2 144.4h0M228 130.6h0M222.8 144h0M214.1 150.6h0M229.9 132.7h0M228.1 139h0M222 145.8h0M220.3 151.2h0M222.6 129.9h0M214.7 146.6h0M218.8 133.7h0M220.3 151.4h0M226.8 133h0M229.4 135.7h0M233.5 136.6h0M224.9 133.5h0M218.5 130.6h0" stroke="#fff" stroke-width="0.9" stroke-linecap="round" fill="none" opacity="0.25"/>
<path d="M219 135.8h0M230.5 148.5h0M216.5 151.8h0M214.5 147.1h0M225.7 144.3h0M220.8 138h0M219.4 152.1h0M226 150h0M219.4 135.8h0M231.3 141h0M234.8 139.6h0M229 131.3h0M212.5 146.5h0M226 148.9h0M219.8 133.7h0M218.2 133.9h0M234.6 152.1h0M233.2 149.3h0M213.3 130.8h0M217.1 148.7h0M212.5 134.8h0M223.3 151.8h0M213.1 136.4h0M234.4 145.1h0M219.1 132.4h0M214 135.4h0M224.1 145.6h0M221.6 144.1h0M235.2 149h0M224.1 148.2h0M222.6 142.4h0M216.7 132.8h0M219.3 144.9h0M212.8 147.5h0M213.9 144.6h0M223.7 134.4h0M213.4 131.9h0M232.6 132.4h0M216.6 129.8h0M234.3 132.3h0M213.3 151h0M221.7 131.5h0M213.8 135.7h0M213.3 146.7h0M213.6 134.7h0M215.8 136.6h0M228.7 144.5h0M230.8 130.7h0M215.7 136.2h0M212.4 147.2h0M227.9 145.2h0M222.5 148.3h0M215.3 143.5h0M217.6 145.8h0M219.2 147.7h0M223 148.2h0M222.6 130.5h0M213.1 148.1h0M220.6 144.4h0M235.4 133.6h0M213.7 137.5h0M220.8 146.5h0M215.5 146h0M217.5 140.7h0M222.7 146.7h0M227.7 148.1h0M219.6 129.8h0M217.2 143.7h0M232.4 133.3h0M235.8 138.7h0M227.7 146.7h0M218.6 151.3h0M222.3 151.8h0M220.3 130.4h0M235.8 138.6h0M229.6 143.8h0M224.2 137.4h0M235.3 146.5h0M212.4 139.5h0M217.7 135.7h0M214.7 139.7h0M221.7 135.5h0M219.7 135.7h0M212.8 137.8h0M214.2 131.2h0M222.1 146.5h0M219.5 139.7h0M218.5 139.8h0M223.5 138.5h0M226.3 151.7h0M213.8 148.7h0M212.9 129.7h0M230 148.9h0M233.2 150.9h0M226 142.3h0M216.4 137.6h0M218.4 152h0M213 137.3h0M221.3 151h0M220.1 149.6h0M222.2 134.1h0M232 141h0M227.1 134h0M214.8 143.9h0M212.4 131.6h0M223.7 148.6h0M212.6 139.6h0M220 130.7h0M213.2 129.9h0M220.8 129.7h0M234.6 131.4h0M220.3 149.6h0M218.6 131.9h0M227.4 145.9h0M215.5 150.2h0M217.8 146.1h0M235.4 133.3h0M213.5 142.1h0M227.1 138.1h0M212.2 143h0M233.1 150.3h0M212.3 135.1h0M221.9 143.6h0M212.3 129.4h0M225.8 146.3h0M234.4 133.1h0M232.7 136.6h0M229.2 147.8h0M225.3 147.9h0M215.9 138.2h0M213.3 144.9h0M224.4 144.8h0M218.3 132.6h0M219.1 134h0M212.6 134.5h0M212.9 140.9h0M217.8 151.5h0M215.7 148h0M232.4 137.2h0M215.7 133.8h0M226.4 140.3h0M223.4 140.4h0M220.5 129.4h0M220 147.5h0M232.2 136.4h0M215.3 150.3h0M224.6 144.7h0M227.8 138.3h0M230.6 150h0M235.1 133h0M224 129.6h0M228.9 146.5h0M228.6 131h0M214.9 147.4h0M229.1 139.3h0M213.7 135.5h0M216.4 137.4h0M212.3 152.1h0M227.5 131.6h0M231.6 138.3h0M213.1 151.2h0M215.7 134.1h0M221.4 151.1h0M212.6 146.6h0M218.8 130h0M216.1 144h0M212.2 135.4h0M223.5 135h0M220.3 146.9h0M228.9 145.2h0M216.6 135.2h0M216.9 147.2h0M224.6 146.6h0M232.7 149.9h0M214.7 138.5h0M216 142.9h0M213.3 145.2h0M228.8 146.8h0M212.9 144.6h0M228.8 129.5h0M216.8 133.3h0M212.3 142.9h0M212.9 151.3h0M218.7 148.6h0M234.2 144.2h0M215.1 149.3h0M221 145.4h0M213.9 141.5h0M233.5 129.5h0M217.2 144.3h0M217 136.2h0M227.9 132.9h0M220.9 144.9h0M213.8 133.4h0M217 146.9h0M229.3 144.7h0M212.4 142h0M222.2 131.2h0M212.9 144.5h0M216.6 148.4h0" stroke="#000" stroke-width="0.9" stroke-linecap="round" fill="none" opacity="0.38"/>
<path d="M218.2 135.4 C218.5 133.1 227.6 129 232.2 129 C234.4 129 235.3 129.9 235.3 132.4 C235.3 136.5 235.3 140.7 234.1 145.2 C233.4 147.9 231.2 148.6 229.5 146.5 C225.9 142.2 218.2 138 218.2 135.4 Z" fill="#000" filter="url(#b07)" opacity="0.62"/>
<path d="M220.1 135.6 C220.3 133.7 227.9 130.2 231.8 130.2 C233.6 130.2 234.3 131 234.3 133.1 C234.3 136.5 234.3 140 233.3 143.8 C232.8 146 230.9 146.6 229.5 144.9 C226.5 141.2 220.1 137.8 220.1 135.6 Z" fill="#fff" stroke="#222" stroke-width=".5"/>
<path d="M223.3 135.9 C223.4 134.7 228.4 132.4 231 132.4 C232.2 132.4 232.7 132.9 232.7 134.2 C232.7 136.5 232.7 138.8 232 141.3 C231.6 142.8 230.4 143.2 229.5 142 C227.5 139.6 223.3 137.4 223.3 135.9 Z" fill="none" stroke="#555" stroke-width=".5"/>
<path d="M226.1 136.2 C226.2 135.5 228.9 134.3 230.3 134.3 C231 134.3 231.2 134.5 231.2 135.3 C231.2 136.5 231.2 137.8 230.9 139.1 C230.7 139.9 230 140.2 229.5 139.5 C228.4 138.2 226.1 137 226.1 136.2 Z" fill="none" stroke="#666" stroke-width=".5"/>
<path d="M228.5 136.4 C228.6 136.2 229.3 135.9 229.7 135.9 C229.9 135.9 230 136 230 136.2 C230 136.5 230 136.9 229.9 137.3 C229.8 137.5 229.6 137.5 229.5 137.4 C229.2 137 228.5 136.7 228.5 136.4 Z" fill="#888"/>
</g>
<g clip-path="url(#cb4)">
<path d="M217.2 121.4h0M233.8 118.7h0M213.8 128h0M236.1 125.8h0M221.5 125.6h0M228.3 123h0M223.4 127.6h0M230.3 123h0M213.9 124.9h0M230 126.6h0M231.2 122.4h0M223.6 122h0M222.9 119.9h0M222.5 127.8h0M235.6 120.7h0M232.4 126.3h0M219.5 125.3h0M238.1 126.3h0M223.3 121.6h0M216.7 122.2h0M216.7 126.9h0M221.1 127h0M216.8 124.9h0M236.9 119.6h0M219.7 126.4h0M221.6 124.9h0M229 126.9h0M219.5 125.4h0M219 127h0M214.9 124h0M227.8 126.9h0M217.2 127.4h0M238.9 127.9h0M235.7 126.3h0M226.7 116.3h0M235.1 127h0M227.1 125.3h0M220.2 123.9h0M226 118.2h0M238.6 126.9h0M224.2 125.4h0M223.5 123.4h0M214.8 128.3h0M230.6 125.5h0M238.4 124.1h0M229 124.2h0M234 118h0M237.3 118.9h0M217.2 123.2h0M238.9 121h0M233.2 124.6h0M221.1 126.8h0M221.8 123.2h0M237.4 127.6h0M236.6 122.2h0M233.3 127.2h0M234.1 126.3h0M235 122.5h0M214.9 121h0M224.6 124.3h0M217.2 125.1h0M237.3 127.2h0M217.4 125.1h0M236.3 124.8h0M226.8 127h0M215.8 125h0M235.9 124.1h0M228.9 124.6h0M227.1 117.1h0M221.1 128.2h0M224.2 123.4h0M236.1 127.8h0M225.1 127.9h0M221.1 123.4h0M220.8 119.4h0M239 121.4h0M229.1 123.7h0M227.7 122.8h0M238.8 124.1h0M238.8 125.4h0M215 125.4h0M223.3 125.6h0M233.8 126.3h0M226.8 127.1h0M228 123.3h0M220.3 127.3h0M230.1 117h0M231.3 126.7h0M227.5 122.1h0M231.8 123.7h0M225.3 122.3h0M232.5 126.5h0M230.3 123.3h0M234.8 117.3h0M229.8 127h0M225.7 122.5h0M220 127.5h0M228.8 126h0M214.1 127h0M218 122.8h0M223.4 126.1h0M233.5 125h0M235.7 126.1h0M236.5 126.1h0M226 127.4h0M235.5 125.4h0M222.4 122.4h0M219.2 124.5h0M232.2 124.4h0M214.6 126.2h0M238.9 116.7h0M222.7 125.9h0M236.3 125.5h0M217.1 118.6h0M234.1 124.2h0M228.8 126.3h0M233.6 124.9h0M225.5 125.6h0M224.4 127.2h0M224.3 125.6h0M217.8 119.9h0M227.3 127.8h0M237.6 123.1h0M224.6 123.3h0M224.8 117.2h0M213.7 126.2h0" stroke="#000" stroke-width="0.7" stroke-linecap="round" fill="none" opacity="0.11"/>
<path d="M246.9 137.9h0M236.8 129.9h0M241.5 147.1h0M256.5 130.3h0M243.6 129.6h0M245.3 131.3h0M244.9 149.2h0M248.4 137.7h0M246.1 137.5h0M247.3 137.8h0M247.6 132.6h0M243.2 132.4h0M238.1 129.6h0M245.2 139.5h0M240.7 147.9h0M245.1 148.4h0M243.8 133.8h0M237.9 145h0M243.3 130.7h0M241.1 129.3h0M237.3 132h0M236.9 144.1h0M244.2 132.9h0M237 136.6h0M250.5 140.3h0M236.9 143.5h0M240.2 135.5h0M240.2 136.2h0M253.7 132.5h0M249.2 133.5h0M247.3 130.8h0M240.6 134.8h0M247.9 130.1h0M248.5 133.5h0M243.2 142.2h0M241.1 145h0M242.4 135.6h0M240.2 144.2h0M243.6 141.9h0M245 129.4h0M242.3 135.2h0M239.4 131.1h0M243.9 130.4h0M246.9 134.8h0M239.6 135.5h0M252 143.9h0M238.6 129.5h0M242 141.8h0M241.6 129.9h0M239.5 144h0M238.9 133.6h0M241.7 137.2h0M248.5 145h0M249.5 146.4h0M240.4 131.9h0M244.6 133.2h0M243.9 129.6h0M240.1 132h0M245.5 131h0M242.1 132.1h0M239.5 145.8h0M242.5 137.1h0M243.8 148.4h0M239 148.3h0M248.8 139.6h0M246.3 135.9h0M238.1 133.5h0M238.5 143.1h0M244.5 137.8h0M247.3 138.4h0M239 136.8h0M247.3 137.4h0M257.3 144.1h0M239.5 129.4h0M239.8 130h0M246.7 132.4h0M247.7 129.3h0M242.2 135.1h0M244.8 130.7h0M244.2 144.1h0M238.2 130.1h0M240.3 131.1h0M246.9 138.7h0M240.6 132.9h0" stroke="#000" stroke-width="0.7" stroke-linecap="round" fill="none" opacity="0.11"/>
<path d="M254.1 110.4h0M243.1 124.5h0M245 120.6h0M238.7 126.6h0M250.9 113.8h0M247.2 117.3h0M244.1 120.1h0M243 123.5h0M244.2 115.3h0M244.3 120.6h0M255.4 112.1h0M242.6 125.8h0M252.1 118.9h0M248.6 113h0M255.2 109.2h0M238.3 127.1h0M239.9 121.6h0M251.6 112.7h0M240.4 125.7h0M241.9 123.3h0M249.9 110.5h0M249.1 119.3h0M245 118.6h0M253.3 113.5h0M244.7 116.6h0M250.7 115.6h0M242 125.9h0M250.4 118.8h0M243.2 124.8h0M253.4 114.9h0M238.2 125.5h0M235.7 126.9h0M246.5 123.3h0M248.1 114.4h0M249.3 114.3h0M239.8 127.5h0M248.2 118.4h0M254.5 116.4h0M243.6 121.3h0M239.2 128.8h0M252.7 122.3h0M240.6 123.8h0M236.7 128.8h0M251.5 113.3h0M245.4 120.3h0M238.5 126.2h0M250.2 118.5h0M250.5 118.7h0M253 114.5h0M246.3 122.1h0M243.6 119.9h0M240 126.8h0M250.2 114.6h0M253.3 116.8h0M247.6 119.8h0M252.3 107.8h0M239.9 125.8h0M247.1 115.4h0M248.7 116.9h0M241 127.2h0M259.8 114.5h0M252.9 115.3h0M255.7 112.9h0M244.9 122.6h0M244.1 121.5h0M250.2 110.2h0M236.5 130.7h0M255.1 112.6h0M240.7 125.2h0M255.5 112.5h0M253.8 114.5h0M252 115.1h0M254 116.1h0M253.8 113h0M254.4 116.1h0M252.8 112.9h0M248.7 116.7h0M248.6 114.7h0M245.7 118.3h0M239.6 120.2h0M248.5 114.2h0M238.6 126.6h0M257 113.2h0M250.6 113.3h0M248.2 117.2h0M253 113.2h0M241.7 124.1h0M238.7 122.6h0M254.6 110.4h0M256.4 117.4h0M249.2 120h0M238.3 126h0M251.8 115.5h0M257.4 113h0M236.4 128.8h0M254.5 114.3h0M253.6 113.7h0M253.8 110.3h0M256.1 111.1h0M236.7 126.5h0M250.3 116h0M248.5 118.9h0M240.8 123.8h0M246.6 121h0M244.3 122.5h0M254.4 112.6h0M248 117h0M243.6 120.4h0M249.9 117.1h0M245.8 120.8h0M250.6 118.9h0M249.4 111.5h0M255.9 112.1h0M241.5 123.7h0M237.6 127.1h0M247.8 114.9h0M258.5 116.2h0M245.8 122.2h0M253.4 113.5h0M255.8 112.8h0M245.2 116.6h0M241.2 124.4h0M241.8 124.6h0M242.1 123.8h0M246.5 116h0M238.4 126.6h0M257.9 114.9h0M240.8 127.3h0M247.1 120.4h0M256.1 112.9h0M241.6 130h0M251 117.2h0M249.7 115.1h0M247.7 113.7h0M248.9 117.9h0M239.9 126h0M250.1 110.3h0M235.2 129.4h0M255.6 111h0M252.9 112.6h0M250.3 108.9h0M253 109.6h0M241.6 121.2h0M246 123.4h0M243.2 122.3h0M239.7 123.5h0M250.5 117.8h0M248.3 112.6h0M236.3 128.3h0M251 117h0M251.8 111.5h0M254 109.2h0M252.6 108.1h0M251.8 111.9h0M246.1 122h0M252.6 115h0M250 119.1h0M237.2 127h0M248.4 124.5h0M250.3 110.6h0M234.8 128.6h0M238.3 122h0M251.5 116.3h0M250.6 116.5h0M257.2 116.6h0M236.7 127.7h0M252.6 112.5h0M234.5 123.7h0M252.1 106.2h0M247.9 118.3h0M246.1 117.8h0M243.4 123.7h0M236.4 126.9h0M255.4 112.2h0M253.2 113.8h0M238.8 122.8h0M250 118.1h0M241.6 126.7h0M241.3 124.7h0M240.1 127.2h0M255.5 113.3h0M249.5 116h0M236.9 129.9h0M240 129.5h0M238.5 124.6h0M248.9 118.4h0M243.7 121.2h0M237.7 127.8h0M247 118.1h0M248.7 116.4h0M236.9 128.8h0M249.5 115.1h0M254 113.6h0M236.8 124.2h0M239.5 128h0M238.7 125.5h0M241.5 122.7h0M255.5 114.8h0M245.7 122.4h0M240.9 126.3h0M253.7 114.9h0M250.7 116.4h0M250.4 112.9h0M256.6 112.2h0M254.5 113.5h0M252.8 115.7h0M240.9 124.4h0M254.7 111.3h0M250.8 113.4h0M246.6 123.2h0M253.5 110.7h0M241.8 125.3h0M244.5 120.3h0M245 117.9h0M255.7 110.2h0M239.9 122.4h0M255.4 110.2h0M248 118.1h0M242 121.7h0M251 114.3h0M255.5 111.7h0M238.6 126.9h0M254.1 108.4h0M253.7 113.3h0M237.5 126.5h0M253.3 110.2h0M245 120.4h0M242.2 122.7h0M247.2 121.1h0M245.9 120.6h0M249.5 115.4h0M255 118.3h0M250.4 119.6h0M249.8 109.6h0M243.9 118.1h0M238.5 124.7h0M242.9 125.7h0M247.7 115.1h0M243.9 121.9h0M252.9 112.7h0M244.7 124.2h0M248.9 116.2h0M239.4 127.2h0M253 113h0M250.7 119.7h0M243.7 123.5h0M252.5 116.5h0M247 118.4h0M254.5 111.8h0M253.9 116.2h0M259 114.6h0M255.2 111.3h0M239.6 127.2h0M242 121.5h0M241.9 127.5h0M243 120.1h0M250.8 117.2h0M241.5 125.5h0M244.2 119.9h0M237.8 125.4h0M236.4 128.9h0M255.1 115h0M236.1 126.6h0M236.1 128.6h0M245.8 112.3h0M255.3 110.9h0M250.4 112.3h0M240.7 123.8h0M255.3 111.5h0M235.3 128.8h0M255.8 113.6h0M248.2 121.2h0M241.8 126.8h0M240.8 124.8h0M254.7 110.4h0M239.2 128.1h0M244.7 123.9h0M253.2 111.7h0M248.6 117.7h0M254.2 111.7h0M242.1 125.6h0M255.5 109.5h0M245 114.4h0M247.3 120.6h0M236.6 130.7h0" stroke="#000" stroke-width="0.75" stroke-linecap="round" fill="none" opacity="0.2"/>
<path d="M241.8 124.2L254.3 112.5" stroke="#000" stroke-width="4" stroke-linecap="round" opacity="0.22" filter="url(#b2)"/>
<ellipse cx="251.5" cy="115.5" rx="6.5" ry="2.7" transform="rotate(-45 251.5 115.5)" fill="#000" opacity="0.19" filter="url(#b15)"/>
<path d="M254.3 117.1h0M254 113.2h0M249.4 113.8h0M245.9 117.4h0M252.4 114.4h0M248.3 115.2h0M247 118.5h0M253 110.7h0M251.4 115.9h0M241.4 122.4h0M254.3 115.1h0M253.6 117.4h0M251.9 119h0M248 114.8h0M254.5 115.7h0M253.9 114.2h0M254.3 114.3h0M255.5 112.8h0M250.5 118.4h0M256.8 111.4h0M259.7 107.9h0M251.8 115h0M252.1 113.3h0M254.5 115.4h0M255.1 111.6h0M247.3 118.8h0M255.9 113.4h0M250.6 117.7h0M251.5 115.2h0M252.8 114.2h0M250.9 111h0M249.5 114.5h0M252.4 113.6h0M255.3 112.4h0M252.8 115.2h0M253.7 110h0M250.2 115.5h0M246 121.5h0M252.3 117h0M250.3 114.6h0M250.1 114.5h0M245.1 118.4h0M247.3 119.4h0M250.4 117.3h0M252.7 116.8h0M250.3 115.9h0M256.2 113.2h0M253 114.1h0M252.5 115.1h0M249 114.6h0M249.2 122.3h0M252.2 114.2h0M252.1 118h0M253.3 115.4h0M256.5 109.6h0M250.6 114.7h0M258.4 110.5h0M248.9 116.4h0M248.6 116.2h0M247.4 117.4h0M250.7 114h0M244.3 120.7h0M254 116.7h0M252.8 114.3h0M255.1 114.8h0M253 115.1h0M253.5 113.1h0M253 113h0M250.2 113.9h0M252.7 115h0M250 117h0M250.9 116.1h0M255.6 111h0M248.7 119.6h0M254 111.5h0M252.1 111.5h0M246 119.2h0M244.3 117.9h0M250 117.5h0M254.6 116.5h0M249.6 116.1h0M254.8 114.7h0M253.5 118.7h0M247.1 119.2h0M253.6 114.7h0M254.6 114.2h0M252.8 118.4h0M251.2 116.8h0M246.4 118.7h0M253 112.4h0" stroke="#000" stroke-width="0.75" stroke-linecap="round" fill="none" opacity="0.2"/>
</g>
<rect x="211.2" y="103.3" width="50.8" height="49.2" fill="none" stroke="#888" stroke-width=".9"/>
<path d="M235.8 103.3V152.5M211.2 128.3H262" stroke="#1a1a1a" stroke-width=".8" fill="none"/>
<path d="M211.7 127.3V152.1H236.8" stroke="#000" stroke-width="1.9" fill="none"/>
<path d="M211.2 103.3V128.3" stroke="#333" stroke-width="1" fill="none"/>
<path d="M235.8 152.3H262" stroke="#666" stroke-width="1" fill="none"/>
<text x="212.5" y="109" font-size="6.4" text-anchor="start" font-weight="bold">0.4</text>
<text x="237.1" y="109" font-size="6.4" text-anchor="start" font-weight="bold">2.1</text>
<text x="211.8" y="151.8" font-size="6.4" text-anchor="start" font-weight="bold" style="stroke:#fff;stroke-width:1.3px;fill:#fff" opacity=".55">96.8</text>
<text x="211.8" y="151.8" font-size="6.4" text-anchor="start" font-weight="bold">96.8</text>
<text x="261.5" y="151.8" font-size="6.4" text-anchor="end" font-weight="bold">0.7</text>
</g>
<g>
<clipPath id="cc1"><rect x="280.6" y="28.4" width="51.2" height="49.2"/></clipPath>
<clipPath id="qc1"><rect x="280.6" y="54.2" width="25.9" height="23.4"/></clipPath>
<g clip-path="url(#qc1)">
<rect x="280.6" y="54.2" width="25.9" height="23.4" fill="#000" opacity="0.6"/>
<rect x="280.6" y="54.2" width="25.9" height="23.4" fill="url(#gq)"/>
<rect x="280.6" y="54.2" width="25.9" height="23.4" fill="url(#gb)"/>
<rect x="280.6" y="54.2" width="25.9" height="23.4" fill="url(#gd)"/>
<path d="M292.1 62.1h0M285.3 63.3h0M300.4 67.4h0M301 74.6h0M300.9 65.9h0M287 74.9h0M302.7 58.2h0M283.5 58.7h0M293.6 57.8h0M288.5 72.2h0M303.7 72.5h0M287.2 64.1h0M293.2 66h0M301.5 73.9h0M301 56.4h0M291.4 56.9h0M303.1 64.5h0M300.9 70.9h0M294.2 70.6h0M301.3 69.9h0M302.5 71h0M304.8 65.3h0M295.1 66h0M290.6 57.8h0M292.2 71.4h0M297.6 64.1h0M284.7 58h0M285.7 70.5h0M293.1 56.4h0M296.3 64.7h0M302 62.2h0M285.4 71.7h0M298.4 57.1h0M298.9 74h0M288.3 70.6h0M300.2 58.2h0M282.9 71.4h0M300.2 57.5h0M288.8 56.5h0M297 69.5h0M286.5 64.1h0M302.5 64.6h0M285.6 56.7h0M294.6 70.7h0M289.7 69.3h0M292.2 75.1h0M294.7 55.6h0M298.9 64.3h0M298.1 65.1h0M284.8 66.1h0M299.9 67.2h0M294 61h0M304.1 56.9h0M283.6 64.4h0M300.7 73.1h0M290.8 61.2h0M293.5 69.2h0M287.1 75.6h0M283.1 67.9h0M282.8 62.3h0M289.9 71.5h0M303.7 59.2h0M295.6 76.5h0M302.6 71.5h0M287.6 61h0M286.3 67.3h0M294 55.7h0M301.2 56.2h0M288 63h0M292.8 63.3h0M290.9 69.9h0M289.3 59.5h0M300.4 67.5h0M297.4 73.4h0M297.3 57h0M292.9 63.4h0M300.6 65.8h0M302.9 72.1h0M284.9 59.4h0M296.9 75.1h0M303.8 66h0M300.2 56.9h0M285.2 60h0M303.6 73.4h0M295.5 60.4h0M302.5 64.2h0M284.7 58.6h0M286.6 70.8h0M289 67.6h0M296.1 75.5h0M297.2 56.7h0M288.7 68.4h0M302.8 59h0M302 68.4h0M298.8 72h0M283.4 66.5h0M293.1 72.4h0M300.5 55.2h0M303.3 74.1h0M303.5 56.7h0M292.3 64.8h0M282.9 68.1h0M286.6 57.5h0M290.9 76.4h0M298.2 66.7h0M290.6 76h0M301.5 74h0M288.9 62.2h0M296.2 68.5h0M288.4 59.9h0M292.4 70.6h0M301.2 62.8h0M296.5 68.3h0M301.8 66.2h0M293.8 67.1h0M296.4 73.1h0M285.3 64.4h0M292.5 65.1h0M303.7 57.4h0M293.2 71.7h0M299.5 61.2h0M291.1 71.2h0M299.1 56.4h0M284.8 67.1h0M284.8 72.7h0M284.4 73.2h0M291.7 65.9h0M300.1 59.5h0M282.9 68.5h0M305 73.2h0M286.6 56.3h0M302.3 59.1h0M286.5 62.6h0M302.9 71.1h0M300 64h0M287.1 61.8h0M292.7 69.1h0M291.2 63.6h0M304.7 74.6h0M291.6 67.2h0M288.5 66.8h0M290.5 71.7h0M295.8 65.1h0M298.8 65.2h0M296.8 72h0M303.7 71.1h0M296.2 68.8h0M301.3 58.9h0M294.3 67.9h0M286.3 75.6h0M290.1 59.2h0M296.5 74.4h0M296 69.3h0M283.6 62.1h0M283.5 69.3h0M294.9 58.8h0M303.2 63.1h0M299.5 61.4h0M292.4 60.4h0M297.7 70.2h0M285.2 65.4h0M294 60.1h0M296.7 58.4h0M301.3 64.6h0M300.1 74.2h0M301.5 70.9h0M293.2 70.9h0M298.7 76.1h0M303 71.3h0M298.7 66.5h0" stroke="#fff" stroke-width="0.9" stroke-linecap="round" fill="none" opacity="0.19"/>
<path d="M297.5 62.2h0M286.4 56.1h0M303.9 77.2h0M282.4 71.4h0M299.8 72.2h0M281.6 55.5h0M283.3 57.3h0M288.6 68.5h0M286.4 56.3h0M286.9 68.4h0M290.1 71.5h0M285.4 63.8h0M288.2 69.1h0M284.7 62.1h0M281.6 62.2h0M290.8 56.2h0M284.3 68.1h0M293.7 56.6h0M295.6 75.3h0M284.7 59h0M287.9 59.6h0M301.4 70h0M284.4 63.1h0M303.1 67.2h0M285.2 59.3h0M284.2 76.5h0M295.3 56.6h0M291.6 56h0M283.2 73.3h0M302.3 75.9h0M286.2 61.5h0M282.1 63.2h0M295.2 75.2h0M284.7 61.5h0M304.7 69.1h0M289.2 57.3h0M297.1 73.9h0M285.5 65.1h0M281.7 64.9h0M300.4 64.9h0M282.2 62.5h0M300 65.8h0M282.5 76h0M302.7 72.1h0M299.9 61.6h0M294.1 61h0M282.4 75.9h0M285.1 71.5h0M297.6 76.6h0M301.4 71.2h0M281.8 75.1h0M303.3 61h0M294.6 68.6h0M294.7 56.9h0M286.9 71h0M287.7 71.5h0M286.4 61.9h0M298.7 61h0M303 55.4h0M298.9 62.8h0M303.1 67.8h0M297.1 57.3h0M299.2 76.9h0M283.8 70.8h0M286.1 59.5h0M304.4 68.4h0M283 67h0M299.2 59h0M281.9 67.1h0M285.9 64.4h0M282 57.4h0M294.1 65.2h0M291.4 65.3h0M297.7 75.5h0M301.6 74.5h0M288.1 76.9h0M304.3 69.4h0M297.2 65.4h0M298.5 68.3h0M281.8 55.4h0M301.4 60.5h0M293.3 75.6h0M283.7 56.8h0M292.5 55.7h0M294.6 59.1h0M295.7 73h0M292.2 67.9h0M289 75.7h0M293.8 75.3h0M285 67.2h0M286.7 66.1h0M281.7 58.6h0M282.1 73.3h0M302.4 71h0M296.3 55.8h0M295.2 70.3h0M298.3 57.3h0M301.8 62.6h0M301.7 62.6h0M281.6 68.1h0M284.5 57h0M293.1 58.8h0M301.2 63.1h0M282.1 68.3h0M285.5 70.8h0M297.8 61.1h0M300.7 55.2h0M283.1 67.6h0M293.4 57.5h0M285.5 65.5h0M282.6 68.2h0M287.9 74h0M283.8 72.7h0M286.3 59.4h0M292.2 60h0M283 75h0M283.6 71.4h0M281.6 74.3h0M297.9 67.3h0M292.4 59.7h0M303.1 61.9h0M297.9 76.7h0M290.4 75.4h0M292.2 71.7h0M290.2 71.6h0M287 61.3h0M301.6 64.5h0M294.2 60.8h0M291.8 67.4h0M301.4 55.6h0M295.3 73h0M297.3 57.6h0M288.5 70.5h0M293.1 67.4h0M287.8 74.7h0M282.3 61.2h0M288.8 63.7h0M290.2 55.7h0M281.6 61.7h0M295.7 58.7h0M282.6 65.9h0M287.9 73.8h0M304.2 59h0M287.4 68.1h0M295.6 58.4h0M285.8 57.2h0M288.6 73.3h0M293.9 73.5h0M284.4 74.1h0M296.2 69h0M294.9 56.1h0M284 66.8h0M284 73.2h0M294.6 73.9h0M296.4 65.3h0M292.3 71.4h0M284.3 73.4h0M287.4 67.1h0M299.9 69.5h0M292.2 66.3h0M303.6 66.6h0M289.6 69.7h0M295.6 72.6h0M282.2 71h0M298.6 59.2h0M282.5 61.2h0M288.9 70.1h0M303 71.1h0M283.7 72.9h0M288.9 75.8h0M288.1 57.8h0M285.3 61.3h0M302.1 62.6h0M297.8 63.3h0M281.6 69.9h0M288.6 74.5h0M304.5 59.5h0M283.1 65.8h0M281.6 68.3h0M290 57.2h0M282.7 66.8h0M284.2 58.7h0M304.5 56.6h0M297.5 56.6h0M302.9 64.3h0M287.7 65.9h0M284.2 58.8h0M288.3 71.5h0M284.3 65.9h0M284.4 62.8h0M301.4 69h0M290.4 61.6h0M289 62.6h0M287.9 56.6h0M292.9 62.9h0M288.4 68.4h0M296.1 75.5h0M282.9 67.2h0M287.4 59.1h0M296.7 69.9h0" stroke="#000" stroke-width="0.9" stroke-linecap="round" fill="none" opacity="0.48"/>
<path d="M288.5 60.9 C288.8 59 297.1 55.5 301.3 55.5 C303.3 55.5 304.1 56.3 304.1 58.4 C304.1 61.9 304.1 65.4 303 69.2 C302.4 71.5 300.3 72.1 298.8 70.4 C295.5 66.7 288.5 63.2 288.5 60.9 Z" fill="#000" filter="url(#b07)" opacity="0.77"/>
<path d="M290.2 61.1 C290.5 59.5 297.4 56.5 300.9 56.5 C302.6 56.5 303.2 57.2 303.2 58.9 C303.2 61.9 303.2 64.8 302.3 68 C301.8 69.9 300.1 70.4 298.8 68.9 C296.1 65.9 290.2 62.9 290.2 61.1 Z" fill="#fff" stroke="#222" stroke-width=".5"/>
<path d="M293.1 61.3 C293.3 60.3 297.9 58.4 300.2 58.4 C301.3 58.4 301.7 58.8 301.7 59.9 C301.7 61.9 301.7 63.8 301.1 65.9 C300.8 67.2 299.6 67.5 298.8 66.5 C297 64.5 293.1 62.6 293.1 61.3 Z" fill="none" stroke="#555" stroke-width=".5"/>
<path d="M295.7 61.6 C295.8 61 298.3 60 299.5 60 C300.1 60 300.4 60.2 300.4 60.8 C300.4 61.9 300.4 62.9 300.1 64.1 C299.9 64.8 299.3 64.9 298.8 64.4 C297.8 63.3 295.7 62.3 295.7 61.6 Z" fill="none" stroke="#666" stroke-width=".5"/>
<path d="M297.9 61.8 C298 61.6 298.6 61.3 299 61.3 C299.2 61.3 299.2 61.4 299.2 61.6 C299.2 61.9 299.2 62.2 299.1 62.5 C299.1 62.7 298.9 62.7 298.8 62.6 C298.5 62.3 297.9 62 297.9 61.8 Z" fill="#888"/>
</g>
<g clip-path="url(#cc1)">
<path d="M301.7 47.9h0M296.8 47h0M302.4 47.2h0M284.3 47.9h0M308.4 47.5h0M306.7 49.5h0M290.5 47.7h0M287.4 52.5h0M294.9 50.6h0M307.4 51.6h0M288.6 49.2h0M306.6 50.4h0M301.8 54.1h0M294.7 48.3h0M283.8 52.4h0M307.6 40.9h0M303 50.9h0M289.6 47.4h0M294.6 49.4h0M295.1 48.2h0M306.9 53h0M294.4 50.8h0M301.6 47.6h0M293.8 46.6h0M307.4 50.1h0M296.1 44.6h0M286.2 52.7h0M298.1 49.2h0M307.4 50.8h0M307 50h0" stroke="#000" stroke-width="0.7" stroke-linecap="round" fill="none" opacity="0.11"/>
<path d="M311.6 55.5h0M310.8 69.1h0M311.8 72.4h0M317.4 58.3h0M308.5 61.1h0M316.2 56.6h0M309.2 55.7h0M307.6 55.5h0M308 56.5h0M315.9 62.7h0M316.8 57.9h0M318.2 56.9h0M309.3 68.9h0M314 55.9h0M308.1 57.7h0M309.5 61.1h0M317.6 69.8h0M313.3 62.3h0M306.6 55.2h0M313.1 62.4h0" stroke="#000" stroke-width="0.7" stroke-linecap="round" fill="none" opacity="0.11"/>
</g>
<rect x="280.6" y="28.4" width="51.2" height="49.2" fill="none" stroke="#888" stroke-width=".9"/>
<path d="M305.3 28.4V77.6M280.6 54.2H331.8" stroke="#1a1a1a" stroke-width=".8" fill="none"/>
<path d="M281.1 53.2V77.2H306.3" stroke="#000" stroke-width="2.3" fill="none"/>
<path d="M280.6 28.4V54.2" stroke="#333" stroke-width="1" fill="none"/>
<path d="M305.3 77.4H331.8" stroke="#666" stroke-width="1" fill="none"/>
<text x="281.9" y="34.1" font-size="6.4" text-anchor="start" font-weight="bold">0.1</text>
<text x="306.6" y="34.1" font-size="6.4" text-anchor="start" font-weight="bold">0.0</text>
<text x="281.2" y="76.9" font-size="6.4" text-anchor="start" font-weight="bold" style="stroke:#fff;stroke-width:1.3px;fill:#fff" opacity=".55">99.7</text>
<text x="281.2" y="76.9" font-size="6.4" text-anchor="start" font-weight="bold">99.7</text>
<text x="331.3" y="76.9" font-size="6.4" text-anchor="end" font-weight="bold">0.2</text>
</g>
<g>
<clipPath id="cc2"><rect x="337.9" y="28.4" width="50.4" height="49.2"/></clipPath>
<clipPath id="qc2"><rect x="337.9" y="54.2" width="25.8" height="23.4"/></clipPath>
<g clip-path="url(#qc2)">
<rect x="337.9" y="54.2" width="25.8" height="23.4" fill="#000" opacity="0.57"/>
<rect x="337.9" y="54.2" width="25.8" height="23.4" fill="url(#gq)"/>
<rect x="337.9" y="54.2" width="25.8" height="23.4" fill="url(#gb)"/>
<rect x="337.9" y="54.2" width="25.8" height="23.4" fill="url(#gd)"/>
<path d="M361.5 72.4h0M350.9 66.9h0M344.9 60.4h0M361.7 64.8h0M340.5 70.2h0M340.8 71.2h0M354.1 72.6h0M348.7 62.4h0M355.6 61.6h0M350.5 69.7h0M345.4 61.2h0M362.1 62.4h0M344.7 64h0M346.7 67.6h0M341.7 73.9h0M341.9 57.5h0M359.8 68.6h0M352.9 58.3h0M355.3 69.9h0M360.9 70h0M357.5 74h0M360.1 70.6h0M350.9 68.8h0M359.5 72.9h0M345.5 73.5h0M358.6 58.7h0M341.6 72.4h0M349.3 71.9h0M342 57.3h0M346.3 68h0M354.1 75.5h0M347 67.2h0M344.5 62h0M339.9 60.1h0M359.4 76.3h0M356.9 69.7h0M340.7 73.6h0M343.4 70.9h0M350.5 58.4h0M352 58.6h0M354.9 55.9h0M361.3 67.8h0M354.5 61.5h0M340 64.7h0M347.8 71.3h0M358 65.1h0M343.8 60.2h0M347.9 59.2h0M355 73.3h0M352.6 70.6h0M353.5 61.7h0M341.7 76h0M342 65.3h0M355.3 68.8h0M352.7 74.3h0M347.9 57.1h0M353.5 59h0M347.7 69.2h0M342.9 71.4h0M341.4 75.8h0M354.7 60.8h0M346.5 59.7h0M348.8 75.8h0M357.7 64.2h0M350.1 57.5h0M343.2 68.5h0M343.2 58.2h0M351.1 66h0M359.8 59.7h0M348.3 62.8h0M357.7 73.9h0M354.6 59.6h0M348.5 64.9h0M346.6 68.8h0M342.3 70h0M344.4 74.8h0M340 57.4h0M354.6 61.9h0M345.9 66.9h0M354.7 58.2h0M353.9 65.1h0M355 56.4h0M347.2 61.8h0M360 68.3h0M348.7 63.4h0M348.4 71h0M349.4 71h0M360.2 73.9h0M352 75.3h0M356.1 62.3h0M354.5 71.4h0M347.3 56.5h0M354.4 66.2h0M340.6 72.9h0M345.7 68.7h0M353.7 67.5h0M354.9 57h0M348.1 67.1h0M348.2 72.7h0M347.6 58.6h0M341.6 62.7h0M344.2 67.5h0M347.9 56.6h0M347.8 63.1h0M360.9 63.9h0M360.3 69.6h0M343.7 67.2h0M344.8 75.6h0M347.6 69.7h0M344.7 67.8h0M347.9 59.1h0M351.6 64.5h0M346.3 63.2h0M342 71.3h0M353.1 75.1h0M348.1 68h0M341 63.9h0M355.8 60.7h0M357.3 76.3h0M341.4 60h0M356.2 76.3h0M360.4 59.8h0M343.7 56.9h0M343.6 69.1h0M353.1 64.1h0M344 68.4h0M342.9 61.1h0M352.1 72.7h0M357.1 56.6h0M353.5 66.8h0M353.9 72.8h0M349.1 68.8h0M362.3 64h0M348.8 75.7h0M342.2 66.2h0M342.1 62.9h0M355.3 67.3h0M356.1 63.1h0M341.8 63h0M344.3 64.2h0M345.1 55.9h0M340.7 75.2h0M356.7 65.9h0M350.6 60.3h0M360.2 66.4h0M346.5 57h0M345 68.9h0M348.5 60.5h0M357.2 66.1h0M353.9 72.1h0M350.8 61.8h0M344 62.7h0M344.8 71.2h0M346.7 61.5h0M359 72.4h0M347.8 56.9h0M353.2 61.3h0M357.4 63.9h0M361.1 66.5h0M352.5 66.9h0M353 63.4h0M342.3 71h0M355.4 60h0M341.7 70.4h0M358.4 72.4h0M362.2 75h0M352.6 73h0M346.3 55.7h0M357.4 72.6h0M342.1 59.6h0" stroke="#fff" stroke-width="0.9" stroke-linecap="round" fill="none" opacity="0.2"/>
<path d="M346.2 55.2h0M340 64.2h0M350.4 57.3h0M341.9 64.1h0M349.2 59.5h0M339 62.7h0M338.9 76.9h0M356 60.7h0M340.1 67.8h0M339.6 69.9h0M339.5 60.2h0M348.6 72.6h0M340.8 65.7h0M341.9 76.1h0M346.8 60.7h0M344.4 65h0M353.9 55.3h0M352.3 69.5h0M359.7 64.4h0M345 66.4h0M343.9 58.1h0M339.8 75.8h0M345.4 64.1h0M343.2 65.6h0M341.5 60.1h0M348.3 55.2h0M353 74.9h0M339.1 72h0M350.2 61.5h0M346.5 69.2h0M350.8 69.5h0M338.9 68h0M347.6 59.4h0M359.6 62.2h0M350.7 60.1h0M354 60h0M348.1 61.1h0M346.4 73.1h0M352.8 63.9h0M352.9 77h0M338.9 66.2h0M340.3 57.7h0M342.5 76.8h0M353.6 62.3h0M359.5 57.4h0M344.7 72h0M348.1 61.7h0M338.9 67.3h0M340.5 72.8h0M340.6 63.3h0M358.7 57.7h0M358.1 72.5h0M338.9 61.1h0M339.6 60h0M355.9 62h0M360.5 65.9h0M344 60.7h0M355.9 57.6h0M349.7 65.5h0M353.8 65.3h0M344.1 56.9h0M342.2 61.7h0M353.6 67.9h0M343.8 67.8h0M358.5 66.2h0M343.9 65.5h0M348.7 68.3h0M356.1 74.3h0M348.6 76.1h0M339.3 57.6h0M338.9 69.7h0M344.5 70.2h0M345.7 77h0M359.5 62.3h0M341.4 74.6h0M355 64.9h0M344.3 59.2h0M341 65.7h0M341.2 74h0M347.8 66.9h0M339.3 61.9h0M351 74.4h0M347.9 69.5h0M341.1 69.7h0M343.7 64h0M350 68h0M346.8 61.4h0M349.7 59.8h0M339.1 63.5h0M356.2 65.4h0M341.3 73h0M361.7 62.6h0M350 59.1h0M339.6 56.4h0M347.1 68.9h0M342.3 65.2h0M344.2 57.8h0M346.7 75.5h0M345.3 64.2h0M344.5 77.5h0M350.6 68.9h0M339.2 58.5h0M340.3 59.2h0M343.6 64.9h0M354 71.8h0M358.4 76.1h0M339.2 74.4h0M344.2 65.4h0M344.9 61.7h0M340.6 68.6h0M348.8 62.8h0M354.9 71.2h0M342.8 67.8h0M349.6 62.9h0M340.5 62.1h0M347.4 71.5h0M353.5 56.7h0M359 66.4h0M356.8 59.9h0M348.8 73.4h0M356 59.2h0M343.5 67.5h0M339.2 66.6h0M347.4 76.9h0M358 67.1h0M342.2 67.7h0M354.9 77.4h0M340.8 61.7h0M340.7 60.3h0M339.1 63.6h0M339.3 59.9h0M349.3 71.3h0M346.6 72.7h0M344.6 70.8h0M341.9 77.3h0M355.8 76.9h0M341 73.9h0M352.4 55.3h0M339.5 69.1h0M340.1 69.1h0M351 66.1h0M349.6 74.3h0M339.5 57.7h0M339.5 59.4h0M359.7 76.4h0M352.2 61.6h0M350.3 59.6h0M343.8 55.8h0M353.9 65h0M340.6 72h0M347.5 60.3h0M351.2 76.3h0M358.8 72.9h0M353.4 77.1h0M340.8 75.9h0M340.8 66.1h0M343.1 64.1h0M354 59.5h0M340.8 74.1h0M344.9 57.1h0M340.2 55.7h0M339 66.5h0M339.8 71.7h0M348.4 57.9h0M339.6 70.2h0M341 59.1h0M339.2 60.9h0M345.6 65.2h0M356.9 66h0M344.5 65.3h0M360.4 60.7h0M356.2 75.3h0M352.2 64.4h0M355.8 56.5h0M341.9 58.7h0M348.5 73.7h0M358 70.7h0M340.6 62.7h0M359.3 76.7h0M352 63.3h0M357.5 67.8h0M339 56.6h0M361.4 61.4h0M339.8 71.4h0M339.8 75.9h0M357.3 72.3h0M349.2 57.6h0M340.7 60.6h0M352.4 57.3h0M339.5 77.2h0M348.6 69.6h0M352.9 64h0M339.4 68.8h0M346.1 59.6h0M343.6 63.7h0M348.4 57.3h0M358.3 59.2h0M338.9 60.9h0M344.6 63.7h0M346 66.2h0" stroke="#000" stroke-width="0.9" stroke-linecap="round" fill="none" opacity="0.47"/>
<path d="M345.7 60.9 C346 59 354.6 55.5 358.9 55.5 C361 55.5 361.8 56.3 361.8 58.4 C361.8 61.9 361.8 65.4 360.7 69.2 C360 71.5 358 72.1 356.3 70.4 C353 66.7 345.7 63.2 345.7 60.9 Z" fill="#000" filter="url(#b07)" opacity="0.76"/>
<path d="M347.5 61.1 C347.8 59.5 354.9 56.5 358.5 56.5 C360.2 56.5 360.9 57.2 360.9 58.9 C360.9 61.9 360.9 64.8 360 68 C359.4 69.9 357.7 70.4 356.3 68.9 C353.5 65.9 347.5 62.9 347.5 61.1 Z" fill="#fff" stroke="#222" stroke-width=".5"/>
<path d="M350.5 61.3 C350.7 60.3 355.4 58.4 357.8 58.4 C358.9 58.4 359.4 58.8 359.4 59.9 C359.4 61.9 359.4 63.8 358.7 65.9 C358.4 67.2 357.2 67.5 356.3 66.5 C354.5 64.5 350.5 62.6 350.5 61.3 Z" fill="none" stroke="#555" stroke-width=".5"/>
<path d="M353.2 61.6 C353.3 61 355.8 60 357.1 60 C357.7 60 358 60.2 358 60.8 C358 61.9 358 62.9 357.6 64.1 C357.5 64.8 356.8 64.9 356.3 64.4 C355.3 63.3 353.2 62.3 353.2 61.6 Z" fill="none" stroke="#666" stroke-width=".5"/>
<path d="M355.5 61.8 C355.5 61.6 356.2 61.3 356.6 61.3 C356.7 61.3 356.8 61.4 356.8 61.6 C356.8 61.9 356.8 62.2 356.7 62.5 C356.7 62.7 356.5 62.7 356.3 62.6 C356.1 62.3 355.5 62 355.5 61.8 Z" fill="#888"/>
</g>
<g clip-path="url(#cc2)">
<path d="M353.8 48.6h0M342.8 54h0M352.4 45h0M360 53.6h0M358.1 52.7h0M346 50h0M363.3 50h0M363.8 52.6h0M344.6 49h0M355 53.1h0M347 53.9h0M349.1 52.6h0M347.4 47.7h0M357.1 49.1h0M353 52h0M344.5 45.1h0M346.3 51.4h0M359.8 50.6h0M346.4 52.2h0M355.3 49.9h0M361.3 51.7h0M342.7 51.8h0M343.9 51.6h0M364.3 53.4h0M346.7 46.6h0M365.6 48.7h0M353.1 53.7h0M364.6 53.1h0M349.4 49.1h0M352.6 51.1h0M351 48.4h0M363.6 49h0M344 49.5h0M353 54.2h0M365 50h0M363 54h0M349.4 50.5h0M360.1 50.7h0M343 47.8h0M360.4 52.6h0M361.5 49.7h0M345.2 53.5h0M361.5 47.5h0M355.5 51h0M361.9 50.8h0M365 53.9h0M343.2 48.5h0M341.7 52.1h0M365.4 53.7h0M340.2 50.8h0M360.2 48.9h0M345.5 53.9h0M361.3 49h0M341.8 45.7h0" stroke="#000" stroke-width="0.7" stroke-linecap="round" fill="none" opacity="0.11"/>
<path d="M369.9 60.6h0M367.1 71.5h0M367.5 64.7h0M369.1 57.9h0M365.8 71.9h0M371.9 55.4h0M368.9 65h0M368.9 66.4h0M366.9 57.9h0M375 71h0M377.7 63.2h0M367.5 65.7h0M366.9 56.4h0M369.7 59.7h0M367.2 57.6h0M364.2 61.9h0M374 67.1h0M367 66.8h0M366.5 55.6h0M366.8 73.2h0M369.1 57.3h0M373.8 61h0M365.6 66.4h0M370.8 60.6h0M386.1 64h0M377.9 66.9h0M366.9 64.3h0M369.7 65.9h0M367.2 56.3h0M370.5 57.9h0M372.7 68.8h0M372.3 55.6h0M367.8 68.2h0M378 65.6h0M367.4 62.1h0M374.9 59h0M364 59.2h0M365.6 60.5h0M373.5 55.3h0M365.7 71.2h0M372.5 56.8h0M365.3 55.7h0M366.2 63h0M373.9 55.4h0M367.1 67.6h0M367.9 72.3h0M375.5 55.2h0M364.5 66.7h0M366.9 72h0M367.9 55.8h0M381.1 55.3h0M368.2 55.9h0M364.4 58.1h0M366.6 71.1h0M364.2 64.5h0M373.5 60.9h0M370.1 61h0M369.7 64.1h0M372.3 58.3h0M373.3 59h0" stroke="#000" stroke-width="0.7" stroke-linecap="round" fill="none" opacity="0.11"/>
<path d="M374.5 41.5h0M382.9 30h0M378.5 40h0M368.8 52h0M384.5 34.6h0M379 35.4h0M364 51.2h0M376.3 42.2h0M383.3 32.6h0M382.9 32.3h0M371.4 43.2h0M376.4 40.6h0M364.1 52.4h0M378.3 37.7h0M372.4 45.6h0M376.7 42.4h0M379.8 41.5h0M385.6 32.7h0M384.3 34.2h0M381.1 37.4h0M363.5 51.9h0M376.1 43h0M367.6 44.3h0M384.6 34.6h0M382.5 32.6h0M365.9 50.8h0M379.6 41.4h0M379.8 40.8h0M379.6 42.9h0M377.7 29.7h0M376.2 43h0M382.9 33.4h0M374.4 45.6h0M376.8 38.1h0M384.3 34.6h0M366.6 48.1h0M370.9 44.6h0M375.6 36.8h0M385.1 32.4h0M376.1 38.9h0M375 40.3h0M384.6 38.5h0M380.2 34h0M371.1 48.1h0M379 37h0M382.5 33.7h0M383.6 34.2h0M371.1 44.3h0M389.6 37.3h0M379.3 34.7h0M376.1 39.6h0M367.8 48.7h0M383.8 37.1h0M372.4 45.9h0M381.3 37.5h0M372.9 42.8h0M376.6 40.6h0M382.9 38.3h0M380.6 40.8h0M368.6 45.6h0M375.7 33.9h0M366.4 52.1h0M382.1 35.6h0M382.5 35.9h0M370 43.9h0M377.7 40.4h0M366.7 50.7h0M378.9 42.4h0M378 45.6h0M376.8 40.8h0M372.4 44.8h0M369.8 46.9h0M377.2 40.3h0M368.1 42.5h0M380.9 34.8h0M380.4 35.3h0M368.5 51.8h0M373.9 45.1h0M382.5 32.3h0M384 31.3h0M371.9 42.8h0M379.1 33.5h0M378.8 39.9h0M381.3 38.7h0M380.8 35h0M371.8 39.1h0M373.9 42.8h0M378.9 40.6h0M365 50.5h0M377.7 35.2h0M379.8 36.4h0M379 44.4h0M378.1 39.6h0M378 40.8h0M365.8 48.8h0M367.7 49.1h0M375 38.6h0M383.8 35h0M378.1 33h0M367.4 45h0M377.5 44.8h0M383.2 32.5h0M384.4 35.8h0M372.3 42.7h0M380.9 39h0M374.8 38.6h0M380.7 32.3h0M373.1 46.5h0M384.4 34.9h0M365.2 46h0M364.9 49.4h0M366.4 50h0M380.6 41.3h0M376.7 40.5h0M384.3 33h0M380.2 32.3h0M366.5 52.5h0M375 44.2h0M369.5 41.9h0M384.6 33.6h0M374.1 33.7h0M379.5 37.1h0M383.4 30.5h0M372.4 44.7h0M375.1 36.8h0M385.2 33.5h0M373.4 39.4h0M373.8 41.8h0M367.4 46.7h0M371.6 42h0M365.7 52.8h0M368 48.4h0M381.3 39.6h0M377.4 38.8h0M381.7 36.3h0M386.5 35.5h0M382.2 34.1h0M365.9 49.1h0M367.9 46h0M371.8 43.1h0M381.6 38h0M377.1 40.6h0M366.2 49.7h0M374.9 42.5h0M370.8 47.5h0M379.4 39.8h0M376.7 36.9h0M367.2 46.8h0M387.9 35.4h0M371.5 44.8h0M376.7 42h0M367.4 47.5h0" stroke="#000" stroke-width="0.75" stroke-linecap="round" fill="none" opacity="0.2"/>
<path d="M369.6 46.7L382.8 34.1" stroke="#000" stroke-width="4" stroke-linecap="round" opacity="0.12" filter="url(#b2)"/>
<ellipse cx="380.6" cy="37.2" rx="6.5" ry="2.7" transform="rotate(-50 380.6 37.2)" fill="#000" opacity="0.31" filter="url(#b15)"/>
<path d="M377.7 41.6h0M379.2 40.6h0M384.7 35.1h0M380.7 39.9h0M384.3 34.7h0M382.9 36.5h0M377.1 41.3h0M377.4 39.3h0M379.2 35h0M384.9 32.3h0M381.7 34h0M372.4 42.7h0M384.2 37.4h0M381.4 39.4h0M381.4 36.8h0M381.1 33h0M377.7 40.5h0M383.5 34h0M379.3 37.3h0M379.9 42.3h0M383.5 36.7h0M376.4 38.9h0M378.7 40.7h0M376.1 37.7h0M382.7 36.1h0M384.4 34.8h0M381.2 40.5h0M382.3 27.9h0M382.4 39.6h0M380.7 34.4h0M382.5 37.1h0M379.1 36.2h0M377.5 41.1h0M381.6 37.5h0M378.6 39h0M379.2 40.5h0M377 40.2h0M380.2 35.6h0M378.1 37.8h0M378.5 35.3h0M378.9 39.2h0M376.1 40.9h0M379.8 42.6h0M383.2 32.7h0M383.9 36.9h0M377.5 33.1h0M382.8 35.9h0M377.8 41.5h0M384.4 35.9h0M378.7 44.7h0M379.5 39.8h0M381.1 41.5h0M378.5 38.7h0M374.8 42.6h0M384.8 35.4h0M376.2 43.3h0M384.3 36.1h0M380.2 35.2h0M380.6 36.3h0M380.2 38.6h0M379 39.1h0M379.6 41.1h0M388.4 36.5h0M379 38.7h0M380.3 41.8h0M382.5 34.3h0M383.9 29.1h0M374.9 39.7h0M378.7 36.7h0M377 35.4h0M377.2 40.7h0M378.1 42.1h0M378.5 33.1h0M379.4 37.4h0M380.4 33.7h0M378.3 43.7h0M378.9 43h0M378.5 40.7h0M380 38.1h0M380.4 36.2h0M379 38.7h0M377.2 46h0M379 41h0M385 32.8h0M380.9 42.3h0M381.5 36.8h0M379.4 39.6h0M380.6 35.9h0M380.1 33h0M375.6 43.5h0M379 37.9h0M385.3 34.2h0M376 38.5h0M376.3 38.4h0M380.6 37.2h0M380.5 35h0M375.5 41.6h0M382.9 34.3h0M378.7 36.3h0M380.3 37h0M383.7 38.9h0M380 38.1h0M382.6 33.7h0M380.3 38h0M380.3 35.3h0M380.7 38.2h0M382.5 37.5h0M379.9 36.2h0M376.4 40.6h0M383.2 35.4h0M374.8 38.9h0M384 36.9h0M380.1 35.4h0M374.8 38.3h0M380.6 37.3h0M377.9 37.1h0M378.9 34.9h0M376.6 38.8h0M383.1 34h0M381.4 37.3h0M380.4 31.7h0M378.8 39h0M377.1 38.3h0M381 35.7h0M377.6 42.3h0M379.1 39.6h0M385.9 34.1h0M377.4 37.9h0M380.7 37h0M377.2 42.2h0M382.1 33.4h0M376 40h0M374.9 39.2h0M378.9 34.8h0M380.3 42.8h0M374.2 42.7h0M377.6 40.8h0M381.3 36.7h0M378.5 38.2h0M381.8 36.1h0M383 35.6h0M380.7 34.6h0M385.9 34.3h0M380.9 37.1h0M383.2 32.7h0M379.2 38h0M385.7 34.5h0M385.1 36.4h0M382.4 33.2h0M389.3 28h0" stroke="#000" stroke-width="0.75" stroke-linecap="round" fill="none" opacity="0.2"/>
</g>
<rect x="337.9" y="28.4" width="50.4" height="49.2" fill="none" stroke="#888" stroke-width=".9"/>
<path d="M362.5 28.4V77.6M337.9 54.2H388.3" stroke="#1a1a1a" stroke-width=".8" fill="none"/>
<path d="M338.4 53.2V77.2H363.5" stroke="#000" stroke-width="2.3" fill="none"/>
<path d="M337.9 28.4V54.2" stroke="#333" stroke-width="1" fill="none"/>
<path d="M362.5 77.4H388.3" stroke="#666" stroke-width="1" fill="none"/>
<text x="339.2" y="34.1" font-size="6.4" text-anchor="start" font-weight="bold">0.4</text>
<text x="363.8" y="34.1" font-size="6.4" text-anchor="start" font-weight="bold">1.0</text>
<text x="338.5" y="76.9" font-size="6.4" text-anchor="start" font-weight="bold" style="stroke:#fff;stroke-width:1.3px;fill:#fff" opacity=".55">98.2</text>
<text x="338.5" y="76.9" font-size="6.4" text-anchor="start" font-weight="bold">98.2</text>
<text x="387.8" y="76.9" font-size="6.4" text-anchor="end" font-weight="bold">0.4</text>
</g>
<g>
<clipPath id="cc3"><rect x="338" y="103" width="50.5" height="49.6"/></clipPath>
<clipPath id="qc3"><rect x="338" y="129.4" width="25.4" height="23.2"/></clipPath>
<g clip-path="url(#qc3)">
<rect x="338" y="129.4" width="25.4" height="23.2" fill="#000" opacity="0.57"/>
<rect x="338" y="129.4" width="25.4" height="23.2" fill="url(#gq)"/>
<rect x="338" y="129.4" width="25.4" height="23.2" fill="url(#gb)"/>
<rect x="338" y="129.4" width="25.4" height="23.2" fill="url(#gd)"/>
<path d="M344.5 133.6h0M347.2 145.7h0M341.2 136.5h0M340.4 134.9h0M361.5 138.8h0M348.7 137.1h0M349.5 143.3h0M354.3 131h0M348.8 145h0M349.8 139.5h0M359.5 143.2h0M359.6 131.8h0M353.4 131.7h0M345.3 135.4h0M355.8 135.3h0M352.4 141.7h0M349.1 136.7h0M359.9 141.6h0M356.9 134.5h0M353.7 135.6h0M349.5 146.6h0M349.8 133.6h0M359.8 145.9h0M356.5 131.4h0M350.1 134.4h0M347 151.3h0M352.7 142h0M344 147.8h0M354.2 145.8h0M356 150.8h0M348.6 135.4h0M357.9 147.5h0M357.3 141.9h0M346.7 132.5h0M352.3 131.6h0M341.2 147.2h0M344.6 146.6h0M354.5 151h0M347.5 149h0M362.1 130.5h0M352.2 142.2h0M349.1 133h0M360.3 145.2h0M349.3 144.4h0M346 138.1h0M352.5 144.9h0M341.8 131.5h0M354.7 133.7h0M342.1 144.1h0M346.7 149.9h0M361.8 132.9h0M349.3 139.3h0M356.3 147.8h0M344.4 142h0M350.7 136.2h0M355.4 150.4h0M350.5 140.6h0M357.5 146.7h0M343.3 150h0M347.4 150.5h0M350.2 150.8h0M358.4 134.5h0M360.8 146h0M359.7 141.3h0M356.7 141.3h0M346.7 144.9h0M360.5 131h0M343.5 139.6h0M358 136.4h0M343 133.1h0M349.3 144.8h0M347.3 143.1h0M341.3 139.8h0M357.5 131.8h0M359.4 145.3h0M345.7 150.1h0M354.8 135.1h0M360.7 137.6h0M357.2 141.5h0M348.5 135.8h0M343.2 138.2h0M343.8 151.3h0M340.1 151.2h0M353.3 151h0M353.7 142.4h0M346.4 151.2h0M356.2 137.7h0M354.9 149.6h0M356.8 137.9h0M348.1 140.7h0M347.2 138.7h0M351.9 144.5h0M341.2 145.4h0M353.9 143.3h0M344.1 132.4h0M355 147.6h0M349.3 150.1h0M344.4 144h0M350.7 150.4h0M353.5 143.2h0M344.5 134.5h0M346.6 140.5h0M348.8 135.9h0M347.1 140.6h0M358.8 144.7h0M341.9 150.3h0M343.9 136.8h0M342.6 147h0M345.7 142.3h0M353.6 134.2h0M342.4 133.9h0M360.2 134.2h0M345.7 136.6h0M343.6 135.5h0M348.4 138.7h0M361.1 150.3h0M342.1 137.6h0M343.2 130.8h0M361.8 145.5h0M360.3 141.4h0M355.1 141.4h0M350.2 148.7h0M353.1 151h0M356.4 144.9h0M351 150.6h0M342.1 146h0M350 137h0M349.9 146.6h0M349.4 142.4h0M342.4 132.5h0M343.4 144.7h0M357.9 150.5h0M343.7 139.2h0M341.7 143.5h0M350.2 133.4h0M345.2 149.7h0M360.5 145.2h0M347.1 148.5h0M355.5 135.1h0M358.5 131.6h0M353.6 136.1h0M357.7 148.3h0M359.8 138.5h0M351.2 132.7h0M345.6 134.4h0M352.3 140.2h0M356.7 134.2h0M358.1 145.3h0M355.8 142.1h0M345.7 135.3h0M353.4 148.8h0M349.7 148.2h0M351.5 134.3h0M348.3 140.7h0M346.6 134.3h0M342.8 135.6h0M357.6 136.3h0M357.1 137.6h0M356.2 150.4h0M354.7 137.3h0M349.5 147.3h0M343 135.7h0M352.7 148h0M340.4 142h0M343.4 132.1h0M359.8 144.8h0M352.4 144.4h0M348.7 150.9h0M358.6 137.9h0M355.7 136.3h0" stroke="#fff" stroke-width="0.9" stroke-linecap="round" fill="none" opacity="0.2"/>
<path d="M340.2 130.5h0M352.6 145.1h0M341.6 150.4h0M349.7 134.4h0M339.1 147.3h0M348.7 135.9h0M343 133.4h0M340.8 135.1h0M351.6 137.9h0M344.9 133.9h0M359 148.2h0M340.7 150.2h0M359.8 151.4h0M341.4 132.9h0M342.1 132.8h0M357.6 149.3h0M346.7 150.8h0M354.3 144.7h0M358.7 144h0M343.9 131h0M340.9 148.7h0M358.3 137.2h0M342.6 145.2h0M339.8 148.1h0M340.8 137h0M343 152.2h0M340.7 140.1h0M341.4 146.5h0M359.9 141.5h0M359.3 131.4h0M355.1 142.2h0M359.9 143.9h0M342.9 143.8h0M341.9 151.4h0M357.1 145h0M357.7 148.1h0M339.7 144.7h0M340.4 146.4h0M354.4 133.2h0M352.9 133.2h0M339.4 139.3h0M347.5 143.8h0M346.5 148.5h0M339.1 133.2h0M341.8 139.1h0M354.9 134.6h0M342.8 145.3h0M342.1 147.7h0M358.7 149.6h0M341.3 150.1h0M344 138.4h0M348.6 146.9h0M357.9 149.1h0M339 130.9h0M347.4 139.6h0M339.2 147.9h0M343.8 138.9h0M341.3 150h0M345.3 144h0M341.9 148.6h0M352.5 135.5h0M349.4 132.3h0M344.2 135.3h0M339.4 132h0M351.2 151.2h0M354.1 151.3h0M355.6 145.7h0M355.6 142.3h0M339.8 148h0M344.4 138.2h0M357.7 148.9h0M342.3 147.6h0M360.2 146.8h0M345.9 145.8h0M360.8 130.7h0M342.3 143.9h0M340.4 149.1h0M361.8 138h0M350.9 144.6h0M359.3 144.8h0M341.3 145.6h0M348.9 150.6h0M354 137.5h0M340 152.4h0M340.5 149.6h0M343.7 136.3h0M340 131.6h0M345.9 138h0M351.1 134.5h0M356.7 137.9h0M359.3 144.4h0M342.2 151.6h0M339.2 141.3h0M339.7 148h0M355.6 149.7h0M344.2 133.2h0M353.8 141.8h0M343.1 143.1h0M362 148.5h0M345.4 132.5h0M342.6 150.1h0M339.7 139.6h0M339.1 148.7h0M355.2 140.6h0M344.7 134.9h0M360.8 137.5h0M352.4 131.5h0M345.8 150.6h0M342.5 142.1h0M340.4 143.5h0M343.7 136.3h0M344.7 149.9h0M359.1 138.3h0M353.9 131.5h0M341.7 148.3h0M343 148.8h0M340.2 144.2h0M352.4 138.5h0M349.2 147.2h0M349.9 145.1h0M339.1 132.7h0M351.3 150.3h0M341.6 140.5h0M358.7 133.3h0M341.7 143.7h0M348.8 131.1h0M339.2 143.8h0M355.7 137.6h0M353.1 139.1h0M349.6 141.1h0M345.2 134.9h0M341.3 146.8h0M346.6 138.1h0M359.9 143.8h0M355.2 134.9h0M344.8 139.4h0M358.1 134.7h0M349.6 145.2h0M348.3 137.8h0M339.1 135.3h0M343.4 147.4h0M344.1 137.5h0M350.3 134.4h0M340 134h0M339.1 150.5h0M356.2 133.2h0M342.1 150.6h0M351.6 147.7h0M341.5 130.8h0M361.2 138.3h0M342.9 131.7h0M354.6 145.7h0M348.1 133.8h0M340.6 134.5h0M339.7 131.6h0M353 146.6h0M361.1 137.8h0M349.1 145.6h0M340.7 141.7h0M356.6 133.5h0M348.1 150h0M346.3 143.4h0M340.4 147.5h0M351.8 149.3h0M357.9 149.9h0M353.1 132.8h0M341.8 143.1h0M349.3 144.5h0M358 146.5h0M341.3 133.6h0M353.1 143.6h0M351 132.2h0M339.5 134.4h0M348.7 134.2h0M345.1 142.2h0M350 132.1h0M357.5 131.6h0M347 151.6h0M340.9 149.3h0M339.2 147.7h0M339.2 138.8h0M339.1 152.1h0M355.6 148.9h0M346.1 143.7h0M355.9 136.5h0M353.3 138.6h0M348.5 132h0M355.7 136.4h0M350.7 146.1h0M342.3 145.7h0M350.8 138.4h0M358.8 144.9h0M339 145.8h0M339.1 144.1h0M339.8 133.1h0M354.2 131.1h0M354.3 146.2h0M341 143.8h0M359.2 149.9h0M339.6 131.9h0" stroke="#000" stroke-width="0.9" stroke-linecap="round" fill="none" opacity="0.47"/>
<path d="M345.7 136.3 C346 134.3 354.3 130.6 358.6 130.6 C360.6 130.6 361.4 131.4 361.4 133.6 C361.4 137.3 361.4 141 360.3 145 C359.7 147.3 357.6 148 356.1 146.1 C352.8 142.3 345.7 138.6 345.7 136.3 Z" fill="#000" filter="url(#b07)" opacity="0.76"/>
<path d="M347.4 136.5 C347.7 134.8 354.6 131.7 358.2 131.7 C359.9 131.7 360.5 132.4 360.5 134.2 C360.5 137.3 360.5 140.4 359.6 143.7 C359.1 145.6 357.4 146.2 356.1 144.7 C353.3 141.5 347.4 138.4 347.4 136.5 Z" fill="#fff" stroke="#222" stroke-width=".5"/>
<path d="M350.4 136.7 C350.5 135.6 355.1 133.6 357.4 133.6 C358.6 133.6 359 134.1 359 135.3 C359 137.3 359 139.3 358.4 141.5 C358 142.8 356.9 143.2 356.1 142.2 C354.3 140 350.4 138 350.4 136.7 Z" fill="none" stroke="#555" stroke-width=".5"/>
<path d="M353 137 C353.1 136.4 355.5 135.3 356.8 135.3 C357.4 135.3 357.7 135.5 357.7 136.2 C357.7 137.3 357.7 138.4 357.3 139.6 C357.1 140.3 356.5 140.5 356.1 139.9 C355.1 138.8 353 137.7 353 137 Z" fill="none" stroke="#666" stroke-width=".5"/>
<path d="M355.2 137.2 C355.2 137 355.9 136.7 356.3 136.7 C356.4 136.7 356.5 136.8 356.5 137 C356.5 137.3 356.5 137.6 356.4 137.9 C356.4 138.1 356.2 138.2 356.1 138 C355.8 137.7 355.2 137.4 355.2 137.2 Z" fill="#888"/>
</g>
<g clip-path="url(#cc3)">
<path d="M353.4 126.7h0M362.3 127h0M362.4 125.4h0M361.2 126.2h0M355.5 128.5h0M359.6 125.3h0M356.7 121.6h0M346.4 124.7h0M351.4 121.9h0M342.2 125.8h0M361.1 124.6h0M342.3 125.9h0M351.3 128.3h0M347.6 128.9h0M350.1 129h0M363.2 126.8h0M350.1 128.4h0M348.3 129.1h0M351.6 124.5h0M360.7 123.1h0M361.3 125.5h0M364.8 128.6h0M356.9 129.1h0M354.3 128.1h0M360.3 123.6h0M361.4 126h0M350.9 128h0M354.4 118.9h0M340.7 128.1h0M345.2 117.1h0" stroke="#000" stroke-width="0.7" stroke-linecap="round" fill="none" opacity="0.11"/>
<path d="M367.6 130.5h0M367.7 132.1h0M364.4 146.6h0M366.9 135.2h0M370.6 149.3h0M363.6 138.6h0M366.9 137.5h0M366.7 144.1h0M368.1 142.7h0M364.8 146.9h0M366.4 143.2h0M371.6 133.2h0M366.6 137.3h0M368.7 139.8h0M363.2 141.3h0M368.5 140.1h0M373.2 144.4h0M366.1 145.6h0M365.2 131.4h0M369.9 136.1h0M364.6 146.4h0M363.5 133.8h0M367.1 133h0M365.5 143.3h0M372.9 135.4h0M373.5 139.4h0M368.9 139.6h0M377.8 131.2h0M368.6 148.1h0M374.8 145.7h0M365.8 135.3h0M368.5 131.2h0M368.9 131.9h0M366.1 141.8h0M367.1 141h0M371.5 132.5h0" stroke="#000" stroke-width="0.7" stroke-linecap="round" fill="none" opacity="0.11"/>
</g>
<rect x="338" y="103" width="50.5" height="49.6" fill="none" stroke="#888" stroke-width=".9"/>
<path d="M362.2 103V152.6M338 129.4H388.5" stroke="#1a1a1a" stroke-width=".8" fill="none"/>
<path d="M338.5 128.4V152.2H363.2" stroke="#000" stroke-width="2.3" fill="none"/>
<path d="M338 103V129.4" stroke="#333" stroke-width="1" fill="none"/>
<path d="M362.2 152.4H388.5" stroke="#666" stroke-width="1" fill="none"/>
<text x="339.3" y="108.7" font-size="6.4" text-anchor="start" font-weight="bold">0.3</text>
<text x="363.5" y="108.7" font-size="6.4" text-anchor="start" font-weight="bold">0.1</text>
<text x="338.6" y="151.9" font-size="6.4" text-anchor="start" font-weight="bold" style="stroke:#fff;stroke-width:1.3px;fill:#fff" opacity=".55">99.2</text>
<text x="338.6" y="151.9" font-size="6.4" text-anchor="start" font-weight="bold">99.2</text>
<text x="388" y="151.9" font-size="6.4" text-anchor="end" font-weight="bold">0.4</text>
</g>
<g>
<clipPath id="cd1"><rect x="401.8" y="28.4" width="50.6" height="49.2"/></clipPath>
<clipPath id="qd1"><rect x="401.8" y="53.8" width="27" height="23.8"/></clipPath>
<g clip-path="url(#qd1)">
<rect x="401.8" y="53.8" width="27" height="23.8" fill="#000" opacity="0.6"/>
<rect x="401.8" y="53.8" width="27" height="23.8" fill="url(#gq)"/>
<rect x="401.8" y="53.8" width="27" height="23.8" fill="url(#gb)"/>
<rect x="401.8" y="53.8" width="27" height="23.8" fill="url(#gd)"/>
<path d="M415.9 72.4h0M422.1 64.7h0M412.2 71h0M418.5 69.9h0M422.3 74.1h0M412 61.4h0M415.9 74.3h0M426.3 67.4h0M411.6 66.4h0M413.1 67.6h0M421.3 61.1h0M421 67.5h0M426.1 60.3h0M418.7 64.4h0M404.3 76h0M415.7 72.1h0M408.8 72.7h0M408.2 62.4h0M421.6 65.6h0M412.6 70.7h0M409.3 67.4h0M426.7 63.3h0M418.4 57.4h0M426.7 55.8h0M427.3 64h0M418.8 73.9h0M418.5 67.2h0M421.6 63.2h0M425.3 75.9h0M422 62.2h0M407.6 74.4h0M425.6 73.9h0M409 64.3h0M423.1 62.3h0M406.4 63h0M418.3 70h0M414.9 63.9h0M404.5 75.3h0M407.2 75.2h0M404.8 67.6h0M427.5 67.5h0M409 56.6h0M422.7 55.3h0M407.8 69.3h0M409.2 56.3h0M404.3 66.9h0M419.9 58.9h0M416.7 73.6h0M425.7 68.9h0M419.7 63.2h0M417.6 63.5h0M404.6 74.3h0M406.2 60.1h0M425.3 67.6h0M424.3 75.5h0M417.1 61.3h0M413.8 58.6h0M427.1 68.3h0M419.4 76.6h0M405.5 60.3h0M410.6 75.4h0M420 61.4h0M416.6 68.6h0M423.3 64.2h0M414.5 55.8h0M406.6 74.7h0M420.8 61.3h0M420.6 64.5h0M421.3 72.3h0M404.8 63.9h0M413.6 67.7h0M405.4 64h0M418.4 67.3h0M420.5 74.5h0M417.6 71.7h0M418.8 67.1h0M426.3 63.4h0M411.5 57.9h0M422.5 72.9h0M407.3 59.8h0M419.8 59.5h0M422 58.5h0M412.1 72.9h0M427.2 58.2h0M407.5 60.2h0M413.1 71.5h0M411.9 66.8h0M416.1 54.9h0M427.3 70.9h0M427.3 67.8h0M426.5 58.8h0M404.9 60.9h0M422.6 65.1h0M415.6 55.1h0M409.6 65.2h0M416 74.3h0M404.5 68.1h0M415.1 74.6h0M411 55.3h0M418.3 56.9h0M405.4 74.4h0M419.1 55.1h0M426.1 66.8h0M409.5 71h0M419.1 68h0M423.5 69.1h0M422.3 65.9h0M410 58.7h0M424 59h0M414.3 55.8h0M423.2 58.8h0M420.6 59.6h0M406 57.9h0M409.3 66.8h0M421.7 75.4h0M406 56.3h0M403.9 69.2h0M422.2 67h0M417.2 66.4h0M413.9 69.9h0M423.9 59.5h0M424.2 71.7h0M412.2 59.3h0M411.4 73.3h0M420.4 75.7h0M409 61.5h0M409.2 64.2h0M409.4 75.4h0M424.2 55.3h0M404.8 70.1h0M409.4 64.5h0M422.2 71.3h0M408.9 54.9h0M425.9 72.9h0M405.3 68.5h0M424 73.3h0M414.8 72.9h0M415.1 64.3h0M404.7 57.5h0M421.5 70.8h0M421.6 56.1h0M415.6 60.1h0M422 61.1h0M423.3 71.8h0M419.8 57.9h0M413.2 67h0M422.8 63.4h0M412.5 66.2h0M403.9 57.3h0M417.7 74.3h0M416.4 63.2h0M418.1 58.6h0M416.9 58.4h0M408.4 70h0M415.4 74h0M404.7 55.5h0M419.5 64.3h0M417.8 73.2h0M415.4 60.7h0M424.3 64.9h0M408 62.2h0M422.3 73h0M411.4 74.2h0M426.3 59.9h0M423.5 65.8h0M406 73.7h0M420.8 66.1h0M421 73.6h0M419.2 73.8h0M426.6 59.4h0" stroke="#fff" stroke-width="0.9" stroke-linecap="round" fill="none" opacity="0.19"/>
<path d="M412.3 64.5h0M414.9 63h0M403.1 70.3h0M402.8 67.4h0M420.9 69.1h0M406.1 72.2h0M408.3 67.2h0M423.6 59.8h0M419.2 76.6h0M420.9 66h0M415.2 76h0M406.4 61.5h0M414.7 64.4h0M405.6 58.3h0M406.2 72.4h0M403.7 63.2h0M402.9 65.2h0M414.2 64.8h0M419.4 57.3h0M420.8 76.1h0M409.9 56.4h0M416.2 70.3h0M403.2 67.1h0M421 71.2h0M426.6 56.4h0M409.4 65.5h0M403.7 75.6h0M406.9 69.7h0M418 64.4h0M403.1 55.2h0M403.6 64.7h0M425.9 66.3h0M409.8 67h0M412.6 63.4h0M404.6 69.8h0M410.6 75.7h0M410.7 76.8h0M415 68.3h0M407.4 60.3h0M413 59.3h0M419.7 59h0M421.5 69.2h0M403.5 77.1h0M404 66.5h0M417.6 71.4h0M414.2 63.1h0M403 68.2h0M419.4 76.6h0M415.6 55.5h0M412.7 73.8h0M403.9 55.9h0M413.2 77.5h0M402.8 60.1h0M404 55.9h0M419.1 72.3h0M419.3 62.4h0M417.3 71.2h0M403.6 64.3h0M403.7 65.6h0M403.2 71.1h0M403.4 67.9h0M415.4 67h0M404.8 55h0M402.8 61.6h0M415.7 67.7h0M408.9 76h0M422.5 66h0M418.6 74.8h0M407.5 59.1h0M416.5 70.2h0M421.8 75h0M404.7 60.6h0M414.2 65.4h0M420.6 77.4h0M425.8 60.6h0M417 55.5h0M425.1 60.2h0M412.1 59.8h0M412.9 73.9h0M409.2 75.2h0M420.6 67.3h0M424.8 76.8h0M412 73.8h0M403.4 76.3h0M404.7 62.9h0M415.7 75.9h0M410.3 75.4h0M403.5 58.1h0M422.8 57.5h0M404.6 61.9h0M425.7 62.5h0M408.9 55.3h0M403.8 63.2h0M417 74.6h0M424.3 72.2h0M405.5 62.4h0M406.6 73.3h0M407.9 60.6h0M424.2 69.5h0M404 69.2h0M404.1 64.9h0M404.7 61.2h0M407.3 64.8h0M406.4 77.2h0M412.8 71.3h0M417 64.6h0M419.1 61.4h0M411.4 63.9h0M410.3 59h0M418.7 62.5h0M403.3 56.9h0M422.3 62.1h0M409.8 61.7h0M413.8 64.3h0M424.9 65.7h0M420.7 70h0M409.4 62.3h0M407.6 59.9h0M417 75.3h0M422.3 57.2h0M411.8 70.2h0M412 59.5h0M426 60.2h0M418.8 62.6h0M423.5 62.6h0M403 76.2h0M403.3 65h0M413.8 67.8h0M416.4 71.5h0M405.8 55h0M413.3 75.8h0M403.3 59h0M424.5 66.7h0M407.2 63.6h0M411.4 73.5h0M414.5 63.2h0M410.4 74.5h0M416.6 62.6h0M402.9 70.4h0M403.7 59.7h0M404.8 64.9h0M426.5 65.4h0M415.7 74.7h0M406.5 75.2h0M411.3 62h0M409.7 61.2h0M405.5 64.6h0M404 73.4h0M405.5 56.4h0M402.9 76.7h0M403.2 73.3h0M420.3 73h0M410.9 67.3h0M403.8 63.1h0M403.3 77.4h0M421.3 74h0M405.8 73.3h0M406.2 58.7h0M423 75.9h0M411.1 59h0M422.1 57.4h0M420 71.9h0M413.4 75.4h0M404.7 56.5h0M403.2 59.5h0M421.1 69.5h0M423.8 73.7h0M405.3 75.9h0M403.8 69.1h0M409.6 61.7h0M405.2 64.4h0M411.6 56.4h0M416.2 74.2h0M426.3 69.6h0M416.6 60.3h0M413.2 59.9h0M407.2 74.8h0M413.5 75.9h0M413.9 63.2h0M403.4 73.5h0M406.8 77.5h0M403.1 54.8h0M404.2 76.3h0M413.3 77h0M423.4 71.4h0M417.9 75.4h0M405.3 75.6h0M415.5 60.2h0M413.9 55.3h0M426.8 67.7h0M406.7 68h0M413.2 69.7h0M402.8 59.9h0M407.5 58.4h0M406.4 65.8h0M406 58.4h0M405 66.5h0M424.5 56.9h0M404.6 60.5h0M415.9 62.7h0" stroke="#000" stroke-width="0.9" stroke-linecap="round" fill="none" opacity="0.48"/>
<path d="M415.5 61.4 C415.7 58.9 421.9 54.3 425.1 54.3 C426.6 54.3 427.2 55.4 427.2 58.1 C427.2 62.7 427.2 67.2 426.4 72.2 C425.9 75.2 424.4 76 423.2 73.7 C420.8 68.9 415.5 64.3 415.5 61.4 Z" fill="#000" filter="url(#b07)" opacity="0.77"/>
<path d="M416.8 61.6 C417 59.5 422.2 55.7 424.8 55.7 C426.1 55.7 426.6 56.6 426.6 58.8 C426.6 62.7 426.6 66.5 425.9 70.6 C425.5 73.1 424.2 73.8 423.2 71.9 C421.2 67.9 416.8 64 416.8 61.6 Z" fill="#fff" stroke="#222" stroke-width=".5"/>
<path d="M419 62 C419.1 60.6 422.5 58.1 424.3 58.1 C425.1 58.1 425.4 58.6 425.4 60.1 C425.4 62.7 425.4 65.2 425 67.9 C424.7 69.5 423.9 70 423.2 68.7 C421.9 66.1 419 63.6 419 62 Z" fill="none" stroke="#555" stroke-width=".5"/>
<path d="M420.9 62.3 C421 61.5 422.8 60.2 423.8 60.2 C424.3 60.2 424.4 60.5 424.4 61.3 C424.4 62.7 424.4 64 424.2 65.5 C424 66.4 423.6 66.7 423.2 66 C422.5 64.5 420.9 63.2 420.9 62.3 Z" fill="none" stroke="#666" stroke-width=".5"/>
<path d="M422.6 62.5 C422.6 62.3 423.1 62 423.4 62 C423.5 62 423.6 62 423.6 62.3 C423.6 62.7 423.6 63 423.5 63.5 C423.5 63.7 423.3 63.8 423.2 63.6 C423 63.2 422.6 62.8 422.6 62.5 Z" fill="#888"/>
</g>
<g clip-path="url(#cd1)">
<path d="M418.6 52.1h0M406.1 48.5h0M423.1 53.1h0M428.5 50.5h0M429.4 53h0M415.4 53.3h0M421.5 50.2h0M417.9 46.6h0M415.7 47.8h0M430.5 48.4h0M417.8 46.6h0M430.1 52.5h0M406.5 53.3h0M424.5 49.4h0M421.2 44.8h0M413.3 50.5h0M429.5 38.5h0M405.8 47.2h0M414.3 53.2h0M412.3 46.2h0M424.3 48.6h0M421.5 49.7h0M428.7 51.1h0M407.7 47.3h0M404.9 51.9h0M418.8 53.4h0M428.1 46.4h0M403.8 49.9h0M415.4 51.8h0M404 49.3h0" stroke="#000" stroke-width="0.7" stroke-linecap="round" fill="none" opacity="0.11"/>
<path d="M446.5 54.9h0M429 56.5h0M432.7 57.6h0M429.8 55.7h0M430.2 57.2h0M431.9 63.1h0M438.3 60.9h0M430.7 61.8h0M434.1 73.5h0M430.7 59.2h0M430.5 58.5h0M436.3 56.9h0M442.4 73.2h0M449.4 55.5h0M428.8 67.6h0M437.9 64.7h0M440.1 63h0M432.9 56.4h0M432.5 55.5h0M429.6 55.1h0M429.9 56.4h0M434.9 64h0M432.7 73.1h0M431.2 63.1h0M433.6 66.3h0M432.4 68.1h0M437.2 63.2h0M429.7 62.8h0M431.9 63.5h0M433.5 55.7h0M431.7 68.1h0M436.9 73.6h0M431.2 60h0M428.8 57.7h0M431.4 65.4h0M439.4 55.9h0M430.9 61.1h0M433.3 63h0M437.6 56.4h0M432.1 72.2h0M435.4 56.4h0M431.3 69.2h0M433.5 66.9h0M442.9 68.7h0M434.7 57.6h0M437.3 57.4h0M436.5 54.9h0M440.4 56.9h0M434.3 60.2h0M429 59.3h0M430.8 55.4h0M428.8 73h0" stroke="#000" stroke-width="0.7" stroke-linecap="round" fill="none" opacity="0.11"/>
<path d="M441.2 36h0M439.7 42.6h0M427.9 52.2h0M438.6 40.8h0M443.2 30.6h0M442.3 39.5h0M428.6 49.3h0M433.9 41.9h0M442.4 44.9h0M432.8 54.4h0M434.4 47.2h0M447.6 36.1h0M429 55.1h0M439.4 48.2h0M438.4 42.2h0M437.9 40.2h0M439.9 40.2h0M430.9 49.4h0M434.5 43.5h0M433.9 46.7h0M442.4 38h0M446.3 38h0M433.3 45.5h0M440.9 36h0M429.7 53.3h0M436.1 42h0M440.7 40.6h0M433.3 45.8h0M438 39.4h0M439.7 38.7h0M442.1 38.6h0M443.8 32.7h0M427.3 53.4h0M440.8 35.7h0M429.5 53.7h0M430.4 48.8h0M428.3 51.2h0M440.1 42h0M438 41.9h0M426.6 53.4h0M434.9 47h0M433.1 39.3h0M427.5 52.6h0M438.7 42.4h0M439.5 37.6h0M440.8 39.1h0M440.6 43.2h0M431.4 44.9h0M431.7 48.6h0M432 48.9h0M439.6 35.4h0M432.4 48h0M446 37.6h0M434.8 42.6h0M430.7 49.5h0M438.1 41.2h0M437.4 42h0M430.1 50.9h0M443.3 33.1h0M434.8 49.8h0M443.5 42.8h0M438.8 37.1h0M439.7 42.5h0M446.3 38h0M442.1 42.5h0M435.9 45.8h0M428.4 52.6h0M442.1 35h0M442.7 38.3h0M437.2 40.1h0M437 44h0M438.3 38.2h0M429.4 51.8h0M442.6 37.5h0M433 44.1h0M428.2 50.5h0M428.5 56.7h0M429.5 57.5h0M440.4 37.8h0M447.8 37.3h0M427.6 52h0M435.3 42.1h0M439.1 42.5h0M438.8 38.5h0M441.2 37.7h0M447.3 35.9h0M433.1 49.1h0M443.3 36.2h0M441.4 48.3h0M437.1 45.2h0M439.1 43h0M433.5 46.8h0M443.6 37.5h0M442.7 43.6h0M436.9 41.5h0M431.7 50.3h0M427.3 54.3h0M429.9 48.8h0M429.2 51.4h0M429.8 54.4h0M428.1 54.7h0M451.3 41.2h0M437.4 43.8h0M427.6 55.7h0M433.7 49.9h0M440.8 36.1h0M436.8 47.9h0M438.5 43.1h0M446.6 34.4h0M434.8 41.1h0M426.9 52.6h0M432.4 51.3h0M437.8 46.8h0M433.2 44.5h0M431.9 50h0M430.4 48.8h0M436.2 46.4h0M429.5 48.3h0M432.3 47h0M427.9 51.8h0M438.4 40.7h0M441.4 44.4h0M437.3 43.3h0M447.3 39.1h0M431.2 47h0M444.3 34.3h0M433.1 49.9h0M447.1 36.2h0M431.4 52h0M427.5 54.5h0M438.4 42.6h0M435.9 49.9h0M430 50.7h0M433.5 50.2h0M442.1 38.5h0M434.3 45.4h0M427.4 53.7h0M437.7 45.1h0M440.2 39.9h0M430.6 42.5h0M430.7 46.8h0M430.3 48h0M434.6 43h0M429.4 48.8h0M439.6 36.6h0M430.3 54.3h0M431.1 52.3h0M445.4 38.8h0M433.6 44.8h0M443.9 34.5h0M444.5 35.7h0M435.9 47.9h0M432.5 50.7h0M436.1 44.3h0M437.8 46.3h0M433.8 46.2h0M429.9 51.8h0M430.6 51.4h0M440 35.9h0M436.4 41.2h0M443.7 36h0M435.6 51.6h0M434.6 49.7h0M434.3 48.3h0M437.9 46.5h0M433 48.1h0M436.1 49.1h0M426.3 53.7h0M431.7 48h0M434.7 39.8h0M433.5 43.4h0M439.4 44.1h0M437.4 44.8h0M435 49h0M433.7 44.1h0M443.4 44.8h0M442.6 40.3h0M432.1 49.3h0M431.6 45.8h0M434.2 42.4h0M447.7 34.6h0M448.5 40h0M445.8 37.9h0M432.3 54.2h0M433.6 45.8h0M430.6 51h0M436.5 48.1h0M428.6 53.5h0M439.9 41h0M440.3 44.2h0M432 49.8h0M426.9 54.2h0M431.6 47.3h0M426.9 51.9h0M436.2 46.6h0M442.5 40.6h0M432.1 48.1h0M425.7 54.2h0M434.8 49.6h0M430.3 50.4h0M442.9 33.7h0M429.5 47.9h0M426 53.4h0M445 38h0M440 40.7h0M429.6 48.6h0M443.6 35.5h0M428.9 55h0M429.5 52.5h0M441.6 37.4h0M428.5 55.3h0M439.3 38.2h0M441.9 39.7h0M437.5 44.5h0M432.2 46.1h0M427.3 51.8h0M437.9 44.7h0M445.7 34.8h0M431.7 47.1h0M428.7 51.7h0M436.8 44.7h0M443.3 37.8h0M430.2 53.1h0M432.4 53.8h0M430.1 50.9h0M430.7 49h0M430.9 43.6h0M440.2 36.7h0M435 47.3h0M442.1 34.7h0M436.1 38.8h0M445.3 35.7h0M437.4 39.3h0M438.3 43.9h0M443 34.2h0M444.5 40.4h0M429.1 51.4h0M434.3 43.1h0M440.1 41.6h0M437.9 44.9h0M428.2 53h0M427.2 52.9h0M433.6 47.5h0M446.7 36.4h0M430.9 50.2h0M435.1 44h0M441.6 42h0M430.6 53.4h0M439.3 44.6h0M438 44.1h0M427.4 54.3h0M431.4 46.8h0M431.6 51.1h0M432.6 51.6h0M429.8 50.5h0M434.3 49.5h0M428.9 54.1h0M425.4 54h0M430.3 45.6h0M436.4 42.9h0M439.8 43.8h0M438.3 39.9h0M439.1 40.2h0M428.2 53.9h0M447.8 45h0M431.3 44.3h0M448 37.9h0M442.1 37.8h0M442.7 41.6h0M439.7 38.3h0M442.6 42.5h0M428.8 48h0M438.5 34.1h0M431.7 50.4h0M437.2 48.6h0M440.6 39.4h0M438.3 42.3h0M426.7 55h0M433.1 46.6h0M428.6 53.3h0M436.1 49.8h0M438 41.6h0M428.7 56.9h0M433.6 45.6h0M433.3 48.8h0" stroke="#000" stroke-width="0.8" stroke-linecap="round" fill="none" opacity="0.26"/>
<path d="M427.5 53.9L444.5 35.7" stroke="#000" stroke-width="4" stroke-linecap="round" opacity="0.11" filter="url(#b2)"/>
</g>
<rect x="401.8" y="28.4" width="50.6" height="49.2" fill="none" stroke="#888" stroke-width=".9"/>
<path d="M427.6 28.4V77.6M401.8 53.8H452.4" stroke="#1a1a1a" stroke-width=".8" fill="none"/>
<path d="M402.3 52.8V77.2H428.6" stroke="#000" stroke-width="2.3" fill="none"/>
<path d="M401.8 28.4V53.8" stroke="#333" stroke-width="1" fill="none"/>
<path d="M427.6 77.4H452.4" stroke="#666" stroke-width="1" fill="none"/>
<text x="403.1" y="34.1" font-size="6.4" text-anchor="start" font-weight="bold">0.1</text>
<text x="428.9" y="34.1" font-size="6.4" text-anchor="start" font-weight="bold">1.0</text>
<text x="402.4" y="76.9" font-size="6.4" text-anchor="start" font-weight="bold" style="stroke:#fff;stroke-width:1.3px;fill:#fff" opacity=".55">98.5</text>
<text x="402.4" y="76.9" font-size="6.4" text-anchor="start" font-weight="bold">98.5</text>
<text x="451.9" y="76.9" font-size="6.4" text-anchor="end" font-weight="bold">0.4</text>
</g>
<g>
<clipPath id="cd2"><rect x="459.1" y="28.4" width="50.3" height="49.2"/></clipPath>
<clipPath id="qd2"><rect x="459.1" y="54.4" width="25.8" height="23.2"/></clipPath>
<g clip-path="url(#qd2)">
<rect x="459.1" y="54.4" width="25.8" height="23.2" fill="#000" opacity="0.6"/>
<rect x="459.1" y="54.4" width="25.8" height="23.2" fill="url(#gq)"/>
<rect x="459.1" y="54.4" width="25.8" height="23.2" fill="url(#gb)"/>
<rect x="459.1" y="54.4" width="25.8" height="23.2" fill="url(#gd)"/>
<path d="M475.1 65.1h0M480.4 66.7h0M462.7 67.1h0M462.3 65.6h0M475.5 74.9h0M481.5 59.3h0M474.6 75.5h0M479.6 66.7h0M481.4 56.7h0M461.3 58.2h0M467.2 62.3h0M464.1 72.8h0M474.7 67.3h0M464 69.6h0M469.3 62.9h0M473.8 76.1h0M475.4 70.9h0M471.5 68.2h0M464.5 66.4h0M476.7 72.3h0M480.8 62.4h0M470.2 62.6h0M472.2 60.9h0M469.2 55.6h0M477.4 55.4h0M461.6 75.7h0M467.5 70h0M476.6 57.6h0M477.2 73h0M467.4 60.4h0M483 69.3h0M467.6 58.4h0M462.8 59.5h0M462.7 58.7h0M477.7 75.5h0M462.1 59.2h0M468.3 74.5h0M474.4 75.1h0M476.1 64.7h0M468.2 63.7h0M468.3 68.3h0M480.7 71.4h0M476.9 55.9h0M469.3 60.4h0M472.2 74.5h0M469.8 75.2h0M475.3 68.3h0M462.1 61.6h0M473.1 67.2h0M466.2 67.5h0M468.8 74.2h0M477.3 71.4h0M466.4 60h0M472.7 63.1h0M477 66h0M466 71.7h0M462.3 67h0M481 57.3h0M477.5 66h0M467.8 61.7h0M480.1 72.4h0M470.4 70.8h0M481.3 69.6h0M471.3 59.6h0M472.2 66.3h0M466.1 69.6h0M472.1 73.5h0M479.1 71.6h0M480.6 75.6h0M472.3 73.1h0M464.7 62.3h0M464 62.6h0M466.5 66.1h0M477.9 56.1h0M480.9 59.2h0M483 59h0M464.1 71.9h0M467.7 69.7h0M470.8 76h0M466.5 70.9h0M475.1 63.7h0M471.3 63.3h0M462.2 56.5h0M477.7 61.5h0M480.6 59.5h0M480.1 75.5h0M465.7 70.3h0M477.5 69.8h0M473 70.3h0M463.8 64h0M479.4 58.1h0M471.2 56h0M465.6 63.6h0M469.5 72.8h0M470.7 63.6h0M482.4 74.1h0M481.5 70.8h0M477.9 60h0M467.2 73.8h0M481.4 64.1h0M461.4 60h0M471.5 57.2h0M481.3 75.1h0M468.7 56.4h0M465.5 76.2h0M474.2 57h0M466.8 73.1h0M466.4 63.9h0M479.6 76.5h0M466 76.2h0M463.6 73h0M475.4 74.9h0M463.8 61.5h0M469 61.3h0M466.2 58.3h0M468 59.1h0M478.9 60.7h0M480.3 58.7h0M475.7 56.5h0M462.3 69h0M465.1 69.6h0M479.3 68.8h0M477.2 68.9h0M480.9 69.7h0M474.5 63h0M464.7 57.9h0M472.1 55.8h0M462.6 76.5h0M467.6 75.6h0M473.7 74.3h0M466.9 61.4h0M467.1 60.5h0M475.3 57.8h0M469.4 74.2h0M464.7 74.3h0M482.6 64.9h0M479.7 65.3h0M478.9 61.5h0M469.1 57.5h0M476.9 62.8h0M463.2 76h0M470 71h0M465.2 73.8h0M464.5 55.9h0M476.7 65.4h0M472.7 72h0M470.2 65h0M480.7 61.1h0M477 58.4h0M468.1 63.6h0M477.5 75.3h0M469.9 61.4h0M471.1 56.4h0M468.4 74.2h0M482.4 68h0M477.7 59.5h0M471.1 64.7h0M465.7 63.7h0M463.4 66.7h0M479.1 61.9h0M465.1 73.3h0M479.3 64.9h0M466.7 56.4h0M470.3 63.2h0M478 63.7h0M469.7 65.3h0M473.9 62.4h0M464.7 63.6h0M464.1 65.2h0M481.9 58.7h0" stroke="#fff" stroke-width="0.9" stroke-linecap="round" fill="none" opacity="0.19"/>
<path d="M475.2 57.5h0M470.9 59.7h0M479.5 76.6h0M480.1 68.1h0M472.6 71.6h0M477.5 57.7h0M462 57.4h0M462.6 64.3h0M479.9 56.3h0M460.5 64.1h0M460.2 59.1h0M470.4 65.5h0M471 65.2h0M468.3 69.3h0M480.9 65.4h0M479.5 76.7h0M462 64.3h0M460.5 70.2h0M460.3 65.6h0M478.2 58.7h0M469.2 77.3h0M473.5 61h0M481.5 74h0M464.2 67.2h0M482.6 55.8h0M468.3 64.6h0M476.7 58.1h0M477.7 60.8h0M467.3 68.3h0M462.3 70.2h0M465.4 70.1h0M474.3 76h0M473.3 68.8h0M463.3 57.5h0M476.6 71.4h0M462.3 69.3h0M467.5 75h0M482.7 59.6h0M464.8 64.9h0M478.7 73.6h0M463.1 63.4h0M482.8 56h0M460.1 76.8h0M467.4 61.8h0M481.7 74.7h0M477.4 65.5h0M460.1 73.3h0M467.3 55.9h0M479.2 63.2h0M476.2 68.2h0M469.6 60.2h0M466.2 65h0M470.3 75.3h0M461.4 65.7h0M465.7 68h0M461.3 59h0M482.7 74.2h0M477.4 58.5h0M479.2 75.9h0M461.9 55.5h0M469.3 73h0M460.7 69.1h0M470.8 76.2h0M467.2 77.2h0M461.1 71.5h0M462.6 77.2h0M460.2 74.7h0M479.9 59h0M463.1 71.7h0M475.9 74.5h0M463.8 71h0M461.8 55.7h0M464 61.2h0M466.4 61h0M461.5 66.1h0M468 64.2h0M474 62.9h0M463.5 76.1h0M464 77.2h0M461.7 76.4h0M467.2 61.5h0M467.7 76.3h0M470.1 56.2h0M473.4 59.9h0M461.1 66.4h0M463.6 66.4h0M462.6 55.5h0M462.1 70.1h0M462 60.2h0M460.6 68.2h0M481.3 58.9h0M460.1 64.7h0M469.4 68.6h0M481.7 73.9h0M462.8 65.5h0M477.1 57.8h0M465.3 58.4h0M461.9 55.6h0M482.6 72.7h0M469 57.5h0M465.5 66.4h0M473 60.3h0M463.8 65.7h0M462.5 58h0M468.8 58.8h0M465.9 68.6h0M461.6 56.1h0M465.1 62.9h0M463 57.4h0M465.6 71.5h0M475 56.4h0M460.7 68.2h0M475.6 63.8h0M482.3 67.9h0M473 56.4h0M472.4 59.1h0M470.7 58.6h0M465 75.9h0M469.1 74.7h0M474.2 74.9h0M465 72.6h0M475.8 58.1h0M478.1 63.4h0M463.1 74.5h0M476.8 56.5h0M463 57.1h0M462.3 60.4h0M482.9 63.2h0M469.2 68.8h0M472.4 77.5h0M476.7 68.2h0M479.6 60.5h0M465.1 70.2h0M473.6 73.5h0M461.1 59.3h0M466.6 55.8h0M460.1 68.1h0M474.1 55.7h0M460.6 74.9h0M464.6 69.4h0M461.5 76.2h0M480 60.9h0M471.9 58.6h0M480.8 66.3h0M460.6 58.8h0M474.1 67.2h0M463.5 70.3h0M481.5 60.9h0M461.1 74.5h0M473.6 65.1h0M476 61.4h0M475.8 57.9h0M473.6 69.1h0M462.5 66.1h0M467.2 58.6h0M474.5 77h0M463.3 75.3h0M476.3 75h0M466.4 74.6h0M464.7 59.7h0M478.5 71.8h0M466.2 65h0M468.9 71h0M472.9 59.1h0M477.2 65.3h0M460.5 62.9h0M465.3 68.1h0M462.6 74h0M462.9 58.7h0M461.2 73.1h0M477.8 73.3h0M462.7 69.9h0M462.1 59.5h0M468.6 63.1h0M481.1 65.9h0M460.2 67.2h0M462.1 70.4h0M476.8 73.3h0M465.1 70.7h0M479.3 62.8h0M461.2 77.2h0M461.9 56.6h0M477 65h0M463.6 74h0M460.2 70.2h0M463.2 77.6h0M477 73h0M481.1 63h0M466.8 70.1h0M462.9 62.7h0M477.6 68.8h0M471 59.7h0M474.2 73h0M477.7 77.3h0M481.5 62.4h0M461.7 72.8h0M481.4 71.8h0M471.4 73.8h0M480.5 70.7h0M462.3 68.7h0" stroke="#000" stroke-width="0.9" stroke-linecap="round" fill="none" opacity="0.48"/>
<path d="M465.5 60.7 C465.9 58.8 475.1 55.2 479.8 55.2 C482.1 55.2 483 56 483 58.1 C483 61.7 483 65.3 481.7 69.3 C481 71.6 478.8 72.2 477 70.4 C473.4 66.7 465.5 63 465.5 60.7 Z" fill="#000" filter="url(#b07)" opacity="0.77"/>
<path d="M467.5 60.9 C467.8 59.3 475.4 56.3 479.4 56.3 C481.3 56.3 482 56.9 482 58.7 C482 61.7 482 64.7 481 68 C480.4 69.9 478.5 70.5 477 69 C474 65.8 467.5 62.8 467.5 60.9 Z" fill="#fff" stroke="#222" stroke-width=".5"/>
<path d="M470.7 61.2 C470.9 60.1 476 58.1 478.6 58.1 C479.8 58.1 480.3 58.6 480.3 59.7 C480.3 61.7 480.3 63.7 479.6 65.9 C479.2 67.2 478 67.5 477 66.5 C475 64.4 470.7 62.5 470.7 61.2 Z" fill="none" stroke="#555" stroke-width=".5"/>
<path d="M473.6 61.4 C473.7 60.8 476.5 59.8 477.9 59.8 C478.6 59.8 478.8 60 478.8 60.6 C478.8 61.7 478.8 62.8 478.5 64 C478.2 64.7 477.6 64.9 477 64.3 C475.9 63.2 473.6 62.1 473.6 61.4 Z" fill="none" stroke="#666" stroke-width=".5"/>
<path d="M476.1 61.6 C476.1 61.5 476.9 61.2 477.3 61.2 C477.5 61.2 477.5 61.3 477.5 61.4 C477.5 61.7 477.5 62 477.4 62.4 C477.4 62.6 477.2 62.6 477 62.5 C476.7 62.1 476.1 61.8 476.1 61.6 Z" fill="#888"/>
</g>
<g clip-path="url(#cd2)">
<path d="M484.6 46.7h0M473.9 50h0M481.8 48.2h0M478.6 52.5h0M463.2 51.4h0M474.4 49.1h0M462.7 53.4h0M480.1 51.6h0M474.1 50.4h0M472.1 53.5h0M476.8 50.1h0M480.5 52.9h0M467.8 43.7h0M479.2 48.4h0M475 52.6h0M462.9 50.3h0M484 54.2h0M485.9 51.7h0M479.3 51.1h0M473.2 53.1h0M484 39h0M473.5 43.9h0M475 45.1h0M481.2 45.6h0M477.1 51.4h0M467.7 49.3h0M481.7 50.6h0M478.6 48.7h0M468.1 52.5h0M468.4 48.6h0M486.4 46.1h0M484.8 48.1h0M465.6 53.6h0M470.8 46.4h0M461.7 48.3h0M471.8 52.1h0M486.1 47.1h0M476.7 52.8h0M477 51.9h0M476.7 49.1h0M467.6 51.8h0M466.2 52.4h0M473.7 47.5h0M480.3 50.7h0M485 50.5h0M464.1 50.4h0M482.8 45.7h0M463.8 47h0M482.9 51.5h0M479 52h0M464.5 50.1h0M482.7 52.7h0M462.8 50.8h0M471 51.8h0" stroke="#000" stroke-width="0.7" stroke-linecap="round" fill="none" opacity="0.11"/>
<path d="M486.6 55.9h0M491.5 57.2h0M487.5 55.6h0M485.5 57.7h0M500.6 66.4h0M493.2 70.5h0M495.5 57.9h0M490.8 60.4h0M486.6 61h0M491 67.8h0M488 55.5h0M488.9 56.3h0M496.8 70.5h0M492.4 55.6h0M485.1 55.4h0M487 70.8h0M491.7 65.4h0M488.2 63.9h0M485.3 67.9h0M491.8 55.8h0M490 55.7h0M492.4 70.2h0M490.4 64.4h0M487.6 56.7h0M489 56.1h0M500.3 73h0M489.4 63.9h0M491 74h0M485.5 55.9h0M486.3 62.2h0M485.8 60.5h0M485.7 57.8h0M497.2 58.3h0M489.1 55.6h0M494.6 66.6h0M494 68.4h0M495.4 55.8h0M487.4 63.9h0M486.3 64h0M492.1 67.4h0M488.9 73.3h0M486.2 65.2h0M490.1 63.5h0M490.8 58.3h0M490.7 62.5h0M490.9 64.9h0M490.8 57.2h0M485.5 68.1h0M486.5 55.6h0M490.5 68.2h0M489.4 72.4h0M492.3 58.7h0M492.6 62h0M489.5 69.8h0M485.4 69.6h0M487.6 58.7h0M492.1 71.5h0M486.4 72.5h0M485.3 70.9h0M485.4 70.3h0" stroke="#000" stroke-width="0.7" stroke-linecap="round" fill="none" opacity="0.11"/>
<path d="M484.7 50.1h0M489.9 45h0M487.6 49.2h0M499 38.5h0M491.3 48.5h0M493.8 42.3h0M496.7 45.8h0M484.1 56.1h0M492 49h0M505 38.8h0M496.2 44.5h0M489.7 46.9h0M492.8 46.9h0M486.3 54.3h0M501.6 39.7h0M491.4 49.4h0M488.4 50.5h0M484.2 54.8h0M499.5 31.8h0M484.7 55.6h0M488.3 50.4h0M493.5 43.2h0M481.2 53.9h0M495.6 41.2h0M488.1 54.9h0M485.7 51h0M492.2 49.3h0M503 38.4h0M500.4 37.2h0M487.5 50.2h0M484.6 48.7h0M495.6 46.3h0M502.8 36.2h0M492.9 45.5h0M482.3 54.9h0M482 54.3h0M485.6 49.1h0M485.1 50.9h0M484.6 53.4h0M499.1 45.9h0M506 38.4h0M482.4 54.9h0M488.4 48.9h0M501.1 36.8h0M489.7 53.1h0M502.8 34.8h0M488.3 48.1h0M496.3 45.7h0M486 45.5h0M485.7 53.5h0M491.6 51.2h0M499.3 41.3h0M497.4 44.3h0M498.6 39.1h0M503 35.9h0M496.7 42.6h0M498.5 38.7h0M482 53.8h0M486.6 49.8h0M491.3 48.1h0M501.6 41.8h0M500.2 40.2h0M497.2 42.7h0M489 49.2h0M494.9 45.8h0M488.2 48.3h0M492.2 46h0M495.9 39.4h0M497.5 37.5h0M486.5 53.1h0M489.1 47.1h0M485.9 52.2h0M489.9 51.8h0M492.2 32.5h0M482.5 55.1h0M505.5 35.2h0M482.7 55.1h0M491 47.7h0M501.3 31.7h0M490.7 48.7h0M496.7 42h0M500.3 38.7h0M501 33h0M495.8 45.4h0M489.7 46.5h0M486.3 49.7h0M489.8 48.7h0M483.1 54.9h0M485.9 55.3h0M496.9 39.2h0M495.4 45h0M503.4 34h0M493.5 44h0M485.5 50.7h0M498.7 38.8h0M503.4 36.9h0M493.5 45.6h0M486.8 51h0M503.9 36h0M499.7 33.3h0M499.3 38.5h0M498.5 43.4h0M492.3 48h0M490.2 50.5h0M486.5 49.1h0M484.3 51.3h0M482 53.6h0M503.1 33h0M497.9 40.1h0M484.3 53h0M487.6 50.9h0M500.7 36.1h0M487.2 50.5h0M483.6 56h0M504.7 34.5h0M491.5 49h0M494.9 44.4h0M488.1 51.9h0M489.3 48.9h0M483.1 54.9h0M492.4 44.1h0M487.6 50h0M486.2 54.6h0M483.6 53.3h0M498.3 45.2h0M484.4 52.2h0M492 46h0M487 41.3h0M499.5 41.1h0M496.7 45.9h0M494.9 45.4h0M484.2 50.1h0M493.7 46.2h0M502.5 38.5h0M484.6 55.2h0M501.1 38.4h0M499.1 28.2h0M484.9 52.8h0M496.1 43.3h0M487.8 53h0M499.1 40.1h0M499.6 41.7h0M499.9 35.6h0M483.7 55.6h0M497.9 37.6h0M484.9 54.7h0M482.9 52.8h0M493.7 41.8h0M490.1 49.2h0M491.9 46.5h0M491.9 43.6h0M485.8 56h0M491.7 46.3h0M501.1 38.9h0M504.2 39.4h0M501.1 38.9h0M498 33.6h0M497.8 34.2h0M493.1 38.6h0M501.4 33.6h0M484.3 51.2h0M486.3 52.9h0M496.8 40.6h0M503.1 41.4h0M482.4 52.8h0M490 44.3h0M489.1 51.1h0M505.2 37.9h0M489.3 46.1h0M494 45.3h0M497.8 39h0M494.1 42.8h0M483.5 55.7h0M497.3 43.2h0M481.4 53.1h0M498.1 39.5h0M484.9 53.3h0M487.1 51.8h0M489.2 49.9h0M483.5 51.6h0M504.8 35.8h0M501.8 34.4h0M493.8 38.4h0M482.5 54h0M496.4 37.3h0M501.6 42.1h0M482.3 54h0M484.9 51.9h0M496.1 44.1h0M487.2 45.3h0M489.7 48.4h0M496.1 42.5h0M495.3 38.1h0M497.8 38.6h0M497.7 46.6h0M498.3 40.6h0M505.7 35.6h0M502.9 39.3h0M483.7 53.9h0M496 40.6h0M498 44.3h0M493.7 37.4h0M494.3 47.9h0M492.7 51.7h0M499.5 43.9h0M495.4 40h0M492.5 41.6h0M492 46.6h0M494.4 43.1h0M499.3 37.6h0M496.6 34.8h0M491.3 47.8h0M484.1 54.8h0M484.6 51.9h0M495.5 47.2h0M483.1 52.9h0M497.4 39.8h0M488 52.6h0M488 53.1h0M497.2 39.1h0M496.3 40.5h0M485.9 50.9h0M481.9 52.3h0M493.5 47.4h0M488.7 49.4h0M492.2 42.7h0M492.6 35.7h0M493.4 45h0M501.7 37.9h0M492.8 47h0M484.3 56h0M496.9 43.2h0M499.2 41.7h0M486.7 51h0M487.8 53.1h0M491.4 35.3h0M499.6 35.5h0M489.1 47.3h0M499.9 44.9h0M498.8 32.5h0M484.8 51.2h0M489.6 43.2h0M487.7 50.6h0M489.9 47.4h0M487.1 52.6h0M496.5 44.4h0M483.5 55.8h0M490.4 42.4h0M494.8 43.2h0M483 56h0M504.9 37.3h0M483.8 54.3h0M487.8 48.9h0M490.6 45.1h0M499.3 37.1h0M495.6 44h0M487.7 54.8h0M496.5 40.9h0M485 51.8h0M489.5 47h0M496.2 43.1h0M483 50.6h0M497.6 34.8h0M503.1 40.2h0M489.8 47.6h0M493.5 49.5h0" stroke="#000" stroke-width="0.8" stroke-linecap="round" fill="none" opacity="0.26"/>
<path d="M483.6 54.4L502.4 35.6" stroke="#000" stroke-width="4" stroke-linecap="round" opacity="0.1" filter="url(#b2)"/>
</g>
<rect x="459.1" y="28.4" width="50.3" height="49.2" fill="none" stroke="#888" stroke-width=".9"/>
<path d="M483.7 28.4V77.6M459.1 54.4H509.4" stroke="#1a1a1a" stroke-width=".8" fill="none"/>
<path d="M459.6 53.4V77.2H484.7" stroke="#000" stroke-width="2.3" fill="none"/>
<path d="M459.1 28.4V54.4" stroke="#333" stroke-width="1" fill="none"/>
<path d="M483.7 77.4H509.4" stroke="#666" stroke-width="1" fill="none"/>
<text x="460.4" y="34.1" font-size="6.4" text-anchor="start" font-weight="bold">0.3</text>
<text x="485" y="34.1" font-size="6.4" text-anchor="start" font-weight="bold">0.8</text>
<text x="459.7" y="76.9" font-size="6.4" text-anchor="start" font-weight="bold" style="stroke:#fff;stroke-width:1.3px;fill:#fff" opacity=".55">98.4</text>
<text x="459.7" y="76.9" font-size="6.4" text-anchor="start" font-weight="bold">98.4</text>
<text x="508.9" y="76.9" font-size="6.4" text-anchor="end" font-weight="bold">0.5</text>
</g>
<g>
<clipPath id="cd3"><rect x="401.8" y="103" width="50.8" height="49.6"/></clipPath>
<clipPath id="qd3"><rect x="401.8" y="128.8" width="25.9" height="23.8"/></clipPath>
<g clip-path="url(#qd3)">
<rect x="401.8" y="128.8" width="25.9" height="23.8" fill="#000" opacity="0.6"/>
<rect x="401.8" y="128.8" width="25.9" height="23.8" fill="url(#gq)"/>
<rect x="401.8" y="128.8" width="25.9" height="23.8" fill="url(#gb)"/>
<rect x="401.8" y="128.8" width="25.9" height="23.8" fill="url(#gd)"/>
<path d="M408.5 145.7h0M407 134.8h0M415.8 135.5h0M405.7 144.6h0M417.5 143.7h0M409 147.5h0M406.9 145.7h0M413.7 141.2h0M407.5 136.9h0M403.8 136.3h0M409 150.6h0M416.6 150h0M421.5 132.5h0M407.2 145.8h0M405.4 145.1h0M406.2 129.9h0M425.5 141.1h0M411.7 139h0M419.4 146.4h0M415.6 147.5h0M417.1 136.4h0M404.2 145.8h0M419.5 140.3h0M405.9 148.1h0M418.9 150.5h0M415.2 142.9h0M406.5 144.3h0M416.4 146.5h0M422.1 149.7h0M414.7 143.8h0M417.7 140.2h0M406.2 149.2h0M424 146.1h0M409.5 142.8h0M404 151.1h0M413.2 143.3h0M409.6 134.3h0M418.8 133.9h0M419.1 150.6h0M411.2 136.2h0M409.7 145.1h0M412.2 132.8h0M417 148.5h0M408.1 139.8h0M419.2 136.9h0M406.8 150.4h0M409.5 138.6h0M408.9 145.6h0M425.9 132.7h0M426.4 150.5h0M426.1 133h0M425.8 137.4h0M422.2 139.2h0M420.8 140.7h0M418.5 148.6h0M421.8 133.5h0M411.6 135.6h0M426 134.9h0M410.9 143.4h0M407.9 148.1h0M418.9 142h0M418.1 148.6h0M406.2 136.3h0M407.3 142.1h0M408.4 141.6h0M418.5 136.3h0M423.8 145.8h0M405.2 149.9h0M424.5 149.4h0M418.7 139.8h0M411 133.9h0M420.7 140.4h0M423.2 144.8h0M409.4 144.8h0M417.4 147.4h0M405.8 133.4h0M415.9 131.3h0M420.4 140.8h0M413.8 144h0M421 131h0M413.1 138.6h0M412.3 151.1h0M404.4 145.1h0M420 131.2h0M422.8 149.4h0M422 150.8h0M405.1 132.3h0M416.5 148.7h0M409.5 146.5h0M410.9 149.7h0M406.5 143.5h0M405.9 151.3h0M419.4 147.6h0M415 133.1h0M411.1 147.5h0M405.7 130h0M412.2 141.4h0M413.9 144.8h0M407.3 150.3h0M404.3 141.4h0M414.6 145h0M413.1 138.9h0M423.8 131.8h0M408.6 151.2h0M415.4 145.2h0M418.3 140.2h0M414.7 134.8h0M416.6 133.8h0M411.7 147.9h0M407.7 141.7h0M423.4 147.4h0M418.9 147.2h0M404.5 135.8h0M417.5 139.6h0M412.6 150.1h0M422.3 132.3h0M417 150.7h0M423.1 133h0M420.6 144.9h0M418 137.2h0M424.7 143.4h0M404.4 133.1h0M408.3 139h0M406.2 135.4h0M407.4 140.6h0M416.3 141.3h0M421 151.4h0M406.5 130.4h0M424.2 136.8h0M424.8 142.7h0M404.5 133.9h0M405.9 139.2h0M418.8 135.9h0M422.8 130.2h0M413.6 142.2h0M422.8 134.9h0M410.3 143.4h0M408.7 143h0M415.2 138.1h0M415.1 130.8h0M425.1 148.6h0M405.3 145.9h0M423.6 151.4h0M423.7 143.3h0M414.3 138.5h0M407.1 147.6h0M417.4 145.3h0M421.3 132h0M405.4 139.4h0M423.4 147.5h0M404.9 132.2h0M405.9 134.1h0M418.8 137.6h0M419.5 146.1h0M412.8 130h0M414.5 133.9h0M412.1 146.6h0M422.6 144.9h0M409.9 148.8h0M411.2 151.5h0M421.1 130.4h0M415.6 151.1h0M414.5 147.2h0M412.2 143.4h0M406.3 145h0M407.4 150.6h0M407.9 130.6h0M406.3 141.2h0M416.4 137.8h0M422.6 143.1h0" stroke="#fff" stroke-width="0.9" stroke-linecap="round" fill="none" opacity="0.19"/>
<path d="M410.8 131h0M403.5 139.8h0M404.8 138.1h0M406.5 138.8h0M403 149.9h0M415.9 142.8h0M409 130.5h0M421.5 149.3h0M417.9 145.6h0M403.2 131.3h0M420.6 139h0M403.5 138h0M421.5 134h0M407.2 142h0M414.7 135h0M409.5 147.9h0M417.9 133.8h0M423.6 131.6h0M418.6 137.8h0M403.4 146.3h0M423.5 133.3h0M403.9 140.6h0M418.5 131.9h0M405.3 144.1h0M403.9 144.6h0M420.2 149.5h0M419.6 150.5h0M421.1 152h0M412.5 144.1h0M404.6 148.1h0M408.6 148.3h0M425.7 132.5h0M405.1 137.4h0M407.5 143.8h0M403.7 138h0M426.5 144.7h0M411.6 143.8h0M415.9 150.6h0M418 140.6h0M416.7 145.4h0M419.6 147.8h0M405.5 142.3h0M404.1 147.7h0M411 145.4h0M406.5 139.7h0M403.9 152.6h0M403.7 148.3h0M403 130.9h0M403.9 151h0M425.1 144.9h0M420.9 135.1h0M403 131h0M404.7 130.4h0M414.3 150.7h0M403.3 151.2h0M403.4 149.9h0M415.9 130h0M410 149.3h0M415.4 138.5h0M416.8 139h0M407 131.7h0M415.8 147.4h0M408.9 136.9h0M402.8 135.1h0M405.1 138.4h0M405.6 140h0M414.7 132.3h0M421.8 132.8h0M408.9 140.7h0M419.5 152.6h0M416.4 131.3h0M417.9 139.4h0M420 142.8h0M404.4 137.1h0M403.8 152.1h0M422.1 132.2h0M415.5 137.2h0M405.2 137.9h0M418.5 131.2h0M417 138h0M402.8 136.5h0M413.8 134h0M410 137.7h0M407.2 133.5h0M423 144.6h0M424.2 137.7h0M405.4 144.7h0M422.9 140h0M403 146.8h0M425.3 141.6h0M425.2 145h0M411.9 131.2h0M404 130.6h0M405.5 151.4h0M422.8 142.9h0M415.5 141h0M407.6 140.8h0M422.9 135.9h0M405.4 138.4h0M406.7 142.6h0M402.8 141.6h0M423.5 140.7h0M402.8 139.7h0M404 131.4h0M419.4 143.1h0M405.3 137.7h0M419.4 150.3h0M415.7 146.2h0M409.1 143.3h0M424.4 151.2h0M415.9 142.9h0M422.1 133.2h0M404.1 138.6h0M418.3 152.4h0M405.2 134.5h0M413.5 140.9h0M425 152h0M402.8 132.6h0M402.8 135.9h0M416.6 152.4h0M421.4 151.8h0M416.8 130.5h0M424.7 146.5h0M410.1 145.2h0M403.8 132.6h0M404.5 131.8h0M406.6 130.6h0M403.1 134.6h0M419.9 140.8h0M407.5 148.9h0M411.5 139.5h0M405.3 139.3h0M422.9 149.9h0M414.4 130h0M416.9 151.4h0M416.9 132.5h0M421 147.5h0M409.2 131.3h0M406 150.5h0M404 142.2h0M403 144.6h0M416.9 149.3h0M425.5 138.7h0M402.9 134h0M402.8 133.7h0M411.6 138.4h0M403.6 136.5h0M403.7 132.3h0M419.3 131.5h0M412.2 135.1h0M403.1 134.7h0M404 141.5h0M423.7 132.1h0M403.7 145.7h0M405 138.9h0M403.2 134.3h0M421.3 138.8h0M410 129.9h0M414.3 147.5h0M410.8 133.5h0M403 150.8h0M402.9 140.6h0M404.9 151.6h0M419.8 130.3h0M422.9 140.7h0M423.3 138.5h0M410.3 146.6h0M408.9 141.6h0M413.8 150.1h0M411.9 142.2h0M416.5 150.8h0M404.1 140.3h0M406.1 145h0M407.6 135h0M414.1 150.2h0M417.6 132.1h0M407.5 142.4h0M409.6 133.9h0M407.8 137.7h0M411.6 145.4h0M420.5 133.1h0M422.1 147.1h0M406.4 150h0M408.7 131.7h0M407.6 140.7h0M404.7 132.4h0M402.8 143.5h0M404.5 144.7h0M419.1 136.9h0M411.7 150.6h0M409.8 151.4h0M424 139.7h0M409.1 152.3h0M411.2 140.8h0M425.5 146.3h0M404.4 138.3h0M403 145.9h0M402.9 137.9h0M423.5 137.4h0M409.3 146.7h0" stroke="#000" stroke-width="0.9" stroke-linecap="round" fill="none" opacity="0.48"/>
<path d="M409.1 136.1 C409.4 133.9 418.2 130 422.7 130 C424.9 130 425.7 130.9 425.7 133.2 C425.7 137.2 425.7 141.1 424.5 145.5 C423.9 148 421.7 148.7 420.1 146.7 C416.6 142.6 409.1 138.6 409.1 136.1 Z" fill="#000" filter="url(#b07)" opacity="0.77"/>
<path d="M410.9 136.3 C411.2 134.5 418.5 131.2 422.3 131.2 C424.1 131.2 424.8 131.9 424.8 133.9 C424.8 137.2 424.8 140.5 423.8 144.1 C423.2 146.2 421.5 146.8 420.1 145.1 C417.2 141.7 410.9 138.4 410.9 136.3 Z" fill="#fff" stroke="#222" stroke-width=".5"/>
<path d="M414 136.6 C414.2 135.4 419.1 133.2 421.5 133.2 C422.7 133.2 423.2 133.7 423.2 135 C423.2 137.2 423.2 139.4 422.5 141.7 C422.2 143.1 421 143.5 420.1 142.4 C418.2 140.1 414 138 414 136.6 Z" fill="none" stroke="#555" stroke-width=".5"/>
<path d="M416.8 136.9 C416.9 136.2 419.5 135 420.9 135 C421.5 135 421.8 135.3 421.8 136 C421.8 137.2 421.8 138.4 421.4 139.7 C421.2 140.4 420.6 140.6 420.1 140 C419 138.8 416.8 137.6 416.8 136.9 Z" fill="none" stroke="#666" stroke-width=".5"/>
<path d="M419.2 137.1 C419.2 136.9 419.9 136.6 420.3 136.6 C420.5 136.6 420.5 136.7 420.5 136.8 C420.5 137.2 420.5 137.5 420.4 137.9 C420.4 138.1 420.2 138.1 420.1 138 C419.8 137.6 419.2 137.3 419.2 137.1 Z" fill="#888"/>
</g>
<g clip-path="url(#cd3)">
<path d="M424.6 125.8h0M407.7 128.4h0M427.7 119.7h0M409.5 124.1h0M416.1 120.9h0M405.3 128.5h0M423.9 126h0M423.5 126.9h0M409.2 128.8h0M412.2 124.9h0M403.9 125.8h0M408.7 125.1h0M405.6 124h0M407.3 121.1h0M420.6 125.3h0M426.2 126.9h0M404.1 127.3h0M420 127.7h0M416.9 121.3h0M409.1 121.8h0M415.6 127.1h0M426 128h0M404.5 126.6h0M405.5 122.6h0M425.6 126.6h0M428.8 126.8h0M414.5 127.1h0M417.6 127.7h0M423.9 124.8h0M415.1 123h0M407.8 120.8h0M404.5 120.5h0M404.9 127.5h0M412.7 121.9h0M424.2 126.7h0M412.1 121.9h0M421 128.1h0M406.4 127.7h0M424.6 127.9h0M429.2 121.5h0M409.6 127.1h0M418.5 128.4h0M406.9 128.1h0M413.3 125.2h0M426.6 127.7h0M404 127h0M410.2 127.8h0M424.8 122.8h0M408.4 128.2h0M422.3 123.5h0M421.7 121.1h0M405.9 123.1h0M411.3 127.6h0M422.4 122h0" stroke="#000" stroke-width="0.7" stroke-linecap="round" fill="none" opacity="0.11"/>
<path d="M439.7 130.3h0M436 133.5h0M432.9 146.9h0M428 141.4h0M432.5 143.3h0M432.4 131.1h0M443.5 144.8h0M430.8 139.9h0M434.6 147.7h0M429.3 149.3h0M431.4 149.5h0M429.4 137.3h0M434.1 140.8h0M431.6 132h0M431.6 139.9h0M428.5 143h0M428.4 137.2h0M436.9 145.3h0M430 140.5h0M433.2 145.1h0M428.2 148.5h0M432.2 130.4h0M430.5 132.5h0M435.2 143.6h0M437.1 129.9h0M434.8 130.9h0M432.3 138.5h0M428.5 140h0M432.3 136.4h0M434.5 130h0M436.7 135.5h0M428.4 138.7h0M445.2 143.6h0M433.9 130.3h0M431.1 130.1h0M429.8 137.6h0M430.2 129.9h0M430.3 130.1h0M430.1 134.9h0M441.8 143.2h0M430.8 147.1h0M432.3 132.2h0M430.6 130.6h0M436.9 139.5h0M435.2 139.1h0M431.6 134.3h0M430.3 137h0M440.2 131.5h0M441.1 136.9h0M432.3 139.3h0M433.6 129.8h0M428.6 132.4h0M428.3 135.2h0M440.9 136.7h0M431.9 142h0M428.7 135.2h0M436.1 137.9h0M429.5 137.4h0M434.6 142.4h0M435.9 135h0M430.4 146.3h0M432.6 148.9h0M436.2 145.9h0M430.8 147h0M433.1 130.7h0M433.9 146.6h0M433.5 148.7h0M431.1 129.8h0M437.8 135.3h0M438.7 133.9h0M431.5 136.2h0M437.8 133.8h0M427.9 136.3h0M435.3 132.1h0M432.5 135.2h0M434.3 140.4h0" stroke="#000" stroke-width="0.7" stroke-linecap="round" fill="none" opacity="0.11"/>
<path d="M437.1 124.9h0M440.8 115.6h0M442.1 110.9h0M430.3 127.8h0M445.9 114h0M440.7 116.1h0M430.9 128.1h0M428.2 127.8h0M434.1 117.8h0M437.9 117.8h0M437.3 118.5h0M442.7 109.8h0M434.9 125.6h0M441 107.2h0M432 123.3h0M430.2 128.4h0M429.9 125.8h0M441.8 118.9h0M438.6 118.4h0M446.5 116.2h0M438.4 115.3h0M440 119.2h0M442.6 114h0M436.3 122.2h0M435.2 120.4h0M431 129.3h0M426.6 128.4h0M447.5 111.7h0M436.3 117.7h0M435 116h0M425.5 127.4h0M430.2 125.2h0M426.8 127.5h0M436.1 118h0M439.7 112.7h0M441.9 109.7h0M433.3 120.6h0M442.7 117.6h0M438.9 119.5h0M430.2 126h0M441 117.8h0M428.8 126.9h0M434.4 118.6h0M434.9 119.7h0M448.1 122h0M436.8 119.2h0M426.4 130.4h0M434.8 117.9h0M428.7 130.1h0M430.6 119.5h0M437.6 112.1h0M431.3 125.5h0M445.8 110.6h0M440.9 114.7h0M441.7 121.1h0M425.9 130.3h0M437.2 117.8h0M433.6 119.9h0M431.5 125h0M430.6 125.1h0M432.3 128.6h0M438.3 114.6h0M436 117.2h0M442.1 114h0M431.1 126.1h0M426.5 130.6h0M430.8 126.4h0M436.5 120.5h0M427.7 126.5h0M427.2 127.9h0M435.5 115.4h0M444.9 119.2h0M440.3 114.7h0M426.8 128h0M430.8 126.5h0M440.9 115.7h0M445 119.8h0M447.4 120.7h0M437 117.6h0M442 111.1h0M442.7 114.2h0M445.7 111.1h0M444.6 107.6h0M444.3 115.7h0M427.6 126.9h0M442.7 120.1h0M433.2 117.7h0M433.3 124.6h0M443.9 115.4h0M430.3 124.4h0M432.2 126.8h0M425.8 128h0M426.8 126.4h0M425.5 127.8h0M434.3 121.4h0M444.6 117.9h0M444.2 110.8h0M443.7 112.8h0M426.7 128.6h0M429.6 125.4h0M429.9 127.9h0M430 129.9h0M431.9 118.8h0M438.6 119h0M427 124.7h0M434.7 115.2h0M426.7 130.9h0M435.7 126.9h0M439.5 116.5h0M426.4 128.2h0M443.5 113.7h0M438 116.3h0M436.8 123.2h0M436.8 118.6h0M437.6 118h0M432.1 122.3h0M430.3 126.2h0M430.1 130.8h0M437.5 122h0M441.3 119.1h0M429.2 120.9h0M434.7 124.3h0M431 123.7h0M426.5 130.8h0M427.4 129.9h0M434.6 117h0M434.8 122h0M426.9 128.5h0M428.8 128.5h0M424.7 127.5h0M436 125.5h0M431.6 125.9h0M428.8 127.4h0M438 127h0M441.3 112.9h0M428 127.5h0M439.6 115.9h0M437.2 118.8h0M435.2 118.5h0M442.3 113.3h0M427.3 129.8h0M427.4 127.2h0M426.9 128.7h0M425.6 128.2h0M439.4 117.4h0M438.6 119.1h0M428.9 126.2h0M426.8 127.5h0M425.7 130.2h0M441.8 118.7h0M435.8 125.4h0M428.7 126.5h0M439.5 119.5h0M430.5 126.6h0M428.6 123h0M427.7 126.8h0M426.3 129.7h0M438.1 115.3h0M434.3 116.3h0M427 128.2h0M440.7 117.3h0M434.6 122.3h0M448.7 120.2h0M445.1 109.6h0M425.1 129.4h0M429.4 128.3h0M435 117.3h0M445.3 110.1h0M439.3 119.3h0M440 118.8h0M429.6 125.7h0M441.9 115.7h0M444.9 119.1h0M436.7 122.9h0M431.7 118h0M430.5 123h0M427 130.5h0M433.6 123.7h0M428.9 127.4h0M442.4 112.7h0M435.7 125.6h0M438.4 121h0M428.9 129h0M427.8 132.3h0M426.6 128.2h0M427.9 122.7h0M445.1 111.7h0M448.8 111.8h0M423.4 125.5h0M448.2 111.8h0M433.8 122h0M433.1 121.7h0M429.6 125.7h0M435.4 115.7h0M426.5 129.4h0M433.3 121.7h0M439.5 120.4h0M433 121.5h0M438.5 116.6h0M444.5 108.6h0M437.2 121.3h0M434.3 117.2h0M429.7 118.9h0M443.2 112h0M444 115.8h0M436.2 123.8h0M437.7 115h0M426.6 129.1h0M425.3 128.6h0M426.6 128.4h0M427.9 128.9h0M428.7 126.4h0M436.5 119.1h0M432.5 122.2h0M446.1 112h0M431.5 127.8h0M443.6 108.9h0M428.4 127.5h0M427 127.8h0M435.2 129.6h0M441.5 112.3h0M440 120h0M441.8 109.3h0M433.6 118.2h0M431 124.2h0M428.1 129.2h0M441 117.6h0M447 116.2h0" stroke="#000" stroke-width="0.8" stroke-linecap="round" fill="none" opacity="0.26"/>
<path d="M426.6 129L445.3 112" stroke="#000" stroke-width="4" stroke-linecap="round" opacity="0.08" filter="url(#b2)"/>
</g>
<rect x="401.8" y="103" width="50.8" height="49.6" fill="none" stroke="#888" stroke-width=".9"/>
<path d="M426.5 103V152.6M401.8 128.8H452.6" stroke="#1a1a1a" stroke-width=".8" fill="none"/>
<path d="M402.3 127.8V152.2H427.5" stroke="#000" stroke-width="2.3" fill="none"/>
<path d="M401.8 103V128.8" stroke="#333" stroke-width="1" fill="none"/>
<path d="M426.5 152.4H452.6" stroke="#666" stroke-width="1" fill="none"/>
<text x="403.1" y="108.7" font-size="6.4" text-anchor="start" font-weight="bold">0.4</text>
<text x="427.8" y="108.7" font-size="6.4" text-anchor="start" font-weight="bold">0.6</text>
<text x="402.4" y="151.9" font-size="6.4" text-anchor="start" font-weight="bold" style="stroke:#fff;stroke-width:1.3px;fill:#fff" opacity=".55">98.4</text>
<text x="402.4" y="151.9" font-size="6.4" text-anchor="start" font-weight="bold">98.4</text>
<text x="452.1" y="151.9" font-size="6.4" text-anchor="end" font-weight="bold">0.6</text>
</g>
<g>
<clipPath id="cd4"><rect x="458.9" y="103" width="50" height="49.6"/></clipPath>
<clipPath id="qd4"><rect x="458.9" y="128.8" width="26.5" height="23.8"/></clipPath>
<g clip-path="url(#qd4)">
<rect x="458.9" y="128.8" width="26.5" height="23.8" fill="#000" opacity="0.6"/>
<rect x="458.9" y="128.8" width="26.5" height="23.8" fill="url(#gq)"/>
<rect x="458.9" y="128.8" width="26.5" height="23.8" fill="url(#gb)"/>
<rect x="458.9" y="128.8" width="26.5" height="23.8" fill="url(#gd)"/>
<path d="M461.8 137h0M481.4 138.3h0M472.7 143.1h0M464.1 151.3h0M469.3 142.7h0M461.5 137.9h0M484 146.2h0M464.7 148.4h0M467.9 132.4h0M470.2 132.6h0M467.6 140.6h0M480.3 145.7h0M483.6 133.5h0M461 138h0M482.4 142.1h0M475.9 139.8h0M465.7 137.6h0M463.3 130.5h0M463 148.1h0M469.7 136.2h0M476.6 145.9h0M463.1 138.7h0M473.7 148.7h0M477.5 146.8h0M476.1 134.2h0M461.7 151.3h0M481.1 141.9h0M480 140.9h0M466.5 137.3h0M473.6 141.4h0M467.5 140.7h0M475.3 147.2h0M481.6 132.1h0M478.9 148.9h0M476.3 130h0M461 148.6h0M468.7 149.4h0M472.7 144.8h0M475.4 145.1h0M482.2 147.2h0M461 143.8h0M482.8 140.2h0M472.4 136.9h0M479 141.7h0M467.2 130.9h0M474 149.4h0M463.1 133.8h0M466.7 142.4h0M468.6 136.4h0M463 132.6h0M473.1 149.4h0M470.7 148.6h0M464.6 135.2h0M474.6 151.2h0M463.5 140.8h0M479.4 136.8h0M480.5 146.4h0M472.4 150h0M477.7 131.3h0M483.4 140.4h0M467.6 134.8h0M478.1 138.8h0M462.9 131.5h0M466.2 138.1h0M470.1 140h0M464.6 136.4h0M477.2 135.3h0M468.8 147.9h0M464 150.2h0M464.3 149.7h0M461.5 144.1h0M463.1 141.8h0M463.8 147.5h0M461.6 137.5h0M473.3 129.9h0M472.5 142.2h0M469.2 142.4h0M481.9 133.7h0M478.8 133.4h0M470.3 140.4h0M476.5 132.7h0M473.5 148.9h0M477.3 135.1h0M462.7 141.7h0M463.6 141.5h0M476.9 134.4h0M470.9 145.6h0M483.4 148.8h0M477.3 146.4h0M481.1 138.7h0M470.5 131.6h0M476.9 136.2h0M468 147.9h0M482.2 139h0M463.4 132.7h0M462 147.6h0M462.4 142.1h0M470.1 146.4h0M481.5 135h0M469.7 130.8h0M475.8 131.1h0M471.4 150.7h0M474.3 143.1h0M482.3 132.2h0M482.4 143.9h0M473.3 140.1h0M483.9 139.1h0M472.6 131.5h0M471.7 132.5h0M464.7 144h0M469.7 150.7h0M467.7 135.2h0M470.4 149.7h0M467.5 130.4h0M476.9 142.4h0M463.5 137.5h0M464 143.5h0M479.4 134.7h0M470.5 136.1h0M470.7 150h0M474.7 138.3h0M479.7 142.6h0M474.3 144h0M468 146.1h0M476.4 150.4h0M476.9 145h0M462.7 143.6h0M477.8 145.2h0M478.8 145.3h0M475.5 136.1h0M466.7 133.9h0M476.5 142.6h0M475.4 150.3h0M463.5 131.1h0M480.9 146.6h0M464.8 148.1h0M477.1 138.6h0M479.8 151.5h0M480.9 150.2h0M468.9 147.1h0M469 133h0M476.8 132h0M461.7 140.5h0M478.8 133.8h0M475.5 132.1h0M483.8 139h0M475.3 142.5h0M467.8 138.4h0M463.6 134h0M481.7 143.8h0M482.7 143.9h0M480.1 135.1h0M477.8 150.5h0M461.1 146.6h0M466.6 134.2h0M483.1 132.6h0M478.8 138.8h0M461.1 130.3h0M478.2 144.2h0M484.1 142h0M474.5 151.2h0M469.2 132.4h0M472.4 150.8h0M475.1 147.6h0M460.9 135.5h0M465.4 135.7h0M473 145.5h0M481.7 142.3h0M461 145.5h0M471.2 146.4h0" stroke="#fff" stroke-width="0.9" stroke-linecap="round" fill="none" opacity="0.19"/>
<path d="M467.3 150.6h0M475.4 142.4h0M474.4 136.3h0M465.2 140.9h0M480.4 143.3h0M466.2 142.3h0M482.4 151.1h0M462.1 152.5h0M463.1 148.8h0M481.4 144.2h0M461.6 130.6h0M482.4 133.1h0M460.5 132.2h0M477.6 144h0M472.6 145.9h0M470.9 152h0M465.7 143.5h0M476.1 140.3h0M474 139.9h0M480.6 141h0M464 138.5h0M462.6 144.6h0M471.8 145.2h0M470.6 147.2h0M469.1 133.6h0M460.5 147.6h0M460.9 142.5h0M463.7 152.3h0M466.1 132.4h0M476.1 138.8h0M462.9 138.6h0M461.2 131h0M472.9 141.7h0M463.3 140.1h0M466.2 135.4h0M464.2 141.7h0M468.2 145.5h0M461.6 145.1h0M466.8 130.4h0M481.6 146.8h0M465.5 136.3h0M480.9 150.1h0M462.3 131.5h0M461.2 151.6h0M478.3 151h0M463.7 140.9h0M465.9 133.5h0M476.5 149.5h0M469.6 134.3h0M460.4 151.8h0M479.2 141.8h0M466.8 141.9h0M469.3 131.3h0M473.5 135.6h0M461.6 145.8h0M466.1 133.9h0M471.6 150.4h0M481 143.3h0M475.5 149.6h0M460 143.9h0M480.3 135.9h0M465 132.9h0M460.1 142.7h0M462.3 149.2h0M466.2 132.7h0M468.7 135h0M474.1 143h0M477.3 136.6h0M465.2 135.6h0M477.5 152h0M482.8 149.6h0M478.3 146h0M466.3 142.4h0M476.1 151.4h0M464.2 137.3h0M459.9 150h0M462.8 147.4h0M462.2 138.8h0M476.6 150h0M475.4 148.4h0M473.5 147.7h0M460.9 146.1h0M468.7 132.9h0M467 139.6h0M461.1 142.3h0M465.6 148.1h0M468.2 137.9h0M474.8 142.5h0M478.2 150.9h0M467.1 132.6h0M475.1 149.3h0M479.6 132.7h0M462.1 145.6h0M468.5 132.6h0M461.5 133h0M483.6 146.8h0M474.3 150.2h0M465.9 132h0M463.8 133.6h0M467.4 139.3h0M484.1 152.6h0M471.3 131.4h0M461.4 152.3h0M482.4 132.8h0M467.6 146.8h0M463.8 132.8h0M460.6 132.9h0M461.5 136h0M471.2 141.5h0M460.8 146.5h0M471.9 143.7h0M465.7 140.5h0M473.2 133h0M464.3 150.5h0M469 131h0M476.1 142.8h0M460.5 137.4h0M460.4 147.1h0M463.6 152h0M467.6 139.4h0M460.9 130.8h0M460.9 135.5h0M483.7 137h0M477.9 132.9h0M460.2 131.3h0M464 136.1h0M460.1 130.6h0M460 130.3h0M462 151.8h0M462.6 137.7h0M464.7 152.4h0M460.7 144.8h0M460.3 151.3h0M474.1 144.2h0M472 152.4h0M470.7 150.1h0M478.8 151.2h0M461.7 146.3h0M479.7 148h0M460 130.3h0M474.1 137.4h0M478 145.1h0M460.6 139h0M474.9 142.1h0M481.8 137.9h0M463.2 146.9h0M464.2 143.8h0M461.2 142.7h0M470.2 134.6h0M466.3 143.4h0M476.1 140h0M470.3 141.4h0M481.6 138.3h0M475.5 133.4h0M460.4 146.1h0M482.1 142.3h0M468.5 140.8h0M460.3 147.6h0M461.7 151.9h0M480 135.3h0M477.9 133h0M476 139.2h0M470.6 152.1h0M482.8 139h0M468.2 138.1h0M460.8 136.7h0M460 133.6h0M477.9 132.8h0M460.3 147.9h0M475.3 150.3h0M464.3 136h0M474.5 146.9h0M460.2 131.9h0M462.3 137.9h0M464.2 151.2h0M482.6 149.4h0M483.8 139.5h0M468.3 142.1h0M467.5 141.4h0M464.6 144.9h0M474.6 150.8h0M461 145.3h0M483.1 149.2h0M462.4 138.5h0M466.7 149.8h0M479.7 130.1h0M480.8 130.1h0M473.6 137.5h0M479.4 139.8h0M462.3 136.7h0M476.9 144.4h0M466.8 138.7h0M482.4 146.2h0M471.8 136.6h0M464.3 135.7h0M477.6 148.4h0M462.3 134.7h0M476.2 130.8h0M474.2 143h0M467.4 140.4h0" stroke="#000" stroke-width="0.9" stroke-linecap="round" fill="none" opacity="0.48"/>
<path d="M465.6 135.7 C465.9 133.7 475.1 130.1 479.8 130.1 C482 130.1 482.9 130.9 482.9 133.1 C482.9 136.7 482.9 140.3 481.7 144.3 C481 146.6 478.8 147.3 477 145.5 C473.4 141.7 465.6 138 465.6 135.7 Z" fill="#000" filter="url(#b07)" opacity="0.77"/>
<path d="M467.5 135.9 C467.8 134.2 475.4 131.2 479.3 131.2 C481.2 131.2 481.9 131.9 481.9 133.7 C481.9 136.7 481.9 139.7 480.9 143.1 C480.3 145 478.5 145.5 477 144 C474 140.8 467.5 137.8 467.5 135.9 Z" fill="#fff" stroke="#222" stroke-width=".5"/>
<path d="M470.7 136.2 C470.9 135.1 476 133.1 478.5 133.1 C479.8 133.1 480.3 133.5 480.3 134.7 C480.3 136.7 480.3 138.7 479.6 140.9 C479.2 142.2 478 142.5 477 141.5 C475 139.4 470.7 137.4 470.7 136.2 Z" fill="none" stroke="#555" stroke-width=".5"/>
<path d="M473.6 136.4 C473.7 135.8 476.4 134.7 477.9 134.7 C478.5 134.7 478.8 135 478.8 135.6 C478.8 136.7 478.8 137.8 478.4 139 C478.2 139.7 477.5 139.9 477 139.3 C475.9 138.2 473.6 137.1 473.6 136.4 Z" fill="none" stroke="#666" stroke-width=".5"/>
<path d="M476.1 136.6 C476.1 136.5 476.9 136.1 477.3 136.1 C477.4 136.1 477.5 136.2 477.5 136.4 C477.5 136.7 477.5 137 477.4 137.3 C477.4 137.5 477.2 137.6 477 137.4 C476.7 137.1 476.1 136.8 476.1 136.6 Z" fill="#888"/>
</g>
<g clip-path="url(#cd4)">
<path d="M475.2 127.6h0M480.7 122.4h0M461.9 128.2h0M485.2 123.3h0M479.6 117.4h0M478.5 119.5h0M475.6 127.5h0M467.8 115.3h0M475.1 121.7h0M486.6 123.6h0M483.1 120.9h0M470.7 125.3h0M480.1 127.7h0M478.1 122.2h0M464.5 128.7h0M469.8 124.9h0M464.4 126.6h0M465.8 123.3h0M477.1 128.3h0M467 113.5h0M477.4 124h0M469.3 126.1h0M472.1 127.4h0M482.2 124h0M479 115.8h0M476.5 122.3h0M487.2 128.7h0M461 120.1h0M463.7 125.3h0M478 126.2h0M472.2 124.6h0M467.3 126h0M464.3 128.2h0M464.4 128.7h0M479.4 126.7h0M484.8 128.8h0M482.7 124.2h0M476.7 128h0M472.6 124.5h0M461.2 126.8h0M469 127.4h0M462.8 121h0" stroke="#000" stroke-width="0.7" stroke-linecap="round" fill="none" opacity="0.11"/>
<path d="M501.8 141.1h0M487.6 134.7h0M494.6 141.5h0M496.9 138.1h0M489.2 137.4h0M499.2 130.2h0M493.2 143h0M502.3 141.6h0M491.4 134.5h0M488.7 138.5h0M497.2 129.9h0M488.8 134.8h0M496.3 130h0M495.2 131h0M485.3 137.6h0M498.2 133.1h0M492.6 146.5h0M490.2 132.2h0M488.3 148.8h0M486.2 140.6h0M485.8 135.8h0M494.1 131.8h0M505.6 143.1h0M495.2 129.9h0M486.4 139.1h0M493.7 138.8h0M494.2 133.4h0M487.9 136.1h0M486.9 131.7h0M491.2 137.6h0M487.4 133.9h0M490.9 145h0M487.6 131.2h0M485.3 149.3h0M485.6 137.6h0M490.2 130.1h0M494.5 136.6h0M507 137.9h0M487.1 135.7h0M488.5 142.6h0M487.2 135.2h0M491 134.7h0M489.8 146.5h0M486.8 143.5h0M486.9 131.3h0M489.4 139.6h0M488.4 147.7h0M488 131.9h0M503.1 129.8h0M486.9 147.9h0M489.6 139.9h0M486.3 131.6h0" stroke="#000" stroke-width="0.7" stroke-linecap="round" fill="none" opacity="0.11"/>
<path d="M488.4 122.3h0M484.5 126.4h0M494 112.8h0M484.2 124h0M484.5 131.3h0M483.3 128h0M484.5 128.7h0M508.2 114.8h0M485.2 128.1h0M487.4 126.4h0M504 113.7h0M487.4 124.9h0M489.3 126.3h0M487.5 122.5h0M486.4 130.4h0M500.6 109h0M489.7 123.1h0M485.9 129.2h0M484.2 125.7h0M496.5 120.7h0M486.7 130.2h0M488.9 124.8h0M485.6 128.2h0M499.6 112.9h0M497.7 118.5h0M499.3 118.2h0M500.3 116.9h0M490.9 122.8h0M507.2 112.9h0M492 123.5h0M501.1 114.8h0M485.8 130.6h0M483.6 130.3h0M492.6 119.3h0M488.7 129.2h0M500.2 111.5h0M488.1 126.8h0M484.2 129.8h0M490.7 124.7h0M492.8 122.2h0M501.6 108.1h0M486.1 124.7h0M490.4 125.2h0M486.4 126.3h0M482.9 129h0M498.1 117.2h0M488.2 126.9h0M493.7 119.1h0M498.3 118.9h0M491.4 127.8h0M485 127.3h0M504.5 111h0M492.4 126.5h0M499.6 118.1h0M485.3 125h0M483.6 129.5h0M498.6 111.1h0M489 128.1h0M499.3 115.1h0M500.4 116.2h0M486.5 127.7h0M498.3 119.2h0M498.1 113.3h0M483.5 129.3h0M499.1 115.1h0M506.9 114.8h0M485.5 127.1h0M487.5 123.8h0M486.8 120.9h0M502.2 113.6h0M493.7 119.8h0M484.8 125.3h0M493.7 113.6h0M499.4 112.5h0M497.7 114.2h0M487.1 127.4h0M487.8 123h0M499.1 111h0M485.4 129.4h0M503.7 111h0M484.2 129.7h0M491 119.1h0M494.7 117.4h0M495.8 120.8h0M495.3 123.4h0M485.8 130h0M508.5 114.2h0M484.8 126.6h0M495.9 112.6h0M485.6 131.8h0M487.9 128.8h0M502.4 118.2h0M490.6 123.2h0M483.1 128.9h0M497.4 119.4h0M494.6 123.1h0M496.2 116.8h0M500.8 115.3h0M495.5 118h0M490.7 122.7h0M488.3 128.7h0M485.5 123.1h0M503.1 110.5h0M486.8 127h0M496.2 115h0M493.6 122.6h0M483.6 128.4h0M483.1 129.1h0M504.2 112.6h0M485.5 127.8h0M491.2 120.7h0M484.2 129.1h0M483.8 127.7h0M498.1 113h0M491.8 118.5h0M483.1 127.4h0M489.1 123.9h0M495 122.7h0M491.5 119.1h0M502.7 112.8h0M489.7 122.3h0M484.4 130.7h0M503 115.1h0M492.7 121.8h0M483.2 129.6h0M491.9 122.3h0M484.9 128.3h0M491.6 119.2h0M500.2 118h0M488.1 126.4h0M495 119.1h0M491.4 120.3h0M502.3 108.9h0M499.6 109.1h0M485.5 130.5h0M486.7 125.9h0M498.7 116.7h0M501.5 114.3h0M503.7 112.8h0M488.1 126.9h0M491.3 120h0M501.3 118.6h0M488.8 123.8h0M486.8 131.1h0M492.9 119h0M496.1 119.5h0M498.5 114.5h0M482.7 129.6h0M496.2 117.5h0M504.5 110.5h0M489.8 122.8h0M501.3 110.2h0" stroke="#000" stroke-width="0.8" stroke-linecap="round" fill="none" opacity="0.26"/>
<path d="M484.1 129L502.8 111.5" stroke="#000" stroke-width="4" stroke-linecap="round" opacity="0.06" filter="url(#b2)"/>
</g>
<rect x="458.9" y="103" width="50" height="49.6" fill="none" stroke="#888" stroke-width=".9"/>
<path d="M484.2 103V152.6M458.9 128.8H508.9" stroke="#1a1a1a" stroke-width=".8" fill="none"/>
<path d="M459.4 127.8V152.2H485.2" stroke="#000" stroke-width="2.3" fill="none"/>
<path d="M458.9 103V128.8" stroke="#333" stroke-width="1" fill="none"/>
<path d="M484.2 152.4H508.9" stroke="#666" stroke-width="1" fill="none"/>
<text x="460.2" y="108.7" font-size="6.4" text-anchor="start" font-weight="bold">0.3</text>
<text x="485.5" y="108.7" font-size="6.4" text-anchor="start" font-weight="bold">0.3</text>
<text x="459.5" y="151.9" font-size="6.4" text-anchor="start" font-weight="bold" style="stroke:#fff;stroke-width:1.3px;fill:#fff" opacity=".55">99.0</text>
<text x="459.5" y="151.9" font-size="6.4" text-anchor="start" font-weight="bold">99.0</text>
<text x="508.4" y="151.9" font-size="6.4" text-anchor="end" font-weight="bold">0.4</text>
</g>
<text x="70" y="174.6" font-size="10.5" text-anchor="start" font-weight="bold">% TNF<tspan class="n">α</tspan>+IFN<tspan class="n">γ</tspan>+ (% of control)</text>
<text x="73.6" y="188.4" font-size="10.8" text-anchor="middle" font-weight="bold">CD4</text>
<text x="200.2" y="188.4" font-size="10.8" text-anchor="middle" font-weight="bold">CD8</text>
<path d="M17 205.2V275.6H128.5" stroke="#000" stroke-width="1.5" fill="none" stroke-linejoin="miter"/>
<path d="M13.5 217.2H17M13.5 246.5H17" stroke="#000" stroke-width="1.2" fill="none"/>
<text x="12.6" y="219.9" font-size="7.6" text-anchor="end" font-weight="bold">100</text>
<text x="12.6" y="249.2" font-size="7.6" text-anchor="end" font-weight="bold">50</text>
<rect x="21.3" y="274.2" width="15" height="1.4" fill="#000"/>
<rect x="42.6" y="216.6" width="16.3" height="59" fill="#000"/>
<rect x="64.7" y="271.6" width="16.8" height="4" fill="#000"/>
<path d="M73.1 271.6V269.4M69.6 269.8H76.6" stroke="#000" stroke-width="1.1" fill="none"/>
<rect x="87.7" y="222.7" width="16.3" height="52.9" fill="#000"/>
<path d="M95.8 222.7V211.4M92.4 211.8H99.3" stroke="#000" stroke-width="1.1" fill="none"/>
<rect x="109.8" y="232" width="16.2" height="43.6" fill="#000"/>
<path d="M117.9 232V225.6M114.5 226H121.3" stroke="#000" stroke-width="1.1" fill="none"/>
<path d="M72.7 198.4H117.3" stroke="#000" stroke-width="1.2" fill="none"/>
<text x="94.8" y="199.9" font-size="10.2" text-anchor="middle" font-weight="bold">**</text>
<path d="M72.7 206.5H96.5" stroke="#000" stroke-width="1.2" fill="none"/>
<text x="84.8" y="208" font-size="10.2" text-anchor="middle" font-weight="bold">**</text>
<path d="M144.5 205.2V275.6H256.5" stroke="#000" stroke-width="1.5" fill="none" stroke-linejoin="miter"/>
<path d="M141 217.2H144.5M141 246.5H144.5" stroke="#000" stroke-width="1.2" fill="none"/>
<text x="140.4" y="219.9" font-size="7.6" text-anchor="end" font-weight="bold">100</text>
<text x="140.4" y="249.2" font-size="7.6" text-anchor="end" font-weight="bold">50</text>
<rect x="147.6" y="274.2" width="16.2" height="1.4" fill="#000"/>
<rect x="170.1" y="216.6" width="16.3" height="59" fill="#000"/>
<rect x="193.2" y="270.4" width="15.8" height="5.2" fill="#000"/>
<path d="M201.1 270.4V267.2M197.8 267.6H204.4" stroke="#000" stroke-width="1.1" fill="none"/>
<rect x="215.2" y="225.7" width="16.8" height="49.9" fill="#000"/>
<path d="M223.6 225.7V217M220.1 217.4H227.1" stroke="#000" stroke-width="1.1" fill="none"/>
<rect x="238.3" y="230.2" width="16.7" height="45.4" fill="#000"/>
<path d="M246.7 230.2V219.3M243.1 219.7H250.2" stroke="#000" stroke-width="1.1" fill="none"/>
<path d="M199.7 198.4H244" stroke="#000" stroke-width="1.2" fill="none"/>
<text x="221.6" y="199.9" font-size="10.2" text-anchor="middle" font-weight="bold">**</text>
<path d="M199.7 206.5H224" stroke="#000" stroke-width="1.2" fill="none"/>
<text x="211.6" y="208" font-size="10.2" text-anchor="middle" font-weight="bold">**</text>
<text x="27.8" y="283.6" font-size="6.7" text-anchor="middle" font-weight="bold">No Ag</text>
<text x="82.7" y="284.2" font-size="6.7" text-anchor="middle" font-weight="bold">pp65</text>
<path d="M43.9 281.5H73" stroke="#333" stroke-width="0.85" fill="none"/>
<path d="M92.4 281.5H124.8" stroke="#333" stroke-width="0.85" fill="none"/>
<text x="50.2" y="296.4" font-size="6.7" text-anchor="middle" font-weight="bold">DMSO</text>
<text x="73.6" y="291.6" font-size="6.7" text-anchor="middle" font-weight="bold">Tacro</text>
<text x="73.9" y="300.4" font-size="6.7" text-anchor="middle" font-weight="bold">10nM</text>
<text x="96.1" y="291.6" font-size="6.7" text-anchor="middle" font-weight="bold">U0126</text>
<text x="96.5" y="300.4" font-size="6.7" text-anchor="middle" font-weight="bold">10<tspan class="n">μ</tspan>M</text>
<text x="118.3" y="291.6" font-size="6.7" text-anchor="middle" font-weight="bold">Sel</text>
<text x="117.8" y="300.4" font-size="6.7" text-anchor="middle" font-weight="bold">10<tspan class="n">μ</tspan>M</text>
<text x="156" y="283.6" font-size="6.7" text-anchor="middle" font-weight="bold">No Ag</text>
<text x="210.2" y="284.2" font-size="6.7" text-anchor="middle" font-weight="bold">pp65</text>
<path d="M171.4 281.5H200.4" stroke="#333" stroke-width="0.85" fill="none"/>
<path d="M220 281.5H254" stroke="#333" stroke-width="0.85" fill="none"/>
<text x="177.6" y="296.4" font-size="6.7" text-anchor="middle" font-weight="bold">DMSO</text>
<text x="201.2" y="291.6" font-size="6.7" text-anchor="middle" font-weight="bold">Tacro</text>
<text x="201.4" y="300.4" font-size="6.7" text-anchor="middle" font-weight="bold">10nM</text>
<text x="223.8" y="291.6" font-size="6.7" text-anchor="middle" font-weight="bold">U0126</text>
<text x="224.2" y="300.4" font-size="6.7" text-anchor="middle" font-weight="bold">10<tspan class="n">μ</tspan>M</text>
<text x="246.3" y="291.6" font-size="6.7" text-anchor="middle" font-weight="bold">Sel</text>
<text x="246.4" y="300.4" font-size="6.7" text-anchor="middle" font-weight="bold">10<tspan class="n">μ</tspan>M</text>
<text x="224.2" y="308.7" font-size="8.0" text-anchor="start" font-weight="bold">** <tspan font-style="italic">p</tspan>&lt;0.01</text>
<text x="345.6" y="174.6" font-size="10.5" text-anchor="start" font-weight="bold">IFN<tspan class="n">γ</tspan>+ MFI (% of control)</text>
<text x="335.6" y="189" font-size="10.8" text-anchor="middle" font-weight="bold">CD4</text>
<text x="466.8" y="188.8" font-size="10.8" text-anchor="middle" font-weight="bold">CD8</text>
<path d="M277 206.2V275.4H388" stroke="#000" stroke-width="1.5" fill="none" stroke-linejoin="miter"/>
<path d="M273.5 217.6H277M273.5 246.6H277" stroke="#000" stroke-width="1.2" fill="none"/>
<text x="272.6" y="220.3" font-size="7.6" text-anchor="end" font-weight="bold">100</text>
<text x="272.6" y="249.3" font-size="7.6" text-anchor="end" font-weight="bold">50</text>
<rect x="280.8" y="217.2" width="20.6" height="58.2" fill="#000"/>
<rect x="309.6" y="265.3" width="20.1" height="10.1" fill="#000"/>
<path d="M319.6 265.3V263.2M315.4 263.6H323.9" stroke="#000" stroke-width="1.1" fill="none"/>
<rect x="338.2" y="244.5" width="20.3" height="30.9" fill="#000"/>
<path d="M348.4 244.5V239.6M344.1 240H352.6" stroke="#000" stroke-width="1.1" fill="none"/>
<rect x="366.5" y="252" width="20.3" height="23.4" fill="#000"/>
<path d="M376.6 252V247M372.4 247.4H380.9" stroke="#000" stroke-width="1.1" fill="none"/>
<path d="M319.7 198.9H373.3" stroke="#000" stroke-width="1.2" fill="none"/>
<text x="345.7" y="200.4" font-size="10.2" text-anchor="middle" font-weight="bold">**</text>
<path d="M319.7 207H348.5" stroke="#000" stroke-width="1.2" fill="none"/>
<text x="333.4" y="208.5" font-size="10.2" text-anchor="middle" font-weight="bold">**</text>
<path d="M406.2 206V275H517" stroke="#000" stroke-width="1.5" fill="none" stroke-linejoin="miter"/>
<path d="M402.7 217.6H406.2M402.7 246.8H406.2" stroke="#000" stroke-width="1.2" fill="none"/>
<text x="401.8" y="220.3" font-size="7.6" text-anchor="end" font-weight="bold">100</text>
<text x="401.8" y="249.5" font-size="7.6" text-anchor="end" font-weight="bold">50</text>
<rect x="410.5" y="217" width="20" height="58" fill="#000"/>
<rect x="438.9" y="262.2" width="20" height="12.8" fill="#000"/>
<path d="M448.9 262.2V257.2M444.7 257.6H453.1" stroke="#000" stroke-width="1.1" fill="none"/>
<rect x="467" y="239.2" width="20.3" height="35.8" fill="#000"/>
<path d="M477.1 239.2V225.4M472.9 225.8H481.4" stroke="#000" stroke-width="1.1" fill="none"/>
<rect x="495.4" y="248.6" width="19.7" height="26.4" fill="#000"/>
<path d="M505.2 248.6V239.4M501.1 239.8H509.4" stroke="#000" stroke-width="1.1" fill="none"/>
<path d="M446.2 199.8H503" stroke="#000" stroke-width="1.2" fill="none"/>
<text x="474.2" y="201.3" font-size="10.2" text-anchor="middle" font-weight="bold">*</text>
<path d="M446.2 208H476.8" stroke="#000" stroke-width="1.2" fill="none"/>
<text x="461" y="209.5" font-size="10.2" text-anchor="middle" font-weight="bold">**</text>
<text x="332.3" y="284" font-size="6.7" text-anchor="middle" font-weight="bold">pp65</text>
<path d="M281.3 281.4H322.7" stroke="#333" stroke-width="0.85" fill="none"/>
<path d="M342 281.4H386" stroke="#333" stroke-width="0.85" fill="none"/>
<text x="291.1" y="296.4" font-size="6.7" text-anchor="middle" font-weight="bold">DMSO</text>
<text x="319.8" y="291.6" font-size="6.7" text-anchor="middle" font-weight="bold">Tacro</text>
<text x="319.8" y="300.4" font-size="6.7" text-anchor="middle" font-weight="bold">10nM</text>
<text x="347.2" y="291.6" font-size="6.7" text-anchor="middle" font-weight="bold">U0126</text>
<text x="347.5" y="300.4" font-size="6.7" text-anchor="middle" font-weight="bold">10<tspan class="n">μ</tspan>M</text>
<text x="376.6" y="291.6" font-size="6.7" text-anchor="middle" font-weight="bold">Sel</text>
<text x="376.6" y="300.4" font-size="6.7" text-anchor="middle" font-weight="bold">10<tspan class="n">μ</tspan>M</text>
<text x="462" y="283.6" font-size="6.7" text-anchor="middle" font-weight="bold">pp65</text>
<path d="M409.7 281H452.4" stroke="#333" stroke-width="0.85" fill="none"/>
<path d="M471.9 281H514.3" stroke="#333" stroke-width="0.85" fill="none"/>
<text x="420.6" y="296.2" font-size="6.7" text-anchor="middle" font-weight="bold">DMSO</text>
<text x="449.2" y="291" font-size="6.7" text-anchor="middle" font-weight="bold">Tacro</text>
<text x="449.3" y="299.8" font-size="6.7" text-anchor="middle" font-weight="bold">10nM</text>
<text x="476.7" y="291" font-size="6.7" text-anchor="middle" font-weight="bold">U0126</text>
<text x="476.9" y="299.8" font-size="6.7" text-anchor="middle" font-weight="bold">10<tspan class="n">μ</tspan>M</text>
<text x="505.7" y="291" font-size="6.7" text-anchor="middle" font-weight="bold">Sel</text>
<text x="506.2" y="299.8" font-size="6.7" text-anchor="middle" font-weight="bold">10<tspan class="n">μ</tspan>M</text>
<text x="450.8" y="311.6" font-size="7.85" text-anchor="start" font-weight="bold">* <tspan font-style="italic">p</tspan>&lt;0.05 ** <tspan font-style="italic">p</tspan>&lt;0.01</text>
<text x="62.4" y="330.2" font-size="8.0" text-anchor="middle" font-weight="bold">No peptide</text>
<text x="118.5" y="330.2" font-size="8.0" text-anchor="middle" font-weight="bold">EBNA1/DMSO</text>
<text x="194.8" y="330.2" font-size="8.0" text-anchor="middle" font-weight="bold">EBNA1/U0126 10<tspan class="n">μ</tspan>M</text>
<text x="118.6" y="395.4" font-size="8.0" text-anchor="middle" font-weight="bold">EBNA1/Tacro 10nM</text>
<text x="194.9" y="395.4" font-size="8.0" text-anchor="middle" font-weight="bold">EBNA1/Sel 10<tspan class="n">μ</tspan>M</text>
<g>
<clipPath id="cg1"><rect x="38.4" y="334.2" width="49.7" height="48.8"/></clipPath>
<g clip-path="url(#cg1)">
<rect x="38.4" y="368" width="23.1" height="15.8" fill="#333"/>
<path d="M41.2 382C41.2 373.1 45.2 369.1 49.5 369.1C53.5 369.1 54.6 372.1 54.6 382Z" fill="#8c8c8c" stroke="#333" stroke-width=".45"/>
<path d="M42.2 382C42.2 375.2 45.3 371.2 48.7 371.2C51.8 371.2 52.7 374.2 52.7 382Z" fill="#b4b4b4" stroke="#555" stroke-width=".45"/>
<path d="M43.2 382C43.2 377.4 45.5 373.4 47.9 373.4C50.1 373.4 50.7 376.4 50.7 382Z" fill="#d6d6d6" stroke="#777" stroke-width=".45"/>
<path d="M44.3 382C44.3 379.5 45.6 375.5 47.1 375.5C48.5 375.5 48.8 378.5 48.8 382Z" fill="#f0f0f0" stroke="#999" stroke-width=".45"/>
<rect x="57.9" y="368.2" width="4" height="15.8" fill="#000" opacity=".6" filter="url(#b05)"/>
<path d="M38.4 362.2L41 368.7V383H38.4Z" fill="#000"/>
<path d="M38.4 368.3H61.5" stroke="#000" stroke-width="1.3" fill="none"/>
<path d="M81.3 353.9h0M76.6 359.1h0M66.5 365.1h0M69.2 366.5h0M72.9 362.2h0M66.7 370.9h0M87.5 350.5h0M86.4 350.2h0M81.3 353.8h0M63 367.3h0M77.9 349.1h0M83.3 355.2h0M64.1 368.6h0M65.4 358.6h0M58.8 369.7h0M70 364.8h0M65.1 366.7h0" stroke="#000" stroke-width="0.7" stroke-linecap="round" fill="none" opacity="0.18"/>
</g>
<rect x="38.4" y="334.2" width="49.7" height="48.8" fill="none" stroke="#888" stroke-width=".9"/>
<path d="M61.5 334.2V383M38.4 367.2H88.1" stroke="#333" stroke-width=".9" fill="none"/>
<path d="M38.4 334.2V367.2" stroke="#444" stroke-width="1" fill="none"/>
<path d="M38.8 367.2V382.7H62" stroke="#000" stroke-width="1.6" fill="none"/>
<circle cx="40.2" cy="381.4" r="1.7" fill="#fff" stroke="#000" stroke-width=".9"/>
<path d="M61.5 382.8H88.1" stroke="#555" stroke-width="1" fill="none"/>
<text x="39.9" y="340.9" font-size="6.7" text-anchor="start" font-weight="bold" style="stroke-width:.12px">0.09</text>
<text x="87.3" y="340.9" font-size="6.7" text-anchor="end" font-weight="bold" style="stroke-width:.12px">0.05</text>
<text x="40" y="382.4" font-size="6.7" text-anchor="start" font-weight="bold" style="stroke:#fff;stroke-width:1.2px;fill:#fff" opacity=".5">99.80</text>
<text x="40" y="382.4" font-size="6.7" text-anchor="start" font-weight="bold" style="stroke-width:.12px">99.80</text>
<text x="87.3" y="382.4" font-size="6.7" text-anchor="end" font-weight="bold" style="stroke-width:.12px">0.06</text>
</g>
<g>
<clipPath id="cg2"><rect x="94.4" y="334.2" width="50" height="48.8"/></clipPath>
<g clip-path="url(#cg2)">
<rect x="94.4" y="368" width="23.1" height="15.8" fill="#333"/>
<path d="M97.2 382C97.2 373.1 101.9 369.1 106.9 369.1C111.6 369.1 112.9 372.1 112.9 382Z" fill="#8c8c8c" stroke="#333" stroke-width=".45"/>
<path d="M98.4 382C98.4 375.2 102.1 371.2 106 371.2C109.7 371.2 110.6 374.2 110.6 382Z" fill="#b4b4b4" stroke="#555" stroke-width=".45"/>
<path d="M99.6 382C99.6 377.4 102.2 373.4 105 373.4C107.7 373.4 108.4 376.4 108.4 382Z" fill="#d6d6d6" stroke="#777" stroke-width=".45"/>
<path d="M100.8 382C100.8 379.5 102.4 375.5 104.1 375.5C105.7 375.5 106.1 378.5 106.1 382Z" fill="#f0f0f0" stroke="#999" stroke-width=".45"/>
<rect x="113.9" y="368.2" width="4" height="15.8" fill="#000" opacity=".6" filter="url(#b05)"/>
<path d="M94.4 362.2L97 368.7V383H94.4Z" fill="#000"/>
<path d="M94.4 368.3H117.5" stroke="#000" stroke-width="1.3" fill="none"/>
<path d="M134.4 355.1h0M113.5 364.7h0M116.3 372.7h0M127.6 361.2h0M118.6 361.5h0M115.9 365h0M122.2 364.8h0M113.2 372h0M119.1 364.4h0M124.7 360h0M122.4 366.9h0M126 365.8h0M119 364.1h0M115.7 370h0M142.4 351.9h0M119.7 371.5h0M128.3 360.7h0M119.6 373.4h0M121.8 369.8h0M135.5 356.8h0M118.2 365.6h0M129.6 359.6h0M128.3 350.9h0M134.7 349.5h0M135.6 349.5h0M137.2 356.9h0M128.6 361.5h0M129.8 356.8h0M120 362.3h0M128.9 354.9h0M131.5 360.8h0M133.4 360.6h0M114.8 364.4h0M135.1 350.8h0M120.9 362.2h0M135.8 353.3h0M136.4 349.7h0M123.8 363.9h0M117.6 366.2h0M113.9 365.4h0M115.8 365h0M140 345.5h0M140.5 347.3h0M113.8 373.4h0M127.8 354.8h0M125.7 360.1h0M120.7 356.2h0M117.4 370h0M109.4 369.9h0M112.4 371.1h0M129.3 358.5h0M125.2 355h0M121 357h0M114.9 368.9h0M120.4 362.4h0M142.9 348.9h0M118.9 363.9h0M117.6 364.1h0M124.3 356.7h0M135.3 346.7h0M134.8 348.2h0M128.2 359.9h0M130.7 357.9h0M127.5 348.4h0M129.1 355.4h0M126 367.8h0M125.5 359.9h0" stroke="#000" stroke-width="0.7" stroke-linecap="round" fill="none" opacity="0.18"/>
<path d="M138.3 352.9h0M138.6 356.9h0M139.6 351.5h0M139.5 353.6h0M141 354.9h0M138.2 356.5h0M137.7 352.7h0M139.8 356.9h0M136.8 355.8h0M138.5 349.2h0M138.7 357.8h0M139.4 356.4h0M134.9 354.9h0M136.9 354.7h0M136.8 356.2h0M136.6 358.8h0M139.6 357.5h0M138.3 350.7h0M135.7 356h0M135.2 356.7h0M138.3 357.3h0M138.4 356.8h0M140 355.6h0M139.8 354.4h0M136.8 356.8h0M137.6 354.6h0M138.4 354.3h0M141.8 351.5h0M141.7 354.1h0M137.6 352.9h0M137.1 360.3h0M137.6 355h0M139.5 353.6h0M141.5 356.4h0M135.6 350.6h0M142.3 356.1h0M137 351.9h0M138.7 353.5h0M137.9 356.4h0M137.6 355h0M140.6 356h0M139.4 353.6h0M142.7 353.3h0M139.7 358.6h0M139.4 355.2h0M138.4 356.9h0M137.3 354.1h0M141.3 353.9h0M137.6 355.5h0M138.8 353.5h0M139.6 354h0M136.7 355.2h0M140.7 359h0M138.4 352.8h0M137.7 354.8h0M136.3 354.2h0" stroke="#000" stroke-width="0.8" stroke-linecap="round" fill="none" opacity="0.15"/>
</g>
<rect x="94.4" y="334.2" width="50" height="48.8" fill="none" stroke="#888" stroke-width=".9"/>
<path d="M117.5 334.2V383M94.4 367.2H144.4" stroke="#333" stroke-width=".9" fill="none"/>
<path d="M94.4 334.2V367.2" stroke="#444" stroke-width="1" fill="none"/>
<path d="M94.8 367.2V382.7H118" stroke="#000" stroke-width="1.6" fill="none"/>
<circle cx="96.2" cy="381.4" r="1.7" fill="#fff" stroke="#000" stroke-width=".9"/>
<path d="M117.5 382.8H144.4" stroke="#555" stroke-width="1" fill="none"/>
<text x="95.9" y="340.9" font-size="6.7" text-anchor="start" font-weight="bold" style="stroke-width:.12px">0.24</text>
<text x="143.6" y="340.9" font-size="6.7" text-anchor="end" font-weight="bold" style="stroke-width:.12px">0.41</text>
<text x="96" y="382.4" font-size="6.7" text-anchor="start" font-weight="bold" style="stroke:#fff;stroke-width:1.2px;fill:#fff" opacity=".5">99.20</text>
<text x="96" y="382.4" font-size="6.7" text-anchor="start" font-weight="bold" style="stroke-width:.12px">99.20</text>
<text x="143.6" y="382.4" font-size="6.7" text-anchor="end" font-weight="bold" style="stroke-width:.12px">0.15</text>
</g>
<g>
<clipPath id="cg3"><rect x="170.7" y="334.2" width="49.7" height="48.7"/></clipPath>
<g clip-path="url(#cg3)">
<rect x="187.8" y="370.7" width="15" height="15.7" fill="#555" opacity=".6" filter="url(#b1)"/>
<path d="M191.9 383.9V372.2C191.9 367.7 200.9 365.7 200.9 371.2V383.9Z" fill="#0a0a0a" filter="url(#b05)"/>
<path d="M195.6 381.9V373.2C195.6 369.8 198.6 369.8 198.6 373.2V381.9" fill="none" stroke="#999" stroke-width=".8"/>
<path d="M200.4 368.6h0M199.1 359.8h0M202.6 371.7h0M199.9 365.8h0M198.4 379.2h0M202.7 371.9h0M198.6 365h0M198.3 372.4h0M199.3 361.7h0M199.2 368.6h0M199.8 372h0M200.2 370.9h0M199.4 379.4h0M203.1 366.2h0M198.9 367.9h0M195.4 360.1h0M201.8 372.9h0M198.3 367h0M197.7 367.8h0M198.1 364.6h0M196 376.2h0M200 368.1h0M197.6 370.6h0M196.3 362.1h0M198.1 366.5h0M201.6 373h0M198.1 376.5h0M199.2 374.3h0M204.6 365.1h0M200.6 361.9h0M198.3 371.5h0M198 368.3h0M197.7 374.5h0M204.1 372h0M197.5 369.8h0M197.2 366.7h0M196.7 372.7h0M199.1 361.1h0M197.7 362.4h0M199.7 365.6h0M198.6 382.8h0M200.6 373.9h0M198.6 367.1h0M200 367h0M199.6 373.3h0M197.6 366.6h0M197.7 360.8h0M193 368.1h0M202.7 365.1h0M198.7 368.2h0M199.4 361.9h0M198.8 371.7h0M198.9 361.4h0M197.2 367.7h0M199.1 373.6h0M197 379.7h0M198.9 371.9h0M199.7 370.9h0M199.9 363.2h0M195.1 377.8h0M201.1 369.3h0M201 370.7h0M201 370.6h0M202.1 373.1h0M203.4 371.4h0M196.1 370.8h0M196.9 369.4h0M200 371.2h0M197.6 371.2h0M200.4 372.4h0" stroke="#000" stroke-width="0.75" stroke-linecap="round" fill="none" opacity="0.25"/>
<path d="M218.5 354.2h0M200.7 363.1h0M197.6 370h0M194.1 367.1h0M196.4 368.5h0M214.1 353.8h0M215.9 349.9h0M201.7 358.4h0M197.9 369h0M202.6 368h0M211.6 358.1h0M204.3 367.5h0M204.7 354.5h0M208.1 360.1h0M215.1 351.4h0M206.1 368.8h0M211 353.9h0M221.5 354.1h0M219.7 348.2h0M206.4 364.8h0M203.5 359.2h0M202.3 367.2h0M201.5 368.1h0M195 367.6h0M207 354.8h0M205.4 366.3h0M206 361.3h0M206.8 354.6h0M213.7 350.8h0M190.6 365.3h0M210.1 351.8h0M210.9 353h0M211.8 355h0M212.1 348.2h0M221.9 343.9h0M205.1 354.6h0M203.9 363.7h0M214.5 353.4h0M197.1 370.5h0M207.9 366.9h0M207.8 357.7h0M200 353.5h0M209.1 354.1h0M212.4 360.6h0M212.7 354.3h0M207.9 360.2h0M204.4 356.2h0M209.2 361.1h0M198.4 370.7h0M196.9 364.6h0" stroke="#000" stroke-width="0.7" stroke-linecap="round" fill="none" opacity="0.18"/>
<path d="M214.1 356.2h0M211.2 358h0M212.2 360.8h0M212.4 359.8h0M216.4 357.2h0M214 361.1h0M214.1 361.7h0M212.6 359.7h0M212.1 357.8h0M212.8 358.4h0M213.8 356.6h0M216.4 354.8h0M212.4 361.7h0M212.6 360.6h0M212.2 356.3h0M216.4 359.5h0M213.6 359.1h0M216.7 360.4h0M213.3 357h0M213.3 359h0M211.3 354h0M216.3 358.3h0M212.3 364h0M212.9 354.2h0M211.6 359.6h0M213.1 360.6h0M210 354.9h0M212.3 359h0M214.3 356.2h0M212.9 361.3h0M211.7 356.4h0M212.9 357h0M213.7 356.9h0M212 355h0M212.7 363.9h0M209.8 361.4h0M213.7 362.7h0M214.5 357.7h0M213.2 360.2h0M213.7 359.4h0M213.2 356.6h0M213.8 359.5h0M209.7 356.3h0M212.2 354.5h0M214.1 356h0M212.8 362.9h0M213 354.9h0M214.2 359h0M211.9 357.5h0M213.2 356.9h0M212 360.1h0M211.2 357.7h0M213.7 360.9h0M213.6 359.1h0M215 360h0M209.5 356h0M212.3 357.7h0M214 356.3h0M212.1 359.6h0M215.4 356.4h0M211.5 354.4h0M215.2 358.4h0M212.5 356.3h0" stroke="#000" stroke-width="0.8" stroke-linecap="round" fill="none" opacity="0.15"/>
</g>
<rect x="170.7" y="334.2" width="49.7" height="48.7" fill="none" stroke="#888" stroke-width=".9"/>
<path d="M200.3 334.2V382.9M170.7 367.2H220.4" stroke="#333" stroke-width=".9" fill="none"/>
<path d="M170.7 334.2V367.2" stroke="#444" stroke-width="1" fill="none"/>
<path d="M189.3 382.7H203.3" stroke="#222" stroke-width="1.2" fill="none"/>
<path d="M200.3 382.7H220.4" stroke="#555" stroke-width="1" fill="none"/>
<text x="172.2" y="340.9" font-size="6.7" text-anchor="start" font-weight="bold" style="stroke-width:.12px">0.17</text>
<text x="219.6" y="340.9" font-size="6.7" text-anchor="end" font-weight="bold" style="stroke-width:.12px">0.30</text>
<text x="172.3" y="382.3" font-size="6.7" text-anchor="start" font-weight="bold" style="stroke:#fff;stroke-width:1.2px;fill:#fff" opacity=".5">99.23</text>
<text x="172.3" y="382.3" font-size="6.7" text-anchor="start" font-weight="bold" style="stroke-width:.12px">99.23</text>
<text x="219.6" y="382.3" font-size="6.7" text-anchor="end" font-weight="bold" style="stroke-width:.12px">0.30</text>
</g>
<g>
<clipPath id="cg4"><rect x="94.4" y="399.8" width="49.7" height="48.5"/></clipPath>
<g clip-path="url(#cg4)">
<rect x="94.4" y="433" width="22.6" height="16.1" fill="#333"/>
<path d="M98 447.3C98 438.1 101.9 434.1 106.1 434.1C110.1 434.1 111.1 437.1 111.1 447.3Z" fill="#8c8c8c" stroke="#333" stroke-width=".45"/>
<path d="M99 447.3C99 440.3 102.1 436.3 105.4 436.3C108.4 436.3 109.2 439.3 109.2 447.3Z" fill="#b4b4b4" stroke="#555" stroke-width=".45"/>
<path d="M100 447.3C100 442.5 102.2 438.5 104.6 438.5C106.8 438.5 107.4 441.5 107.4 447.3Z" fill="#d6d6d6" stroke="#777" stroke-width=".45"/>
<path d="M101 447.3C101 444.7 102.4 440.7 103.8 440.7C105.1 440.7 105.5 443.7 105.5 447.3Z" fill="#f0f0f0" stroke="#999" stroke-width=".45"/>
<rect x="113.4" y="433.2" width="4" height="16.1" fill="#000" opacity=".6" filter="url(#b05)"/>
<path d="M94.4 427.2L97 433.7V448.3H94.4Z" fill="#000"/>
<path d="M94.4 433.3H117" stroke="#000" stroke-width="1.3" fill="none"/>
<path d="M132.5 422.6h0M145.6 417.4h0M122.2 427.5h0M134.8 409.8h0M134.2 420.4h0M137.9 418.8h0M117.6 434.2h0M125 430.3h0M127.3 424.8h0M137 415.9h0M126.1 427.7h0M138 416.6h0M124.6 426.2h0M121.7 432.4h0M140.3 418.3h0M128.4 423.1h0M128.6 421.7h0M138.7 416.1h0M120.1 432.6h0M132.8 412.8h0M119.3 426.3h0M134.3 421.7h0M117.9 427.2h0M132.2 423h0M121.6 433.6h0M139.7 413.8h0M124 426.6h0M123.4 425.9h0" stroke="#000" stroke-width="0.7" stroke-linecap="round" fill="none" opacity="0.18"/>
</g>
<rect x="94.4" y="399.8" width="49.7" height="48.5" fill="none" stroke="#888" stroke-width=".9"/>
<path d="M117 399.8V448.3M94.4 432.2H144.1" stroke="#333" stroke-width=".9" fill="none"/>
<path d="M94.4 399.8V432.2" stroke="#444" stroke-width="1" fill="none"/>
<path d="M94.8 432.2V448H117.5" stroke="#000" stroke-width="1.6" fill="none"/>
<circle cx="96.2" cy="446.7" r="1.7" fill="#fff" stroke="#000" stroke-width=".9"/>
<path d="M117 448.1H144.1" stroke="#555" stroke-width="1" fill="none"/>
<text x="95.9" y="406.5" font-size="6.7" text-anchor="start" font-weight="bold" style="stroke-width:.12px">0.07</text>
<text x="143.3" y="406.5" font-size="6.7" text-anchor="end" font-weight="bold" style="stroke-width:.12px">0.06</text>
<text x="96" y="447.7" font-size="6.7" text-anchor="start" font-weight="bold" style="stroke:#fff;stroke-width:1.2px;fill:#fff" opacity=".5">99.67</text>
<text x="96" y="447.7" font-size="6.7" text-anchor="start" font-weight="bold" style="stroke-width:.12px">99.67</text>
<text x="143.3" y="447.7" font-size="6.7" text-anchor="end" font-weight="bold" style="stroke-width:.12px">0.20</text>
</g>
<g>
<clipPath id="cg5"><rect x="170.6" y="399.8" width="49.9" height="48.5"/></clipPath>
<g clip-path="url(#cg5)">
<rect x="170.6" y="433" width="22.5" height="16.1" fill="#333"/>
<path d="M173.3 447.3C173.3 438.1 177.9 434.1 182.8 434.1C187.4 434.1 188.6 437.1 188.6 447.3Z" fill="#8c8c8c" stroke="#333" stroke-width=".45"/>
<path d="M174.5 447.3C174.5 440.3 178.1 436.3 181.9 436.3C185.5 436.3 186.4 439.3 186.4 447.3Z" fill="#b4b4b4" stroke="#555" stroke-width=".45"/>
<path d="M175.7 447.3C175.7 442.5 178.2 438.5 181 438.5C183.5 438.5 184.2 441.5 184.2 447.3Z" fill="#d6d6d6" stroke="#777" stroke-width=".45"/>
<path d="M176.8 447.3C176.8 444.7 178.4 440.7 180.1 440.7C181.6 440.7 182 443.7 182 447.3Z" fill="#f0f0f0" stroke="#999" stroke-width=".45"/>
<rect x="189.5" y="433.2" width="4" height="16.1" fill="#000" opacity=".6" filter="url(#b05)"/>
<path d="M170.6 427.2L173.2 433.7V448.3H170.6Z" fill="#000"/>
<path d="M170.6 433.3H193.1" stroke="#000" stroke-width="1.3" fill="none"/>
<path d="M209.7 418.7h0M207.3 426.2h0M194.5 432.6h0M206 421h0M212.9 422.6h0M202.4 427.5h0M213.9 411.4h0M203.3 427.9h0M208.9 420.1h0M213.3 421.1h0M197.8 434.4h0M220.2 418.3h0M193.6 420.4h0M213.4 417.1h0M206.6 422.7h0M186.1 429.9h0M208.1 422.5h0M202.7 431.8h0M214.3 412.6h0M215.1 410.1h0M206.5 425.8h0M198.1 421.9h0M190 439.7h0M214.3 421.1h0M201.8 426.8h0M197 424.2h0M198.5 434.5h0M202.6 423.5h0M211 418.6h0M216.2 421.4h0M197.1 430.6h0M203.9 424.9h0M194.1 428.3h0M191.9 438.2h0M195.6 423.3h0M212.1 419.9h0M222.1 412.5h0M214.2 419.2h0M200 425.3h0M202.5 425.1h0M204.6 425.8h0M214.2 413.3h0M201.6 430.3h0M217.1 417.5h0M212 414.7h0M190.2 432.7h0M192 429.4h0M212.6 418.4h0M211.4 420.2h0M193.7 431.6h0M203.7 432.3h0M217.6 411.3h0M202.4 415.6h0M194.9 433.3h0M194.9 430.9h0M210.3 419.5h0M205.1 421.2h0M214 412.9h0M204.5 421.4h0M215.4 419.6h0M214.6 422.5h0" stroke="#000" stroke-width="0.7" stroke-linecap="round" fill="none" opacity="0.18"/>
<path d="M213 425h0M213.4 423.6h0M212.4 422.7h0M214.3 423h0M214.9 423.5h0M212.1 422.7h0M211.9 425.5h0M212.7 421.3h0M213.2 424.4h0M214.2 421.1h0M212.7 430.7h0M212.8 423.8h0M216.3 424.2h0M215.3 427.4h0M217.7 423.8h0M212 422.7h0M213.4 425.1h0M212.5 426.9h0M212.9 426.5h0M210.9 427h0M210.7 424.3h0M212.9 427h0M212.5 422.8h0M212.2 426.4h0M213 426.4h0M211 430h0M211.7 422.6h0M213.5 429.1h0M213.3 426.5h0M212.1 424.2h0M218.4 424.6h0M215.9 428.5h0M213.5 422.6h0M211.6 425.7h0M210.1 429.8h0M211.8 421.3h0M213.9 422.4h0M211.5 421.6h0M214.6 425.6h0M213.2 419.8h0M212.8 429.6h0M212.4 425.9h0M213 428.3h0M210.2 424.3h0M211.5 424.3h0M213.9 421.5h0M212.1 425.4h0M211.8 424.5h0M211.5 425.4h0M214.5 419.9h0M213.9 422.6h0M211.9 425h0M215.6 424.3h0M213.1 423.9h0M214.3 424.8h0M213.2 420.7h0" stroke="#000" stroke-width="0.8" stroke-linecap="round" fill="none" opacity="0.15"/>
</g>
<rect x="170.6" y="399.8" width="49.9" height="48.5" fill="none" stroke="#888" stroke-width=".9"/>
<path d="M193.1 399.8V448.3M170.6 432.2H220.5" stroke="#333" stroke-width=".9" fill="none"/>
<path d="M170.6 399.8V432.2" stroke="#444" stroke-width="1" fill="none"/>
<path d="M171 432.2V448H193.6" stroke="#000" stroke-width="1.6" fill="none"/>
<circle cx="172.4" cy="446.7" r="1.7" fill="#fff" stroke="#000" stroke-width=".9"/>
<path d="M193.1 448.1H220.5" stroke="#555" stroke-width="1" fill="none"/>
<text x="172.1" y="406.5" font-size="6.7" text-anchor="start" font-weight="bold" style="stroke-width:.12px">0.11</text>
<text x="219.7" y="406.5" font-size="6.7" text-anchor="end" font-weight="bold" style="stroke-width:.12px">0.34</text>
<text x="172.2" y="447.7" font-size="6.7" text-anchor="start" font-weight="bold" style="stroke:#fff;stroke-width:1.2px;fill:#fff" opacity=".5">99.38</text>
<text x="172.2" y="447.7" font-size="6.7" text-anchor="start" font-weight="bold" style="stroke-width:.12px">99.38</text>
<text x="219.7" y="447.7" font-size="6.7" text-anchor="end" font-weight="bold" style="stroke-width:.12px">0.17</text>
</g>
<text x="315.6" y="336" font-size="9.7" text-anchor="start" font-weight="bold">% TNF<tspan class="n">α</tspan>+IFN<tspan class="n">γ</tspan>+ (% of control)</text>
<path d="M323.6 343.6V423.3H442" stroke="#000" stroke-width="1.5" fill="none" stroke-linejoin="miter"/>
<path d="M320.1 351.7H323.6M320.1 387.6H323.6" stroke="#000" stroke-width="1.2" fill="none"/>
<text x="320" y="354.4" font-size="7.8" text-anchor="end" font-weight="bold">100</text>
<text x="320" y="390.3" font-size="7.8" text-anchor="end" font-weight="bold">50</text>
<rect x="326.3" y="417" width="17.6" height="6.3" fill="#000"/>
<path d="M335.1 417V414M331.4 414.4H338.8" stroke="#000" stroke-width="1.1" fill="none"/>
<rect x="351.4" y="351.3" width="16.8" height="72" fill="#000"/>
<rect x="374.7" y="417" width="17.3" height="6.3" fill="#000"/>
<path d="M383.4 417V414M379.7 414.4H387" stroke="#000" stroke-width="1.1" fill="none"/>
<rect x="399" y="374.4" width="16.8" height="48.9" fill="#000"/>
<path d="M407.4 374.4V364.5M403.9 364.9H410.9" stroke="#000" stroke-width="1.1" fill="none"/>
<rect x="422.5" y="374.3" width="16.9" height="49" fill="#000"/>
<path d="M430.9 374.3V361.3M427.4 361.7H434.5" stroke="#000" stroke-width="1.1" fill="none"/>
<path d="M382.4 346.5H430.6" stroke="#000" stroke-width="1.2" fill="none"/>
<text x="406.5" y="348" font-size="10.2" text-anchor="middle" font-weight="bold">*</text>
<path d="M382.4 355.6H406.4" stroke="#000" stroke-width="1.2" fill="none"/>
<text x="394.9" y="357.1" font-size="10.2" text-anchor="middle" font-weight="bold">*</text>
<text x="335.1" y="432" font-size="5.9" text-anchor="middle" font-weight="bold">No</text>
<text x="335.7" y="439.8" font-size="5.9" text-anchor="middle" font-weight="bold">peptide</text>
<text x="394.2" y="431.8" font-size="5.9" text-anchor="middle" font-weight="bold">EBNA1</text>
<path d="M352 429.5H382.6" stroke="#333" stroke-width="0.85" fill="none"/>
<path d="M405.8 429.5H438.9" stroke="#333" stroke-width="0.85" fill="none"/>
<text x="359.3" y="442.4" font-size="5.9" text-anchor="middle" font-weight="bold">DMSO</text>
<text x="383.6" y="440.2" font-size="5.9" text-anchor="middle" font-weight="bold">Tacro</text>
<text x="383.6" y="447.6" font-size="5.9" text-anchor="middle" font-weight="bold">10nM</text>
<text x="407.6" y="440.2" font-size="5.9" text-anchor="middle" font-weight="bold">U0126</text>
<text x="407.8" y="447.6" font-size="5.9" text-anchor="middle" font-weight="bold">10<tspan class="n">μ</tspan>M</text>
<text x="431.2" y="440.2" font-size="5.9" text-anchor="middle" font-weight="bold">Sel</text>
<text x="431.4" y="447.6" font-size="5.9" text-anchor="middle" font-weight="bold">10<tspan class="n">μ</tspan>M</text>
<text x="450" y="440" font-size="8.0" text-anchor="start" font-weight="bold">* <tspan font-style="italic">p</tspan>&lt;0.05</text>
</g>
</svg></body></html>
